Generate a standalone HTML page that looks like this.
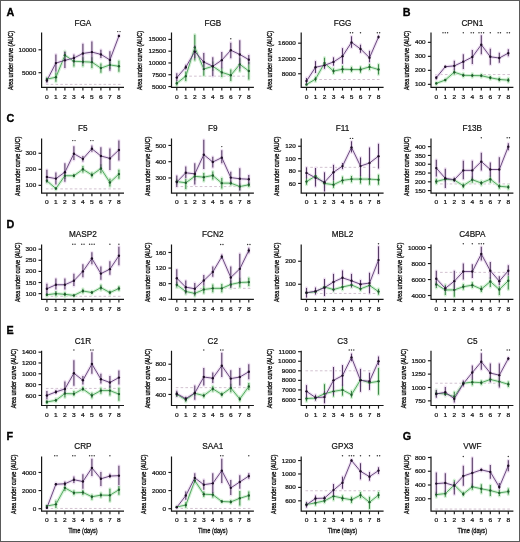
<!DOCTYPE html>
<html><head><meta charset="utf-8"><style>
html,body{margin:0;padding:0;background:#fff;}
svg{display:block;font-family:"Liberation Sans",sans-serif;will-change:transform;}
</style></head><body>
<svg width="520" height="542" viewBox="0 0 520 542" font-family="Liberation Sans, sans-serif"><rect x="0.5" y="0.5" width="519" height="541" fill="#fff" stroke="#5a5a5a" stroke-width="1"/><g><line x1="45.9" x2="121.9" y1="84.38" y2="84.38" stroke="#d2c2d0" stroke-width="1" stroke-dasharray="2.6 2.2"/><path d="M46.9,79.11 L55.9,77.28 L64.9,55.3 L73.9,61.25 L82.9,61.71 L91.9,62.17 L100.9,68.12 L109.9,64.91 L118.9,66.29M46.9,81.86V77.28M55.9,81.86V72.24M64.9,60.79V51.17M73.9,66.52V57.59M82.9,66.29V57.13M91.9,68.12V57.13M100.9,72.7V63.54M109.9,69.04V59.88M118.9,71.78V60.79" fill="none" stroke="#d5f1d6" stroke-width="3.2" stroke-linejoin="round" stroke-linecap="round"/><path d="M46.9,80.49 L55.9,63.08 L64.9,60.33 L73.9,58.04 L82.9,53.46 L91.9,52.09 L100.9,54.38 L109.9,59.88 L118.9,36.06M46.9,82.78V78.2M55.9,71.78V54.38M64.9,68.12V52.09M73.9,62.17V54.38M82.9,63.54V43.85M91.9,62.17V41.56M100.9,58.04V49.8M109.9,70.87V51.17M118.9,36.98V34.69" fill="none" stroke="#f0e2f3" stroke-width="3.2" stroke-linejoin="round" stroke-linecap="round"/><line x1="46.9" x2="46.9" y1="81.86" y2="77.28" stroke="#3f8a4a" stroke-width="1.1"/><line x1="55.9" x2="55.9" y1="81.86" y2="72.24" stroke="#3f8a4a" stroke-width="1.1"/><line x1="64.9" x2="64.9" y1="60.79" y2="51.17" stroke="#3f8a4a" stroke-width="1.1"/><line x1="73.9" x2="73.9" y1="66.52" y2="57.59" stroke="#3f8a4a" stroke-width="1.1"/><line x1="82.9" x2="82.9" y1="66.29" y2="57.13" stroke="#3f8a4a" stroke-width="1.1"/><line x1="91.9" x2="91.9" y1="68.12" y2="57.13" stroke="#3f8a4a" stroke-width="1.1"/><line x1="100.9" x2="100.9" y1="72.7" y2="63.54" stroke="#3f8a4a" stroke-width="1.1"/><line x1="109.9" x2="109.9" y1="69.04" y2="59.88" stroke="#3f8a4a" stroke-width="1.1"/><line x1="118.9" x2="118.9" y1="71.78" y2="60.79" stroke="#3f8a4a" stroke-width="1.1"/><line x1="46.9" x2="46.9" y1="82.78" y2="78.2" stroke="#553a66" stroke-width="1.1"/><line x1="55.9" x2="55.9" y1="71.78" y2="54.38" stroke="#553a66" stroke-width="1.1"/><line x1="64.9" x2="64.9" y1="68.12" y2="52.09" stroke="#553a66" stroke-width="1.1"/><line x1="73.9" x2="73.9" y1="62.17" y2="54.38" stroke="#553a66" stroke-width="1.1"/><line x1="82.9" x2="82.9" y1="63.54" y2="43.85" stroke="#553a66" stroke-width="1.1"/><line x1="91.9" x2="91.9" y1="62.17" y2="41.56" stroke="#553a66" stroke-width="1.1"/><line x1="100.9" x2="100.9" y1="58.04" y2="49.8" stroke="#553a66" stroke-width="1.1"/><line x1="109.9" x2="109.9" y1="70.87" y2="51.17" stroke="#553a66" stroke-width="1.1"/><line x1="118.9" x2="118.9" y1="36.98" y2="34.69" stroke="#553a66" stroke-width="1.1"/><polyline points="46.9,79.11 55.9,77.28 64.9,55.3 73.9,61.25 82.9,61.71 91.9,62.17 100.9,68.12 109.9,64.91 118.9,66.29" fill="none" stroke="#45a055" stroke-width="0.9"/><polyline points="46.9,80.49 55.9,63.08 64.9,60.33 73.9,58.04 82.9,53.46 91.9,52.09 100.9,54.38 109.9,59.88 118.9,36.06" fill="none" stroke="#5a3a72" stroke-width="0.9"/><circle cx="46.9" cy="79.11" r="1.2" fill="#1f5a2c"/><circle cx="55.9" cy="77.28" r="1.2" fill="#1f5a2c"/><circle cx="64.9" cy="55.3" r="1.2" fill="#1f5a2c"/><circle cx="73.9" cy="61.25" r="1.2" fill="#1f5a2c"/><circle cx="82.9" cy="61.71" r="1.2" fill="#1f5a2c"/><circle cx="91.9" cy="62.17" r="1.2" fill="#1f5a2c"/><circle cx="100.9" cy="68.12" r="1.2" fill="#1f5a2c"/><circle cx="109.9" cy="64.91" r="1.2" fill="#1f5a2c"/><circle cx="118.9" cy="66.29" r="1.2" fill="#1f5a2c"/><circle cx="46.9" cy="80.49" r="1.2" fill="#1e0f26"/><circle cx="55.9" cy="63.08" r="1.2" fill="#1e0f26"/><circle cx="64.9" cy="60.33" r="1.2" fill="#1e0f26"/><circle cx="73.9" cy="58.04" r="1.2" fill="#1e0f26"/><circle cx="82.9" cy="53.46" r="1.2" fill="#1e0f26"/><circle cx="91.9" cy="52.09" r="1.2" fill="#1e0f26"/><circle cx="100.9" cy="54.38" r="1.2" fill="#1e0f26"/><circle cx="109.9" cy="59.88" r="1.2" fill="#1e0f26"/><circle cx="118.9" cy="36.06" r="1.2" fill="#1e0f26"/><path d="M41.6,32.6V87.4H124" fill="none" stroke="#151515" stroke-width="1.2"/><line x1="46.9" x2="46.9" y1="87.4" y2="90.5" stroke="#1a1a1a" stroke-width="1.15"/><text transform="translate(46.9,98.6) scale(1.1,1)" text-anchor="middle" font-size="6" fill="#1a1a1a" stroke="#1a1a1a" stroke-width="0.25">0</text><line x1="55.9" x2="55.9" y1="87.4" y2="90.5" stroke="#1a1a1a" stroke-width="1.15"/><text transform="translate(55.9,98.6) scale(1.1,1)" text-anchor="middle" font-size="6" fill="#1a1a1a" stroke="#1a1a1a" stroke-width="0.25">1</text><line x1="64.9" x2="64.9" y1="87.4" y2="90.5" stroke="#1a1a1a" stroke-width="1.15"/><text transform="translate(64.9,98.6) scale(1.1,1)" text-anchor="middle" font-size="6" fill="#1a1a1a" stroke="#1a1a1a" stroke-width="0.25">2</text><line x1="73.9" x2="73.9" y1="87.4" y2="90.5" stroke="#1a1a1a" stroke-width="1.15"/><text transform="translate(73.9,98.6) scale(1.1,1)" text-anchor="middle" font-size="6" fill="#1a1a1a" stroke="#1a1a1a" stroke-width="0.25">3</text><line x1="82.9" x2="82.9" y1="87.4" y2="90.5" stroke="#1a1a1a" stroke-width="1.15"/><text transform="translate(82.9,98.6) scale(1.1,1)" text-anchor="middle" font-size="6" fill="#1a1a1a" stroke="#1a1a1a" stroke-width="0.25">4</text><line x1="91.9" x2="91.9" y1="87.4" y2="90.5" stroke="#1a1a1a" stroke-width="1.15"/><text transform="translate(91.9,98.6) scale(1.1,1)" text-anchor="middle" font-size="6" fill="#1a1a1a" stroke="#1a1a1a" stroke-width="0.25">5</text><line x1="100.9" x2="100.9" y1="87.4" y2="90.5" stroke="#1a1a1a" stroke-width="1.15"/><text transform="translate(100.9,98.6) scale(1.1,1)" text-anchor="middle" font-size="6" fill="#1a1a1a" stroke="#1a1a1a" stroke-width="0.25">6</text><line x1="109.9" x2="109.9" y1="87.4" y2="90.5" stroke="#1a1a1a" stroke-width="1.15"/><text transform="translate(109.9,98.6) scale(1.1,1)" text-anchor="middle" font-size="6" fill="#1a1a1a" stroke="#1a1a1a" stroke-width="0.25">7</text><line x1="118.9" x2="118.9" y1="87.4" y2="90.5" stroke="#1a1a1a" stroke-width="1.15"/><text transform="translate(118.9,98.6) scale(1.1,1)" text-anchor="middle" font-size="6" fill="#1a1a1a" stroke="#1a1a1a" stroke-width="0.25">8</text><line x1="38.5" x2="41.6" y1="49.8" y2="49.8" stroke="#1a1a1a" stroke-width="1.15"/><text transform="translate(36.2,51.85) scale(1.1,1)" text-anchor="end" font-size="5.8" fill="#1a1a1a" stroke="#1a1a1a" stroke-width="0.25">10000</text><line x1="38.5" x2="41.6" y1="72.7" y2="72.7" stroke="#1a1a1a" stroke-width="1.15"/><text transform="translate(36.2,74.75) scale(1.1,1)" text-anchor="end" font-size="5.8" fill="#1a1a1a" stroke="#1a1a1a" stroke-width="0.25">5000</text><text transform="translate(12.56,84.5) rotate(-90)" text-anchor="middle" font-size="7.6" textLength="11.2" lengthAdjust="spacingAndGlyphs" fill="#111" stroke="#111" stroke-width="0.35">Area</text><text transform="translate(12.56,70.2) rotate(-90)" text-anchor="middle" font-size="7.6" textLength="14.6" lengthAdjust="spacingAndGlyphs" fill="#111" stroke="#111" stroke-width="0.35">under</text><text transform="translate(12.56,54.7) rotate(-90)" text-anchor="middle" font-size="7.6" textLength="13.6" lengthAdjust="spacingAndGlyphs" fill="#111" stroke="#111" stroke-width="0.35">curve</text><text transform="translate(12.56,38.6) rotate(-90)" text-anchor="middle" font-size="7.6" textLength="15.6" lengthAdjust="spacingAndGlyphs" fill="#111" stroke="#111" stroke-width="0.35">(AUC)</text><text x="82.9" y="25.9" text-anchor="middle" font-size="8.2" fill="#111" stroke="#111" stroke-width="0.2">FGA</text><circle cx="117.75" cy="31.6" r="0.72" fill="#333"/><circle cx="120.05" cy="31.6" r="0.72" fill="#333"/><text x="6.5" y="16" font-size="10.8" font-weight="bold" fill="#000" stroke="#000" stroke-width="0.3">A</text></g><g><line x1="189.3" x2="251.8" y1="76.16" y2="76.16" stroke="#d2c2d0" stroke-width="1" stroke-dasharray="2.6 2.2"/><path d="M176.8,83.24 L185.8,76.16 L194.8,47.4 L203.8,69.09 L212.8,66.26 L221.8,72.39 L230.8,75.22 L239.8,64.37 L248.8,70.98M176.8,85.6V80.41M185.8,80.88V71.45M194.8,60.6V34.66M203.8,75.69V62.96M212.8,70.98V61.55M221.8,77.11V67.68M230.8,80.88V69.56M239.8,71.45V58.24M248.8,79.47V62.02" fill="none" stroke="#d5f1d6" stroke-width="3.2" stroke-linejoin="round" stroke-linecap="round"/><path d="M176.8,77.58 L185.8,67.2 L194.8,51.64 L203.8,62.02 L212.8,66.26 L221.8,60.13 L230.8,50.23 L239.8,54.47 L248.8,59.66M176.8,80.88V73.34M185.8,69.56V64.85M194.8,58.24V45.51M203.8,70.03V53.06M212.8,76.16V57.3M221.8,68.15V52.11M230.8,58.24V42.68M239.8,68.62V40.32M248.8,64.37V54.94" fill="none" stroke="#f0e2f3" stroke-width="3.2" stroke-linejoin="round" stroke-linecap="round"/><line x1="176.8" x2="176.8" y1="85.6" y2="80.41" stroke="#3f8a4a" stroke-width="1.1"/><line x1="185.8" x2="185.8" y1="80.88" y2="71.45" stroke="#3f8a4a" stroke-width="1.1"/><line x1="194.8" x2="194.8" y1="60.6" y2="34.66" stroke="#3f8a4a" stroke-width="1.1"/><line x1="203.8" x2="203.8" y1="75.69" y2="62.96" stroke="#3f8a4a" stroke-width="1.1"/><line x1="212.8" x2="212.8" y1="70.98" y2="61.55" stroke="#3f8a4a" stroke-width="1.1"/><line x1="221.8" x2="221.8" y1="77.11" y2="67.68" stroke="#3f8a4a" stroke-width="1.1"/><line x1="230.8" x2="230.8" y1="80.88" y2="69.56" stroke="#3f8a4a" stroke-width="1.1"/><line x1="239.8" x2="239.8" y1="71.45" y2="58.24" stroke="#3f8a4a" stroke-width="1.1"/><line x1="248.8" x2="248.8" y1="79.47" y2="62.02" stroke="#3f8a4a" stroke-width="1.1"/><line x1="176.8" x2="176.8" y1="80.88" y2="73.34" stroke="#553a66" stroke-width="1.1"/><line x1="185.8" x2="185.8" y1="69.56" y2="64.85" stroke="#553a66" stroke-width="1.1"/><line x1="194.8" x2="194.8" y1="58.24" y2="45.51" stroke="#553a66" stroke-width="1.1"/><line x1="203.8" x2="203.8" y1="70.03" y2="53.06" stroke="#553a66" stroke-width="1.1"/><line x1="212.8" x2="212.8" y1="76.16" y2="57.3" stroke="#553a66" stroke-width="1.1"/><line x1="221.8" x2="221.8" y1="68.15" y2="52.11" stroke="#553a66" stroke-width="1.1"/><line x1="230.8" x2="230.8" y1="58.24" y2="42.68" stroke="#553a66" stroke-width="1.1"/><line x1="239.8" x2="239.8" y1="68.62" y2="40.32" stroke="#553a66" stroke-width="1.1"/><line x1="248.8" x2="248.8" y1="64.37" y2="54.94" stroke="#553a66" stroke-width="1.1"/><polyline points="176.8,83.24 185.8,76.16 194.8,47.4 203.8,69.09 212.8,66.26 221.8,72.39 230.8,75.22 239.8,64.37 248.8,70.98" fill="none" stroke="#45a055" stroke-width="0.9"/><polyline points="176.8,77.58 185.8,67.2 194.8,51.64 203.8,62.02 212.8,66.26 221.8,60.13 230.8,50.23 239.8,54.47 248.8,59.66" fill="none" stroke="#5a3a72" stroke-width="0.9"/><circle cx="176.8" cy="83.24" r="1.2" fill="#1f5a2c"/><circle cx="185.8" cy="76.16" r="1.2" fill="#1f5a2c"/><circle cx="194.8" cy="47.4" r="1.2" fill="#1f5a2c"/><circle cx="203.8" cy="69.09" r="1.2" fill="#1f5a2c"/><circle cx="212.8" cy="66.26" r="1.2" fill="#1f5a2c"/><circle cx="221.8" cy="72.39" r="1.2" fill="#1f5a2c"/><circle cx="230.8" cy="75.22" r="1.2" fill="#1f5a2c"/><circle cx="239.8" cy="64.37" r="1.2" fill="#1f5a2c"/><circle cx="248.8" cy="70.98" r="1.2" fill="#1f5a2c"/><circle cx="176.8" cy="77.58" r="1.2" fill="#1e0f26"/><circle cx="185.8" cy="67.2" r="1.2" fill="#1e0f26"/><circle cx="194.8" cy="51.64" r="1.2" fill="#1e0f26"/><circle cx="203.8" cy="62.02" r="1.2" fill="#1e0f26"/><circle cx="212.8" cy="66.26" r="1.2" fill="#1e0f26"/><circle cx="221.8" cy="60.13" r="1.2" fill="#1e0f26"/><circle cx="230.8" cy="50.23" r="1.2" fill="#1e0f26"/><circle cx="239.8" cy="54.47" r="1.2" fill="#1e0f26"/><circle cx="248.8" cy="59.66" r="1.2" fill="#1e0f26"/><path d="M171.5,32.6V87.4H253.9" fill="none" stroke="#151515" stroke-width="1.2"/><line x1="176.8" x2="176.8" y1="87.4" y2="90.5" stroke="#1a1a1a" stroke-width="1.15"/><text transform="translate(176.8,98.6) scale(1.1,1)" text-anchor="middle" font-size="6" fill="#1a1a1a" stroke="#1a1a1a" stroke-width="0.25">0</text><line x1="185.8" x2="185.8" y1="87.4" y2="90.5" stroke="#1a1a1a" stroke-width="1.15"/><text transform="translate(185.8,98.6) scale(1.1,1)" text-anchor="middle" font-size="6" fill="#1a1a1a" stroke="#1a1a1a" stroke-width="0.25">1</text><line x1="194.8" x2="194.8" y1="87.4" y2="90.5" stroke="#1a1a1a" stroke-width="1.15"/><text transform="translate(194.8,98.6) scale(1.1,1)" text-anchor="middle" font-size="6" fill="#1a1a1a" stroke="#1a1a1a" stroke-width="0.25">2</text><line x1="203.8" x2="203.8" y1="87.4" y2="90.5" stroke="#1a1a1a" stroke-width="1.15"/><text transform="translate(203.8,98.6) scale(1.1,1)" text-anchor="middle" font-size="6" fill="#1a1a1a" stroke="#1a1a1a" stroke-width="0.25">3</text><line x1="212.8" x2="212.8" y1="87.4" y2="90.5" stroke="#1a1a1a" stroke-width="1.15"/><text transform="translate(212.8,98.6) scale(1.1,1)" text-anchor="middle" font-size="6" fill="#1a1a1a" stroke="#1a1a1a" stroke-width="0.25">4</text><line x1="221.8" x2="221.8" y1="87.4" y2="90.5" stroke="#1a1a1a" stroke-width="1.15"/><text transform="translate(221.8,98.6) scale(1.1,1)" text-anchor="middle" font-size="6" fill="#1a1a1a" stroke="#1a1a1a" stroke-width="0.25">5</text><line x1="230.8" x2="230.8" y1="87.4" y2="90.5" stroke="#1a1a1a" stroke-width="1.15"/><text transform="translate(230.8,98.6) scale(1.1,1)" text-anchor="middle" font-size="6" fill="#1a1a1a" stroke="#1a1a1a" stroke-width="0.25">6</text><line x1="239.8" x2="239.8" y1="87.4" y2="90.5" stroke="#1a1a1a" stroke-width="1.15"/><text transform="translate(239.8,98.6) scale(1.1,1)" text-anchor="middle" font-size="6" fill="#1a1a1a" stroke="#1a1a1a" stroke-width="0.25">7</text><line x1="248.8" x2="248.8" y1="87.4" y2="90.5" stroke="#1a1a1a" stroke-width="1.15"/><text transform="translate(248.8,98.6) scale(1.1,1)" text-anchor="middle" font-size="6" fill="#1a1a1a" stroke="#1a1a1a" stroke-width="0.25">8</text><line x1="168.4" x2="171.5" y1="39.38" y2="39.38" stroke="#1a1a1a" stroke-width="1.15"/><text transform="translate(166.1,41.43) scale(1.1,1)" text-anchor="end" font-size="5.8" fill="#1a1a1a" stroke="#1a1a1a" stroke-width="0.25">15000</text><line x1="168.4" x2="171.5" y1="51.17" y2="51.17" stroke="#1a1a1a" stroke-width="1.15"/><text transform="translate(166.1,53.22) scale(1.1,1)" text-anchor="end" font-size="5.8" fill="#1a1a1a" stroke="#1a1a1a" stroke-width="0.25">12500</text><line x1="168.4" x2="171.5" y1="62.96" y2="62.96" stroke="#1a1a1a" stroke-width="1.15"/><text transform="translate(166.1,65.01) scale(1.1,1)" text-anchor="end" font-size="5.8" fill="#1a1a1a" stroke="#1a1a1a" stroke-width="0.25">10000</text><line x1="168.4" x2="171.5" y1="74.75" y2="74.75" stroke="#1a1a1a" stroke-width="1.15"/><text transform="translate(166.1,76.8) scale(1.1,1)" text-anchor="end" font-size="5.8" fill="#1a1a1a" stroke="#1a1a1a" stroke-width="0.25">7500</text><line x1="168.4" x2="171.5" y1="86.54" y2="86.54" stroke="#1a1a1a" stroke-width="1.15"/><text transform="translate(166.1,88.59) scale(1.1,1)" text-anchor="end" font-size="5.8" fill="#1a1a1a" stroke="#1a1a1a" stroke-width="0.25">5000</text><text transform="translate(142.46,84.5) rotate(-90)" text-anchor="middle" font-size="7.6" textLength="11.2" lengthAdjust="spacingAndGlyphs" fill="#111" stroke="#111" stroke-width="0.35">Area</text><text transform="translate(142.46,70.2) rotate(-90)" text-anchor="middle" font-size="7.6" textLength="14.6" lengthAdjust="spacingAndGlyphs" fill="#111" stroke="#111" stroke-width="0.35">under</text><text transform="translate(142.46,54.7) rotate(-90)" text-anchor="middle" font-size="7.6" textLength="13.6" lengthAdjust="spacingAndGlyphs" fill="#111" stroke="#111" stroke-width="0.35">curve</text><text transform="translate(142.46,38.6) rotate(-90)" text-anchor="middle" font-size="7.6" textLength="15.6" lengthAdjust="spacingAndGlyphs" fill="#111" stroke="#111" stroke-width="0.35">(AUC)</text><text x="212.8" y="25.9" text-anchor="middle" font-size="8.2" fill="#111" stroke="#111" stroke-width="0.2">FGB</text><circle cx="230.8" cy="38.7" r="0.72" fill="#333"/></g><g><line x1="314.5" x2="381.5" y1="79.5" y2="79.5" stroke="#d2c2d0" stroke-width="1" stroke-dasharray="2.6 2.2"/><path d="M306.5,84.48 L315.5,79.12 L324.5,63.06 L333.5,71.09 L342.5,69.18 L351.5,69.56 L360.5,69.56 L369.5,66.88 L378.5,69.56M306.5,85.24V83.33M315.5,81.42V76.83M324.5,68.03V57.7M333.5,73.77V68.41M342.5,72.62V65.73M351.5,71.85V66.88M360.5,72.62V66.5M369.5,69.94V63.82M378.5,74.53V64.2" fill="none" stroke="#d5f1d6" stroke-width="3.2" stroke-linejoin="round" stroke-linecap="round"/><path d="M306.5,81.03 L315.5,67.26 L324.5,65.35 L333.5,61.91 L342.5,56.17 L351.5,42.4 L360.5,48.9 L369.5,57.7 L378.5,37.05M306.5,83.71V77.97M315.5,73V61.14M324.5,68.79V62.29M333.5,65.73V57.32M342.5,63.82V48.14M351.5,47.76V36.28M360.5,52.73V44.7M369.5,62.29V50.82M378.5,38.58V35.52" fill="none" stroke="#f0e2f3" stroke-width="3.2" stroke-linejoin="round" stroke-linecap="round"/><line x1="306.5" x2="306.5" y1="85.24" y2="83.33" stroke="#3f8a4a" stroke-width="1.1"/><line x1="315.5" x2="315.5" y1="81.42" y2="76.83" stroke="#3f8a4a" stroke-width="1.1"/><line x1="324.5" x2="324.5" y1="68.03" y2="57.7" stroke="#3f8a4a" stroke-width="1.1"/><line x1="333.5" x2="333.5" y1="73.77" y2="68.41" stroke="#3f8a4a" stroke-width="1.1"/><line x1="342.5" x2="342.5" y1="72.62" y2="65.73" stroke="#3f8a4a" stroke-width="1.1"/><line x1="351.5" x2="351.5" y1="71.85" y2="66.88" stroke="#3f8a4a" stroke-width="1.1"/><line x1="360.5" x2="360.5" y1="72.62" y2="66.5" stroke="#3f8a4a" stroke-width="1.1"/><line x1="369.5" x2="369.5" y1="69.94" y2="63.82" stroke="#3f8a4a" stroke-width="1.1"/><line x1="378.5" x2="378.5" y1="74.53" y2="64.2" stroke="#3f8a4a" stroke-width="1.1"/><line x1="306.5" x2="306.5" y1="83.71" y2="77.97" stroke="#553a66" stroke-width="1.1"/><line x1="315.5" x2="315.5" y1="73" y2="61.14" stroke="#553a66" stroke-width="1.1"/><line x1="324.5" x2="324.5" y1="68.79" y2="62.29" stroke="#553a66" stroke-width="1.1"/><line x1="333.5" x2="333.5" y1="65.73" y2="57.32" stroke="#553a66" stroke-width="1.1"/><line x1="342.5" x2="342.5" y1="63.82" y2="48.14" stroke="#553a66" stroke-width="1.1"/><line x1="351.5" x2="351.5" y1="47.76" y2="36.28" stroke="#553a66" stroke-width="1.1"/><line x1="360.5" x2="360.5" y1="52.73" y2="44.7" stroke="#553a66" stroke-width="1.1"/><line x1="369.5" x2="369.5" y1="62.29" y2="50.82" stroke="#553a66" stroke-width="1.1"/><line x1="378.5" x2="378.5" y1="38.58" y2="35.52" stroke="#553a66" stroke-width="1.1"/><polyline points="306.5,84.48 315.5,79.12 324.5,63.06 333.5,71.09 342.5,69.18 351.5,69.56 360.5,69.56 369.5,66.88 378.5,69.56" fill="none" stroke="#45a055" stroke-width="0.9"/><polyline points="306.5,81.03 315.5,67.26 324.5,65.35 333.5,61.91 342.5,56.17 351.5,42.4 360.5,48.9 369.5,57.7 378.5,37.05" fill="none" stroke="#5a3a72" stroke-width="0.9"/><circle cx="306.5" cy="84.48" r="1.2" fill="#1f5a2c"/><circle cx="315.5" cy="79.12" r="1.2" fill="#1f5a2c"/><circle cx="324.5" cy="63.06" r="1.2" fill="#1f5a2c"/><circle cx="333.5" cy="71.09" r="1.2" fill="#1f5a2c"/><circle cx="342.5" cy="69.18" r="1.2" fill="#1f5a2c"/><circle cx="351.5" cy="69.56" r="1.2" fill="#1f5a2c"/><circle cx="360.5" cy="69.56" r="1.2" fill="#1f5a2c"/><circle cx="369.5" cy="66.88" r="1.2" fill="#1f5a2c"/><circle cx="378.5" cy="69.56" r="1.2" fill="#1f5a2c"/><circle cx="306.5" cy="81.03" r="1.2" fill="#1e0f26"/><circle cx="315.5" cy="67.26" r="1.2" fill="#1e0f26"/><circle cx="324.5" cy="65.35" r="1.2" fill="#1e0f26"/><circle cx="333.5" cy="61.91" r="1.2" fill="#1e0f26"/><circle cx="342.5" cy="56.17" r="1.2" fill="#1e0f26"/><circle cx="351.5" cy="42.4" r="1.2" fill="#1e0f26"/><circle cx="360.5" cy="48.9" r="1.2" fill="#1e0f26"/><circle cx="369.5" cy="57.7" r="1.2" fill="#1e0f26"/><circle cx="378.5" cy="37.05" r="1.2" fill="#1e0f26"/><path d="M301.2,32.6V87.4H383.6" fill="none" stroke="#151515" stroke-width="1.2"/><line x1="306.5" x2="306.5" y1="87.4" y2="90.5" stroke="#1a1a1a" stroke-width="1.15"/><text transform="translate(306.5,98.6) scale(1.1,1)" text-anchor="middle" font-size="6" fill="#1a1a1a" stroke="#1a1a1a" stroke-width="0.25">0</text><line x1="315.5" x2="315.5" y1="87.4" y2="90.5" stroke="#1a1a1a" stroke-width="1.15"/><text transform="translate(315.5,98.6) scale(1.1,1)" text-anchor="middle" font-size="6" fill="#1a1a1a" stroke="#1a1a1a" stroke-width="0.25">1</text><line x1="324.5" x2="324.5" y1="87.4" y2="90.5" stroke="#1a1a1a" stroke-width="1.15"/><text transform="translate(324.5,98.6) scale(1.1,1)" text-anchor="middle" font-size="6" fill="#1a1a1a" stroke="#1a1a1a" stroke-width="0.25">2</text><line x1="333.5" x2="333.5" y1="87.4" y2="90.5" stroke="#1a1a1a" stroke-width="1.15"/><text transform="translate(333.5,98.6) scale(1.1,1)" text-anchor="middle" font-size="6" fill="#1a1a1a" stroke="#1a1a1a" stroke-width="0.25">3</text><line x1="342.5" x2="342.5" y1="87.4" y2="90.5" stroke="#1a1a1a" stroke-width="1.15"/><text transform="translate(342.5,98.6) scale(1.1,1)" text-anchor="middle" font-size="6" fill="#1a1a1a" stroke="#1a1a1a" stroke-width="0.25">4</text><line x1="351.5" x2="351.5" y1="87.4" y2="90.5" stroke="#1a1a1a" stroke-width="1.15"/><text transform="translate(351.5,98.6) scale(1.1,1)" text-anchor="middle" font-size="6" fill="#1a1a1a" stroke="#1a1a1a" stroke-width="0.25">5</text><line x1="360.5" x2="360.5" y1="87.4" y2="90.5" stroke="#1a1a1a" stroke-width="1.15"/><text transform="translate(360.5,98.6) scale(1.1,1)" text-anchor="middle" font-size="6" fill="#1a1a1a" stroke="#1a1a1a" stroke-width="0.25">6</text><line x1="369.5" x2="369.5" y1="87.4" y2="90.5" stroke="#1a1a1a" stroke-width="1.15"/><text transform="translate(369.5,98.6) scale(1.1,1)" text-anchor="middle" font-size="6" fill="#1a1a1a" stroke="#1a1a1a" stroke-width="0.25">7</text><line x1="378.5" x2="378.5" y1="87.4" y2="90.5" stroke="#1a1a1a" stroke-width="1.15"/><text transform="translate(378.5,98.6) scale(1.1,1)" text-anchor="middle" font-size="6" fill="#1a1a1a" stroke="#1a1a1a" stroke-width="0.25">8</text><line x1="298.1" x2="301.2" y1="43.17" y2="43.17" stroke="#1a1a1a" stroke-width="1.15"/><text transform="translate(295.8,45.22) scale(1.1,1)" text-anchor="end" font-size="5.8" fill="#1a1a1a" stroke="#1a1a1a" stroke-width="0.25">16000</text><line x1="298.1" x2="301.2" y1="58.47" y2="58.47" stroke="#1a1a1a" stroke-width="1.15"/><text transform="translate(295.8,60.52) scale(1.1,1)" text-anchor="end" font-size="5.8" fill="#1a1a1a" stroke="#1a1a1a" stroke-width="0.25">12000</text><line x1="298.1" x2="301.2" y1="73.77" y2="73.77" stroke="#1a1a1a" stroke-width="1.15"/><text transform="translate(295.8,75.82) scale(1.1,1)" text-anchor="end" font-size="5.8" fill="#1a1a1a" stroke="#1a1a1a" stroke-width="0.25">8000</text><text transform="translate(272.16,84.5) rotate(-90)" text-anchor="middle" font-size="7.6" textLength="11.2" lengthAdjust="spacingAndGlyphs" fill="#111" stroke="#111" stroke-width="0.35">Area</text><text transform="translate(272.16,70.2) rotate(-90)" text-anchor="middle" font-size="7.6" textLength="14.6" lengthAdjust="spacingAndGlyphs" fill="#111" stroke="#111" stroke-width="0.35">under</text><text transform="translate(272.16,54.7) rotate(-90)" text-anchor="middle" font-size="7.6" textLength="13.6" lengthAdjust="spacingAndGlyphs" fill="#111" stroke="#111" stroke-width="0.35">curve</text><text transform="translate(272.16,38.6) rotate(-90)" text-anchor="middle" font-size="7.6" textLength="15.6" lengthAdjust="spacingAndGlyphs" fill="#111" stroke="#111" stroke-width="0.35">(AUC)</text><text x="342.5" y="25.9" text-anchor="middle" font-size="8.2" fill="#111" stroke="#111" stroke-width="0.2">FGG</text><circle cx="350.35" cy="32.7" r="0.72" fill="#333"/><circle cx="352.65" cy="32.7" r="0.72" fill="#333"/><circle cx="360.5" cy="32.7" r="0.72" fill="#333"/><circle cx="377.35" cy="32.7" r="0.72" fill="#333"/><circle cx="379.65" cy="32.7" r="0.72" fill="#333"/></g><g><line x1="435.3" x2="511.3" y1="74.55" y2="74.55" stroke="#d2c2d0" stroke-width="1" stroke-dasharray="2.6 2.2"/><path d="M436.3,83.37 L445.3,80.01 L454.3,72.17 L463.3,75.25 L472.3,75.53 L481.3,75.67 L490.3,77.77 L499.3,79.45 L508.3,80.15M436.3,84.63V82.11M445.3,81.13V78.89M454.3,74.55V69.65M463.3,77.07V73.43M472.3,77.35V73.71M481.3,77.35V73.99M490.3,79.45V76.09M499.3,81.27V77.63M508.3,82.25V78.05" fill="none" stroke="#d5f1d6" stroke-width="3.2" stroke-linejoin="round" stroke-linecap="round"/><path d="M436.3,77.63 L445.3,66.71 L454.3,65.87 L463.3,61.67 L472.3,57.05 L481.3,44.73 L490.3,56.77 L499.3,58.03 L508.3,53.13M436.3,79.45V75.95M445.3,67.55V65.87M454.3,70.35V60.83M463.3,68.95V54.25M472.3,64.05V50.05M481.3,54.25V35.35M490.3,64.75V48.65M499.3,62.65V52.85M508.3,56.35V49.35" fill="none" stroke="#f0e2f3" stroke-width="3.2" stroke-linejoin="round" stroke-linecap="round"/><line x1="436.3" x2="436.3" y1="84.63" y2="82.11" stroke="#3f8a4a" stroke-width="1.1"/><line x1="445.3" x2="445.3" y1="81.13" y2="78.89" stroke="#3f8a4a" stroke-width="1.1"/><line x1="454.3" x2="454.3" y1="74.55" y2="69.65" stroke="#3f8a4a" stroke-width="1.1"/><line x1="463.3" x2="463.3" y1="77.07" y2="73.43" stroke="#3f8a4a" stroke-width="1.1"/><line x1="472.3" x2="472.3" y1="77.35" y2="73.71" stroke="#3f8a4a" stroke-width="1.1"/><line x1="481.3" x2="481.3" y1="77.35" y2="73.99" stroke="#3f8a4a" stroke-width="1.1"/><line x1="490.3" x2="490.3" y1="79.45" y2="76.09" stroke="#3f8a4a" stroke-width="1.1"/><line x1="499.3" x2="499.3" y1="81.27" y2="77.63" stroke="#3f8a4a" stroke-width="1.1"/><line x1="508.3" x2="508.3" y1="82.25" y2="78.05" stroke="#3f8a4a" stroke-width="1.1"/><line x1="436.3" x2="436.3" y1="79.45" y2="75.95" stroke="#553a66" stroke-width="1.1"/><line x1="445.3" x2="445.3" y1="67.55" y2="65.87" stroke="#553a66" stroke-width="1.1"/><line x1="454.3" x2="454.3" y1="70.35" y2="60.83" stroke="#553a66" stroke-width="1.1"/><line x1="463.3" x2="463.3" y1="68.95" y2="54.25" stroke="#553a66" stroke-width="1.1"/><line x1="472.3" x2="472.3" y1="64.05" y2="50.05" stroke="#553a66" stroke-width="1.1"/><line x1="481.3" x2="481.3" y1="54.25" y2="35.35" stroke="#553a66" stroke-width="1.1"/><line x1="490.3" x2="490.3" y1="64.75" y2="48.65" stroke="#553a66" stroke-width="1.1"/><line x1="499.3" x2="499.3" y1="62.65" y2="52.85" stroke="#553a66" stroke-width="1.1"/><line x1="508.3" x2="508.3" y1="56.35" y2="49.35" stroke="#553a66" stroke-width="1.1"/><polyline points="436.3,83.37 445.3,80.01 454.3,72.17 463.3,75.25 472.3,75.53 481.3,75.67 490.3,77.77 499.3,79.45 508.3,80.15" fill="none" stroke="#45a055" stroke-width="0.9"/><polyline points="436.3,77.63 445.3,66.71 454.3,65.87 463.3,61.67 472.3,57.05 481.3,44.73 490.3,56.77 499.3,58.03 508.3,53.13" fill="none" stroke="#5a3a72" stroke-width="0.9"/><circle cx="436.3" cy="83.37" r="1.2" fill="#1f5a2c"/><circle cx="445.3" cy="80.01" r="1.2" fill="#1f5a2c"/><circle cx="454.3" cy="72.17" r="1.2" fill="#1f5a2c"/><circle cx="463.3" cy="75.25" r="1.2" fill="#1f5a2c"/><circle cx="472.3" cy="75.53" r="1.2" fill="#1f5a2c"/><circle cx="481.3" cy="75.67" r="1.2" fill="#1f5a2c"/><circle cx="490.3" cy="77.77" r="1.2" fill="#1f5a2c"/><circle cx="499.3" cy="79.45" r="1.2" fill="#1f5a2c"/><circle cx="508.3" cy="80.15" r="1.2" fill="#1f5a2c"/><circle cx="436.3" cy="77.63" r="1.2" fill="#1e0f26"/><circle cx="445.3" cy="66.71" r="1.2" fill="#1e0f26"/><circle cx="454.3" cy="65.87" r="1.2" fill="#1e0f26"/><circle cx="463.3" cy="61.67" r="1.2" fill="#1e0f26"/><circle cx="472.3" cy="57.05" r="1.2" fill="#1e0f26"/><circle cx="481.3" cy="44.73" r="1.2" fill="#1e0f26"/><circle cx="490.3" cy="56.77" r="1.2" fill="#1e0f26"/><circle cx="499.3" cy="58.03" r="1.2" fill="#1e0f26"/><circle cx="508.3" cy="53.13" r="1.2" fill="#1e0f26"/><path d="M431,32.6V87.4H513.4" fill="none" stroke="#151515" stroke-width="1.2"/><line x1="436.3" x2="436.3" y1="87.4" y2="90.5" stroke="#1a1a1a" stroke-width="1.15"/><text transform="translate(436.3,98.6) scale(1.1,1)" text-anchor="middle" font-size="6" fill="#1a1a1a" stroke="#1a1a1a" stroke-width="0.25">0</text><line x1="445.3" x2="445.3" y1="87.4" y2="90.5" stroke="#1a1a1a" stroke-width="1.15"/><text transform="translate(445.3,98.6) scale(1.1,1)" text-anchor="middle" font-size="6" fill="#1a1a1a" stroke="#1a1a1a" stroke-width="0.25">1</text><line x1="454.3" x2="454.3" y1="87.4" y2="90.5" stroke="#1a1a1a" stroke-width="1.15"/><text transform="translate(454.3,98.6) scale(1.1,1)" text-anchor="middle" font-size="6" fill="#1a1a1a" stroke="#1a1a1a" stroke-width="0.25">2</text><line x1="463.3" x2="463.3" y1="87.4" y2="90.5" stroke="#1a1a1a" stroke-width="1.15"/><text transform="translate(463.3,98.6) scale(1.1,1)" text-anchor="middle" font-size="6" fill="#1a1a1a" stroke="#1a1a1a" stroke-width="0.25">3</text><line x1="472.3" x2="472.3" y1="87.4" y2="90.5" stroke="#1a1a1a" stroke-width="1.15"/><text transform="translate(472.3,98.6) scale(1.1,1)" text-anchor="middle" font-size="6" fill="#1a1a1a" stroke="#1a1a1a" stroke-width="0.25">4</text><line x1="481.3" x2="481.3" y1="87.4" y2="90.5" stroke="#1a1a1a" stroke-width="1.15"/><text transform="translate(481.3,98.6) scale(1.1,1)" text-anchor="middle" font-size="6" fill="#1a1a1a" stroke="#1a1a1a" stroke-width="0.25">5</text><line x1="490.3" x2="490.3" y1="87.4" y2="90.5" stroke="#1a1a1a" stroke-width="1.15"/><text transform="translate(490.3,98.6) scale(1.1,1)" text-anchor="middle" font-size="6" fill="#1a1a1a" stroke="#1a1a1a" stroke-width="0.25">6</text><line x1="499.3" x2="499.3" y1="87.4" y2="90.5" stroke="#1a1a1a" stroke-width="1.15"/><text transform="translate(499.3,98.6) scale(1.1,1)" text-anchor="middle" font-size="6" fill="#1a1a1a" stroke="#1a1a1a" stroke-width="0.25">7</text><line x1="508.3" x2="508.3" y1="87.4" y2="90.5" stroke="#1a1a1a" stroke-width="1.15"/><text transform="translate(508.3,98.6) scale(1.1,1)" text-anchor="middle" font-size="6" fill="#1a1a1a" stroke="#1a1a1a" stroke-width="0.25">8</text><line x1="427.9" x2="431" y1="42.35" y2="42.35" stroke="#1a1a1a" stroke-width="1.15"/><text transform="translate(425.6,44.4) scale(1.1,1)" text-anchor="end" font-size="5.8" fill="#1a1a1a" stroke="#1a1a1a" stroke-width="0.25">400</text><line x1="427.9" x2="431" y1="56.35" y2="56.35" stroke="#1a1a1a" stroke-width="1.15"/><text transform="translate(425.6,58.4) scale(1.1,1)" text-anchor="end" font-size="5.8" fill="#1a1a1a" stroke="#1a1a1a" stroke-width="0.25">300</text><line x1="427.9" x2="431" y1="70.35" y2="70.35" stroke="#1a1a1a" stroke-width="1.15"/><text transform="translate(425.6,72.4) scale(1.1,1)" text-anchor="end" font-size="5.8" fill="#1a1a1a" stroke="#1a1a1a" stroke-width="0.25">200</text><line x1="427.9" x2="431" y1="84.35" y2="84.35" stroke="#1a1a1a" stroke-width="1.15"/><text transform="translate(425.6,86.4) scale(1.1,1)" text-anchor="end" font-size="5.8" fill="#1a1a1a" stroke="#1a1a1a" stroke-width="0.25">100</text><text transform="translate(409.06,84.5) rotate(-90)" text-anchor="middle" font-size="7.6" textLength="11.2" lengthAdjust="spacingAndGlyphs" fill="#111" stroke="#111" stroke-width="0.35">Area</text><text transform="translate(409.06,70.2) rotate(-90)" text-anchor="middle" font-size="7.6" textLength="14.6" lengthAdjust="spacingAndGlyphs" fill="#111" stroke="#111" stroke-width="0.35">under</text><text transform="translate(409.06,54.7) rotate(-90)" text-anchor="middle" font-size="7.6" textLength="13.6" lengthAdjust="spacingAndGlyphs" fill="#111" stroke="#111" stroke-width="0.35">curve</text><text transform="translate(409.06,38.6) rotate(-90)" text-anchor="middle" font-size="7.6" textLength="15.6" lengthAdjust="spacingAndGlyphs" fill="#111" stroke="#111" stroke-width="0.35">(AUC)</text><text x="472.3" y="25.9" text-anchor="middle" font-size="8.2" fill="#111" stroke="#111" stroke-width="0.2">CPN1</text><circle cx="443" cy="32.7" r="0.72" fill="#333"/><circle cx="445.3" cy="32.7" r="0.72" fill="#333"/><circle cx="447.6" cy="32.7" r="0.72" fill="#333"/><circle cx="463.3" cy="32.7" r="0.72" fill="#333"/><circle cx="471.15" cy="32.7" r="0.72" fill="#333"/><circle cx="473.45" cy="32.7" r="0.72" fill="#333"/><circle cx="479" cy="32.7" r="0.72" fill="#333"/><circle cx="481.3" cy="32.7" r="0.72" fill="#333"/><circle cx="483.6" cy="32.7" r="0.72" fill="#333"/><circle cx="490.3" cy="32.7" r="0.72" fill="#333"/><circle cx="498.15" cy="32.7" r="0.72" fill="#333"/><circle cx="500.45" cy="32.7" r="0.72" fill="#333"/><circle cx="507.15" cy="32.7" r="0.72" fill="#333"/><circle cx="509.45" cy="32.7" r="0.72" fill="#333"/><text x="402.7" y="16" font-size="10.8" font-weight="bold" fill="#000" stroke="#000" stroke-width="0.3">B</text></g><g><line x1="45.9" x2="121.9" y1="188.88" y2="188.88" stroke="#d2c2d0" stroke-width="1" stroke-dasharray="2.6 2.2"/><path d="M46.9,180.86 L55.9,188.56 L64.9,175.72 L73.9,175.72 L82.9,169.3 L91.9,174.92 L100.9,168.5 L109.9,182.46 L118.9,174.12M46.9,182.94V178.93M55.9,189.84V187.28M64.9,178.93V172.51M73.9,177.33V174.12M82.9,172.51V166.09M91.9,177.33V172.51M100.9,173.15V164.32M109.9,186.47V178.77M118.9,178.77V169.78" fill="none" stroke="#d5f1d6" stroke-width="3.2" stroke-linejoin="round" stroke-linecap="round"/><path d="M46.9,177 L55.9,178.61 L64.9,172.19 L73.9,153.73 L82.9,158.87 L91.9,148.76 L100.9,155.98 L109.9,158.39 L118.9,150.04M46.9,181.82V169.78M55.9,184.39V172.51M64.9,181.82V163.36M73.9,159.99V146.35M82.9,161.6V155.98M91.9,151.65V145.55M100.9,169.46V147.31M109.9,170.1V148.44M118.9,160.47V140.41" fill="none" stroke="#f0e2f3" stroke-width="3.2" stroke-linejoin="round" stroke-linecap="round"/><line x1="46.9" x2="46.9" y1="182.94" y2="178.93" stroke="#3f8a4a" stroke-width="1.1"/><line x1="55.9" x2="55.9" y1="189.84" y2="187.28" stroke="#3f8a4a" stroke-width="1.1"/><line x1="64.9" x2="64.9" y1="178.93" y2="172.51" stroke="#3f8a4a" stroke-width="1.1"/><line x1="73.9" x2="73.9" y1="177.33" y2="174.12" stroke="#3f8a4a" stroke-width="1.1"/><line x1="82.9" x2="82.9" y1="172.51" y2="166.09" stroke="#3f8a4a" stroke-width="1.1"/><line x1="91.9" x2="91.9" y1="177.33" y2="172.51" stroke="#3f8a4a" stroke-width="1.1"/><line x1="100.9" x2="100.9" y1="173.15" y2="164.32" stroke="#3f8a4a" stroke-width="1.1"/><line x1="109.9" x2="109.9" y1="186.47" y2="178.77" stroke="#3f8a4a" stroke-width="1.1"/><line x1="118.9" x2="118.9" y1="178.77" y2="169.78" stroke="#3f8a4a" stroke-width="1.1"/><line x1="46.9" x2="46.9" y1="181.82" y2="169.78" stroke="#553a66" stroke-width="1.1"/><line x1="55.9" x2="55.9" y1="184.39" y2="172.51" stroke="#553a66" stroke-width="1.1"/><line x1="64.9" x2="64.9" y1="181.82" y2="163.36" stroke="#553a66" stroke-width="1.1"/><line x1="73.9" x2="73.9" y1="159.99" y2="146.35" stroke="#553a66" stroke-width="1.1"/><line x1="82.9" x2="82.9" y1="161.6" y2="155.98" stroke="#553a66" stroke-width="1.1"/><line x1="91.9" x2="91.9" y1="151.65" y2="145.55" stroke="#553a66" stroke-width="1.1"/><line x1="100.9" x2="100.9" y1="169.46" y2="147.31" stroke="#553a66" stroke-width="1.1"/><line x1="109.9" x2="109.9" y1="170.1" y2="148.44" stroke="#553a66" stroke-width="1.1"/><line x1="118.9" x2="118.9" y1="160.47" y2="140.41" stroke="#553a66" stroke-width="1.1"/><polyline points="46.9,180.86 55.9,188.56 64.9,175.72 73.9,175.72 82.9,169.3 91.9,174.92 100.9,168.5 109.9,182.46 118.9,174.12" fill="none" stroke="#45a055" stroke-width="0.9"/><polyline points="46.9,177 55.9,178.61 64.9,172.19 73.9,153.73 82.9,158.87 91.9,148.76 100.9,155.98 109.9,158.39 118.9,150.04" fill="none" stroke="#5a3a72" stroke-width="0.9"/><circle cx="46.9" cy="180.86" r="1.2" fill="#1f5a2c"/><circle cx="55.9" cy="188.56" r="1.2" fill="#1f5a2c"/><circle cx="64.9" cy="175.72" r="1.2" fill="#1f5a2c"/><circle cx="73.9" cy="175.72" r="1.2" fill="#1f5a2c"/><circle cx="82.9" cy="169.3" r="1.2" fill="#1f5a2c"/><circle cx="91.9" cy="174.92" r="1.2" fill="#1f5a2c"/><circle cx="100.9" cy="168.5" r="1.2" fill="#1f5a2c"/><circle cx="109.9" cy="182.46" r="1.2" fill="#1f5a2c"/><circle cx="118.9" cy="174.12" r="1.2" fill="#1f5a2c"/><circle cx="46.9" cy="177" r="1.2" fill="#1e0f26"/><circle cx="55.9" cy="178.61" r="1.2" fill="#1e0f26"/><circle cx="64.9" cy="172.19" r="1.2" fill="#1e0f26"/><circle cx="73.9" cy="153.73" r="1.2" fill="#1e0f26"/><circle cx="82.9" cy="158.87" r="1.2" fill="#1e0f26"/><circle cx="91.9" cy="148.76" r="1.2" fill="#1e0f26"/><circle cx="100.9" cy="155.98" r="1.2" fill="#1e0f26"/><circle cx="109.9" cy="158.39" r="1.2" fill="#1e0f26"/><circle cx="118.9" cy="150.04" r="1.2" fill="#1e0f26"/><path d="M41.6,138.4V193.2H124" fill="none" stroke="#151515" stroke-width="1.2"/><line x1="46.9" x2="46.9" y1="193.2" y2="196.3" stroke="#1a1a1a" stroke-width="1.15"/><text transform="translate(46.9,204.4) scale(1.1,1)" text-anchor="middle" font-size="6" fill="#1a1a1a" stroke="#1a1a1a" stroke-width="0.25">0</text><line x1="55.9" x2="55.9" y1="193.2" y2="196.3" stroke="#1a1a1a" stroke-width="1.15"/><text transform="translate(55.9,204.4) scale(1.1,1)" text-anchor="middle" font-size="6" fill="#1a1a1a" stroke="#1a1a1a" stroke-width="0.25">1</text><line x1="64.9" x2="64.9" y1="193.2" y2="196.3" stroke="#1a1a1a" stroke-width="1.15"/><text transform="translate(64.9,204.4) scale(1.1,1)" text-anchor="middle" font-size="6" fill="#1a1a1a" stroke="#1a1a1a" stroke-width="0.25">2</text><line x1="73.9" x2="73.9" y1="193.2" y2="196.3" stroke="#1a1a1a" stroke-width="1.15"/><text transform="translate(73.9,204.4) scale(1.1,1)" text-anchor="middle" font-size="6" fill="#1a1a1a" stroke="#1a1a1a" stroke-width="0.25">3</text><line x1="82.9" x2="82.9" y1="193.2" y2="196.3" stroke="#1a1a1a" stroke-width="1.15"/><text transform="translate(82.9,204.4) scale(1.1,1)" text-anchor="middle" font-size="6" fill="#1a1a1a" stroke="#1a1a1a" stroke-width="0.25">4</text><line x1="91.9" x2="91.9" y1="193.2" y2="196.3" stroke="#1a1a1a" stroke-width="1.15"/><text transform="translate(91.9,204.4) scale(1.1,1)" text-anchor="middle" font-size="6" fill="#1a1a1a" stroke="#1a1a1a" stroke-width="0.25">5</text><line x1="100.9" x2="100.9" y1="193.2" y2="196.3" stroke="#1a1a1a" stroke-width="1.15"/><text transform="translate(100.9,204.4) scale(1.1,1)" text-anchor="middle" font-size="6" fill="#1a1a1a" stroke="#1a1a1a" stroke-width="0.25">6</text><line x1="109.9" x2="109.9" y1="193.2" y2="196.3" stroke="#1a1a1a" stroke-width="1.15"/><text transform="translate(109.9,204.4) scale(1.1,1)" text-anchor="middle" font-size="6" fill="#1a1a1a" stroke="#1a1a1a" stroke-width="0.25">7</text><line x1="118.9" x2="118.9" y1="193.2" y2="196.3" stroke="#1a1a1a" stroke-width="1.15"/><text transform="translate(118.9,204.4) scale(1.1,1)" text-anchor="middle" font-size="6" fill="#1a1a1a" stroke="#1a1a1a" stroke-width="0.25">8</text><line x1="38.5" x2="41.6" y1="153.25" y2="153.25" stroke="#1a1a1a" stroke-width="1.15"/><text transform="translate(36.2,155.3) scale(1.1,1)" text-anchor="end" font-size="5.8" fill="#1a1a1a" stroke="#1a1a1a" stroke-width="0.25">300</text><line x1="38.5" x2="41.6" y1="169.3" y2="169.3" stroke="#1a1a1a" stroke-width="1.15"/><text transform="translate(36.2,171.35) scale(1.1,1)" text-anchor="end" font-size="5.8" fill="#1a1a1a" stroke="#1a1a1a" stroke-width="0.25">200</text><line x1="38.5" x2="41.6" y1="185.35" y2="185.35" stroke="#1a1a1a" stroke-width="1.15"/><text transform="translate(36.2,187.4) scale(1.1,1)" text-anchor="end" font-size="5.8" fill="#1a1a1a" stroke="#1a1a1a" stroke-width="0.25">100</text><text transform="translate(19.66,190.3) rotate(-90)" text-anchor="middle" font-size="7.6" textLength="11.2" lengthAdjust="spacingAndGlyphs" fill="#111" stroke="#111" stroke-width="0.35">Area</text><text transform="translate(19.66,176) rotate(-90)" text-anchor="middle" font-size="7.6" textLength="14.6" lengthAdjust="spacingAndGlyphs" fill="#111" stroke="#111" stroke-width="0.35">under</text><text transform="translate(19.66,160.5) rotate(-90)" text-anchor="middle" font-size="7.6" textLength="13.6" lengthAdjust="spacingAndGlyphs" fill="#111" stroke="#111" stroke-width="0.35">curve</text><text transform="translate(19.66,144.4) rotate(-90)" text-anchor="middle" font-size="7.6" textLength="15.6" lengthAdjust="spacingAndGlyphs" fill="#111" stroke="#111" stroke-width="0.35">(AUC)</text><text x="82.9" y="131.2" text-anchor="middle" font-size="8.2" fill="#111" stroke="#111" stroke-width="0.2">F5</text><circle cx="72.75" cy="140.6" r="0.72" fill="#333"/><circle cx="75.05" cy="140.6" r="0.72" fill="#333"/><circle cx="90.75" cy="140.6" r="0.72" fill="#333"/><circle cx="93.05" cy="140.6" r="0.72" fill="#333"/><text x="6.5" y="121.8" font-size="10.8" font-weight="bold" fill="#000" stroke="#000" stroke-width="0.3">C</text></g><g><line x1="175.8" x2="251.8" y1="186.56" y2="186.56" stroke="#d2c2d0" stroke-width="1" stroke-dasharray="2.6 2.2"/><path d="M176.8,181.52 L185.8,182.82 L194.8,176.32 L203.8,177.14 L212.8,175.51 L221.8,183.15 L230.8,183.15 L239.8,186.56 L248.8,184.77M176.8,184.45V178.76M185.8,189V178.6M194.8,180.39V171.45M203.8,181.2V173.07M212.8,179.57V171.45M221.8,188.51V177.95M230.8,185.26V180.87M239.8,190.62V183.47M248.8,186.89V182.5" fill="none" stroke="#d5f1d6" stroke-width="3.2" stroke-linejoin="round" stroke-linecap="round"/><path d="M176.8,182.01 L185.8,172.75 L194.8,173.89 L203.8,154.71 L212.8,162.02 L221.8,157.64 L230.8,177.62 L239.8,178.76 L248.8,179.25M176.8,186.89V175.51M185.8,177.95V166.57M194.8,184.45V163.32M203.8,169.01V139.76M212.8,167.39V156.82M221.8,163.32V150.32M230.8,183.47V171.77M239.8,190.62V168.2M248.8,184.12V175.02" fill="none" stroke="#f0e2f3" stroke-width="3.2" stroke-linejoin="round" stroke-linecap="round"/><line x1="176.8" x2="176.8" y1="184.45" y2="178.76" stroke="#3f8a4a" stroke-width="1.1"/><line x1="185.8" x2="185.8" y1="189" y2="178.6" stroke="#3f8a4a" stroke-width="1.1"/><line x1="194.8" x2="194.8" y1="180.39" y2="171.45" stroke="#3f8a4a" stroke-width="1.1"/><line x1="203.8" x2="203.8" y1="181.2" y2="173.07" stroke="#3f8a4a" stroke-width="1.1"/><line x1="212.8" x2="212.8" y1="179.57" y2="171.45" stroke="#3f8a4a" stroke-width="1.1"/><line x1="221.8" x2="221.8" y1="188.51" y2="177.95" stroke="#3f8a4a" stroke-width="1.1"/><line x1="230.8" x2="230.8" y1="185.26" y2="180.87" stroke="#3f8a4a" stroke-width="1.1"/><line x1="239.8" x2="239.8" y1="190.62" y2="183.47" stroke="#3f8a4a" stroke-width="1.1"/><line x1="248.8" x2="248.8" y1="186.89" y2="182.5" stroke="#3f8a4a" stroke-width="1.1"/><line x1="176.8" x2="176.8" y1="186.89" y2="175.51" stroke="#553a66" stroke-width="1.1"/><line x1="185.8" x2="185.8" y1="177.95" y2="166.57" stroke="#553a66" stroke-width="1.1"/><line x1="194.8" x2="194.8" y1="184.45" y2="163.32" stroke="#553a66" stroke-width="1.1"/><line x1="203.8" x2="203.8" y1="169.01" y2="139.76" stroke="#553a66" stroke-width="1.1"/><line x1="212.8" x2="212.8" y1="167.39" y2="156.82" stroke="#553a66" stroke-width="1.1"/><line x1="221.8" x2="221.8" y1="163.32" y2="150.32" stroke="#553a66" stroke-width="1.1"/><line x1="230.8" x2="230.8" y1="183.47" y2="171.77" stroke="#553a66" stroke-width="1.1"/><line x1="239.8" x2="239.8" y1="190.62" y2="168.2" stroke="#553a66" stroke-width="1.1"/><line x1="248.8" x2="248.8" y1="184.12" y2="175.02" stroke="#553a66" stroke-width="1.1"/><polyline points="176.8,181.52 185.8,182.82 194.8,176.32 203.8,177.14 212.8,175.51 221.8,183.15 230.8,183.15 239.8,186.56 248.8,184.77" fill="none" stroke="#45a055" stroke-width="0.9"/><polyline points="176.8,182.01 185.8,172.75 194.8,173.89 203.8,154.71 212.8,162.02 221.8,157.64 230.8,177.62 239.8,178.76 248.8,179.25" fill="none" stroke="#5a3a72" stroke-width="0.9"/><circle cx="176.8" cy="181.52" r="1.2" fill="#1f5a2c"/><circle cx="185.8" cy="182.82" r="1.2" fill="#1f5a2c"/><circle cx="194.8" cy="176.32" r="1.2" fill="#1f5a2c"/><circle cx="203.8" cy="177.14" r="1.2" fill="#1f5a2c"/><circle cx="212.8" cy="175.51" r="1.2" fill="#1f5a2c"/><circle cx="221.8" cy="183.15" r="1.2" fill="#1f5a2c"/><circle cx="230.8" cy="183.15" r="1.2" fill="#1f5a2c"/><circle cx="239.8" cy="186.56" r="1.2" fill="#1f5a2c"/><circle cx="248.8" cy="184.77" r="1.2" fill="#1f5a2c"/><circle cx="176.8" cy="182.01" r="1.2" fill="#1e0f26"/><circle cx="185.8" cy="172.75" r="1.2" fill="#1e0f26"/><circle cx="194.8" cy="173.89" r="1.2" fill="#1e0f26"/><circle cx="203.8" cy="154.71" r="1.2" fill="#1e0f26"/><circle cx="212.8" cy="162.02" r="1.2" fill="#1e0f26"/><circle cx="221.8" cy="157.64" r="1.2" fill="#1e0f26"/><circle cx="230.8" cy="177.62" r="1.2" fill="#1e0f26"/><circle cx="239.8" cy="178.76" r="1.2" fill="#1e0f26"/><circle cx="248.8" cy="179.25" r="1.2" fill="#1e0f26"/><path d="M171.5,138.4V193.2H253.9" fill="none" stroke="#151515" stroke-width="1.2"/><line x1="176.8" x2="176.8" y1="193.2" y2="196.3" stroke="#1a1a1a" stroke-width="1.15"/><text transform="translate(176.8,204.4) scale(1.1,1)" text-anchor="middle" font-size="6" fill="#1a1a1a" stroke="#1a1a1a" stroke-width="0.25">0</text><line x1="185.8" x2="185.8" y1="193.2" y2="196.3" stroke="#1a1a1a" stroke-width="1.15"/><text transform="translate(185.8,204.4) scale(1.1,1)" text-anchor="middle" font-size="6" fill="#1a1a1a" stroke="#1a1a1a" stroke-width="0.25">1</text><line x1="194.8" x2="194.8" y1="193.2" y2="196.3" stroke="#1a1a1a" stroke-width="1.15"/><text transform="translate(194.8,204.4) scale(1.1,1)" text-anchor="middle" font-size="6" fill="#1a1a1a" stroke="#1a1a1a" stroke-width="0.25">2</text><line x1="203.8" x2="203.8" y1="193.2" y2="196.3" stroke="#1a1a1a" stroke-width="1.15"/><text transform="translate(203.8,204.4) scale(1.1,1)" text-anchor="middle" font-size="6" fill="#1a1a1a" stroke="#1a1a1a" stroke-width="0.25">3</text><line x1="212.8" x2="212.8" y1="193.2" y2="196.3" stroke="#1a1a1a" stroke-width="1.15"/><text transform="translate(212.8,204.4) scale(1.1,1)" text-anchor="middle" font-size="6" fill="#1a1a1a" stroke="#1a1a1a" stroke-width="0.25">4</text><line x1="221.8" x2="221.8" y1="193.2" y2="196.3" stroke="#1a1a1a" stroke-width="1.15"/><text transform="translate(221.8,204.4) scale(1.1,1)" text-anchor="middle" font-size="6" fill="#1a1a1a" stroke="#1a1a1a" stroke-width="0.25">5</text><line x1="230.8" x2="230.8" y1="193.2" y2="196.3" stroke="#1a1a1a" stroke-width="1.15"/><text transform="translate(230.8,204.4) scale(1.1,1)" text-anchor="middle" font-size="6" fill="#1a1a1a" stroke="#1a1a1a" stroke-width="0.25">6</text><line x1="239.8" x2="239.8" y1="193.2" y2="196.3" stroke="#1a1a1a" stroke-width="1.15"/><text transform="translate(239.8,204.4) scale(1.1,1)" text-anchor="middle" font-size="6" fill="#1a1a1a" stroke="#1a1a1a" stroke-width="0.25">7</text><line x1="248.8" x2="248.8" y1="193.2" y2="196.3" stroke="#1a1a1a" stroke-width="1.15"/><text transform="translate(248.8,204.4) scale(1.1,1)" text-anchor="middle" font-size="6" fill="#1a1a1a" stroke="#1a1a1a" stroke-width="0.25">8</text><line x1="168.4" x2="171.5" y1="145.45" y2="145.45" stroke="#1a1a1a" stroke-width="1.15"/><text transform="translate(166.1,147.5) scale(1.1,1)" text-anchor="end" font-size="5.8" fill="#1a1a1a" stroke="#1a1a1a" stroke-width="0.25">500</text><line x1="168.4" x2="171.5" y1="161.7" y2="161.7" stroke="#1a1a1a" stroke-width="1.15"/><text transform="translate(166.1,163.75) scale(1.1,1)" text-anchor="end" font-size="5.8" fill="#1a1a1a" stroke="#1a1a1a" stroke-width="0.25">400</text><line x1="168.4" x2="171.5" y1="177.95" y2="177.95" stroke="#1a1a1a" stroke-width="1.15"/><text transform="translate(166.1,180) scale(1.1,1)" text-anchor="end" font-size="5.8" fill="#1a1a1a" stroke="#1a1a1a" stroke-width="0.25">300</text><text transform="translate(149.56,190.3) rotate(-90)" text-anchor="middle" font-size="7.6" textLength="11.2" lengthAdjust="spacingAndGlyphs" fill="#111" stroke="#111" stroke-width="0.35">Area</text><text transform="translate(149.56,176) rotate(-90)" text-anchor="middle" font-size="7.6" textLength="14.6" lengthAdjust="spacingAndGlyphs" fill="#111" stroke="#111" stroke-width="0.35">under</text><text transform="translate(149.56,160.5) rotate(-90)" text-anchor="middle" font-size="7.6" textLength="13.6" lengthAdjust="spacingAndGlyphs" fill="#111" stroke="#111" stroke-width="0.35">curve</text><text transform="translate(149.56,144.4) rotate(-90)" text-anchor="middle" font-size="7.6" textLength="15.6" lengthAdjust="spacingAndGlyphs" fill="#111" stroke="#111" stroke-width="0.35">(AUC)</text><text x="212.8" y="131.2" text-anchor="middle" font-size="8.2" fill="#111" stroke="#111" stroke-width="0.2">F9</text><circle cx="221.8" cy="146.6" r="0.72" fill="#333"/></g><g><line x1="305.5" x2="381.5" y1="167.33" y2="167.33" stroke="#d2c2d0" stroke-width="1" stroke-dasharray="2.6 2.2"/><path d="M306.5,181.59 L315.5,176.01 L324.5,183.45 L333.5,184.69 L342.5,180.35 L351.5,179.11 L360.5,179.11 L369.5,179.11 L378.5,179.73M306.5,184.69V177.25M315.5,180.97V172.29M324.5,188.41V178.49M333.5,187.79V180.35M342.5,183.45V176.63M351.5,182.21V176.01M360.5,183.45V174.77M369.5,184.69V174.15M378.5,184.69V174.77" fill="none" stroke="#d5f1d6" stroke-width="3.2" stroke-linejoin="round" stroke-linecap="round"/><path d="M306.5,172.91 L315.5,177.87 L324.5,182.21 L333.5,172.29 L342.5,166.09 L351.5,147.49 L360.5,166.09 L369.5,162.99 L378.5,156.17M306.5,178.49V167.33M315.5,186.55V167.95M324.5,191.51V172.29M333.5,180.35V164.85M342.5,169.19V162.99M351.5,152.45V141.29M360.5,176.01V157.41M369.5,178.49V147.49M378.5,168.57V143.77" fill="none" stroke="#f0e2f3" stroke-width="3.2" stroke-linejoin="round" stroke-linecap="round"/><line x1="306.5" x2="306.5" y1="184.69" y2="177.25" stroke="#3f8a4a" stroke-width="1.1"/><line x1="315.5" x2="315.5" y1="180.97" y2="172.29" stroke="#3f8a4a" stroke-width="1.1"/><line x1="324.5" x2="324.5" y1="188.41" y2="178.49" stroke="#3f8a4a" stroke-width="1.1"/><line x1="333.5" x2="333.5" y1="187.79" y2="180.35" stroke="#3f8a4a" stroke-width="1.1"/><line x1="342.5" x2="342.5" y1="183.45" y2="176.63" stroke="#3f8a4a" stroke-width="1.1"/><line x1="351.5" x2="351.5" y1="182.21" y2="176.01" stroke="#3f8a4a" stroke-width="1.1"/><line x1="360.5" x2="360.5" y1="183.45" y2="174.77" stroke="#3f8a4a" stroke-width="1.1"/><line x1="369.5" x2="369.5" y1="184.69" y2="174.15" stroke="#3f8a4a" stroke-width="1.1"/><line x1="378.5" x2="378.5" y1="184.69" y2="174.77" stroke="#3f8a4a" stroke-width="1.1"/><line x1="306.5" x2="306.5" y1="178.49" y2="167.33" stroke="#553a66" stroke-width="1.1"/><line x1="315.5" x2="315.5" y1="186.55" y2="167.95" stroke="#553a66" stroke-width="1.1"/><line x1="324.5" x2="324.5" y1="191.51" y2="172.29" stroke="#553a66" stroke-width="1.1"/><line x1="333.5" x2="333.5" y1="180.35" y2="164.85" stroke="#553a66" stroke-width="1.1"/><line x1="342.5" x2="342.5" y1="169.19" y2="162.99" stroke="#553a66" stroke-width="1.1"/><line x1="351.5" x2="351.5" y1="152.45" y2="141.29" stroke="#553a66" stroke-width="1.1"/><line x1="360.5" x2="360.5" y1="176.01" y2="157.41" stroke="#553a66" stroke-width="1.1"/><line x1="369.5" x2="369.5" y1="178.49" y2="147.49" stroke="#553a66" stroke-width="1.1"/><line x1="378.5" x2="378.5" y1="168.57" y2="143.77" stroke="#553a66" stroke-width="1.1"/><polyline points="306.5,181.59 315.5,176.01 324.5,183.45 333.5,184.69 342.5,180.35 351.5,179.11 360.5,179.11 369.5,179.11 378.5,179.73" fill="none" stroke="#45a055" stroke-width="0.9"/><polyline points="306.5,172.91 315.5,177.87 324.5,182.21 333.5,172.29 342.5,166.09 351.5,147.49 360.5,166.09 369.5,162.99 378.5,156.17" fill="none" stroke="#5a3a72" stroke-width="0.9"/><circle cx="306.5" cy="181.59" r="1.2" fill="#1f5a2c"/><circle cx="315.5" cy="176.01" r="1.2" fill="#1f5a2c"/><circle cx="324.5" cy="183.45" r="1.2" fill="#1f5a2c"/><circle cx="333.5" cy="184.69" r="1.2" fill="#1f5a2c"/><circle cx="342.5" cy="180.35" r="1.2" fill="#1f5a2c"/><circle cx="351.5" cy="179.11" r="1.2" fill="#1f5a2c"/><circle cx="360.5" cy="179.11" r="1.2" fill="#1f5a2c"/><circle cx="369.5" cy="179.11" r="1.2" fill="#1f5a2c"/><circle cx="378.5" cy="179.73" r="1.2" fill="#1f5a2c"/><circle cx="306.5" cy="172.91" r="1.2" fill="#1e0f26"/><circle cx="315.5" cy="177.87" r="1.2" fill="#1e0f26"/><circle cx="324.5" cy="182.21" r="1.2" fill="#1e0f26"/><circle cx="333.5" cy="172.29" r="1.2" fill="#1e0f26"/><circle cx="342.5" cy="166.09" r="1.2" fill="#1e0f26"/><circle cx="351.5" cy="147.49" r="1.2" fill="#1e0f26"/><circle cx="360.5" cy="166.09" r="1.2" fill="#1e0f26"/><circle cx="369.5" cy="162.99" r="1.2" fill="#1e0f26"/><circle cx="378.5" cy="156.17" r="1.2" fill="#1e0f26"/><path d="M301.2,138.4V193.2H383.6" fill="none" stroke="#151515" stroke-width="1.2"/><line x1="306.5" x2="306.5" y1="193.2" y2="196.3" stroke="#1a1a1a" stroke-width="1.15"/><text transform="translate(306.5,204.4) scale(1.1,1)" text-anchor="middle" font-size="6" fill="#1a1a1a" stroke="#1a1a1a" stroke-width="0.25">0</text><line x1="315.5" x2="315.5" y1="193.2" y2="196.3" stroke="#1a1a1a" stroke-width="1.15"/><text transform="translate(315.5,204.4) scale(1.1,1)" text-anchor="middle" font-size="6" fill="#1a1a1a" stroke="#1a1a1a" stroke-width="0.25">1</text><line x1="324.5" x2="324.5" y1="193.2" y2="196.3" stroke="#1a1a1a" stroke-width="1.15"/><text transform="translate(324.5,204.4) scale(1.1,1)" text-anchor="middle" font-size="6" fill="#1a1a1a" stroke="#1a1a1a" stroke-width="0.25">2</text><line x1="333.5" x2="333.5" y1="193.2" y2="196.3" stroke="#1a1a1a" stroke-width="1.15"/><text transform="translate(333.5,204.4) scale(1.1,1)" text-anchor="middle" font-size="6" fill="#1a1a1a" stroke="#1a1a1a" stroke-width="0.25">3</text><line x1="342.5" x2="342.5" y1="193.2" y2="196.3" stroke="#1a1a1a" stroke-width="1.15"/><text transform="translate(342.5,204.4) scale(1.1,1)" text-anchor="middle" font-size="6" fill="#1a1a1a" stroke="#1a1a1a" stroke-width="0.25">4</text><line x1="351.5" x2="351.5" y1="193.2" y2="196.3" stroke="#1a1a1a" stroke-width="1.15"/><text transform="translate(351.5,204.4) scale(1.1,1)" text-anchor="middle" font-size="6" fill="#1a1a1a" stroke="#1a1a1a" stroke-width="0.25">5</text><line x1="360.5" x2="360.5" y1="193.2" y2="196.3" stroke="#1a1a1a" stroke-width="1.15"/><text transform="translate(360.5,204.4) scale(1.1,1)" text-anchor="middle" font-size="6" fill="#1a1a1a" stroke="#1a1a1a" stroke-width="0.25">6</text><line x1="369.5" x2="369.5" y1="193.2" y2="196.3" stroke="#1a1a1a" stroke-width="1.15"/><text transform="translate(369.5,204.4) scale(1.1,1)" text-anchor="middle" font-size="6" fill="#1a1a1a" stroke="#1a1a1a" stroke-width="0.25">7</text><line x1="378.5" x2="378.5" y1="193.2" y2="196.3" stroke="#1a1a1a" stroke-width="1.15"/><text transform="translate(378.5,204.4) scale(1.1,1)" text-anchor="middle" font-size="6" fill="#1a1a1a" stroke="#1a1a1a" stroke-width="0.25">8</text><line x1="298.1" x2="301.2" y1="146.25" y2="146.25" stroke="#1a1a1a" stroke-width="1.15"/><text transform="translate(295.8,148.3) scale(1.1,1)" text-anchor="end" font-size="5.8" fill="#1a1a1a" stroke="#1a1a1a" stroke-width="0.25">120</text><line x1="298.1" x2="301.2" y1="158.65" y2="158.65" stroke="#1a1a1a" stroke-width="1.15"/><text transform="translate(295.8,160.7) scale(1.1,1)" text-anchor="end" font-size="5.8" fill="#1a1a1a" stroke="#1a1a1a" stroke-width="0.25">100</text><line x1="298.1" x2="301.2" y1="171.05" y2="171.05" stroke="#1a1a1a" stroke-width="1.15"/><text transform="translate(295.8,173.1) scale(1.1,1)" text-anchor="end" font-size="5.8" fill="#1a1a1a" stroke="#1a1a1a" stroke-width="0.25">80</text><line x1="298.1" x2="301.2" y1="183.45" y2="183.45" stroke="#1a1a1a" stroke-width="1.15"/><text transform="translate(295.8,185.5) scale(1.1,1)" text-anchor="end" font-size="5.8" fill="#1a1a1a" stroke="#1a1a1a" stroke-width="0.25">60</text><text transform="translate(279.26,190.3) rotate(-90)" text-anchor="middle" font-size="7.6" textLength="11.2" lengthAdjust="spacingAndGlyphs" fill="#111" stroke="#111" stroke-width="0.35">Area</text><text transform="translate(279.26,176) rotate(-90)" text-anchor="middle" font-size="7.6" textLength="14.6" lengthAdjust="spacingAndGlyphs" fill="#111" stroke="#111" stroke-width="0.35">under</text><text transform="translate(279.26,160.5) rotate(-90)" text-anchor="middle" font-size="7.6" textLength="13.6" lengthAdjust="spacingAndGlyphs" fill="#111" stroke="#111" stroke-width="0.35">curve</text><text transform="translate(279.26,144.4) rotate(-90)" text-anchor="middle" font-size="7.6" textLength="15.6" lengthAdjust="spacingAndGlyphs" fill="#111" stroke="#111" stroke-width="0.35">(AUC)</text><text x="342.5" y="131.2" text-anchor="middle" font-size="8.2" fill="#111" stroke="#111" stroke-width="0.2">F11</text><circle cx="350.35" cy="138.4" r="0.72" fill="#333"/><circle cx="352.65" cy="138.4" r="0.72" fill="#333"/></g><g><line x1="435.3" x2="511.3" y1="183.93" y2="183.93" stroke="#d2c2d0" stroke-width="1" stroke-dasharray="2.6 2.2"/><path d="M436.3,181.46 L445.3,179.18 L454.3,180.06 L463.3,185.68 L472.3,179.71 L481.3,183.05 L490.3,179.18 L499.3,186.21 L508.3,187.09M436.3,183.93V178.65M445.3,181.82V176.54M454.3,181.82V177.95M463.3,187.97V183.57M472.3,182.7V176.54M481.3,185.33V180.94M490.3,182.7V175.66M499.3,188.85V183.57M508.3,189.2V184.98" fill="none" stroke="#d5f1d6" stroke-width="3.2" stroke-linejoin="round" stroke-linecap="round"/><path d="M436.3,168.11 L445.3,178.3 L454.3,179.71 L463.3,170.39 L472.3,170.39 L481.3,161.6 L490.3,169.51 L499.3,169.51 L508.3,146.66M436.3,176.54V159.84M445.3,187.97V168.63M454.3,181.82V177.42M463.3,179.18V160.72M472.3,180.06V160.72M481.3,170.39V152.81M490.3,176.54V162.48M499.3,182.7V157.21M508.3,150.18V143.15" fill="none" stroke="#f0e2f3" stroke-width="3.2" stroke-linejoin="round" stroke-linecap="round"/><line x1="436.3" x2="436.3" y1="183.93" y2="178.65" stroke="#3f8a4a" stroke-width="1.1"/><line x1="445.3" x2="445.3" y1="181.82" y2="176.54" stroke="#3f8a4a" stroke-width="1.1"/><line x1="454.3" x2="454.3" y1="181.82" y2="177.95" stroke="#3f8a4a" stroke-width="1.1"/><line x1="463.3" x2="463.3" y1="187.97" y2="183.57" stroke="#3f8a4a" stroke-width="1.1"/><line x1="472.3" x2="472.3" y1="182.7" y2="176.54" stroke="#3f8a4a" stroke-width="1.1"/><line x1="481.3" x2="481.3" y1="185.33" y2="180.94" stroke="#3f8a4a" stroke-width="1.1"/><line x1="490.3" x2="490.3" y1="182.7" y2="175.66" stroke="#3f8a4a" stroke-width="1.1"/><line x1="499.3" x2="499.3" y1="188.85" y2="183.57" stroke="#3f8a4a" stroke-width="1.1"/><line x1="508.3" x2="508.3" y1="189.2" y2="184.98" stroke="#3f8a4a" stroke-width="1.1"/><line x1="436.3" x2="436.3" y1="176.54" y2="159.84" stroke="#553a66" stroke-width="1.1"/><line x1="445.3" x2="445.3" y1="187.97" y2="168.63" stroke="#553a66" stroke-width="1.1"/><line x1="454.3" x2="454.3" y1="181.82" y2="177.42" stroke="#553a66" stroke-width="1.1"/><line x1="463.3" x2="463.3" y1="179.18" y2="160.72" stroke="#553a66" stroke-width="1.1"/><line x1="472.3" x2="472.3" y1="180.06" y2="160.72" stroke="#553a66" stroke-width="1.1"/><line x1="481.3" x2="481.3" y1="170.39" y2="152.81" stroke="#553a66" stroke-width="1.1"/><line x1="490.3" x2="490.3" y1="176.54" y2="162.48" stroke="#553a66" stroke-width="1.1"/><line x1="499.3" x2="499.3" y1="182.7" y2="157.21" stroke="#553a66" stroke-width="1.1"/><line x1="508.3" x2="508.3" y1="150.18" y2="143.15" stroke="#553a66" stroke-width="1.1"/><polyline points="436.3,181.46 445.3,179.18 454.3,180.06 463.3,185.68 472.3,179.71 481.3,183.05 490.3,179.18 499.3,186.21 508.3,187.09" fill="none" stroke="#45a055" stroke-width="0.9"/><polyline points="436.3,168.11 445.3,178.3 454.3,179.71 463.3,170.39 472.3,170.39 481.3,161.6 490.3,169.51 499.3,169.51 508.3,146.66" fill="none" stroke="#5a3a72" stroke-width="0.9"/><circle cx="436.3" cy="181.46" r="1.2" fill="#1f5a2c"/><circle cx="445.3" cy="179.18" r="1.2" fill="#1f5a2c"/><circle cx="454.3" cy="180.06" r="1.2" fill="#1f5a2c"/><circle cx="463.3" cy="185.68" r="1.2" fill="#1f5a2c"/><circle cx="472.3" cy="179.71" r="1.2" fill="#1f5a2c"/><circle cx="481.3" cy="183.05" r="1.2" fill="#1f5a2c"/><circle cx="490.3" cy="179.18" r="1.2" fill="#1f5a2c"/><circle cx="499.3" cy="186.21" r="1.2" fill="#1f5a2c"/><circle cx="508.3" cy="187.09" r="1.2" fill="#1f5a2c"/><circle cx="436.3" cy="168.11" r="1.2" fill="#1e0f26"/><circle cx="445.3" cy="178.3" r="1.2" fill="#1e0f26"/><circle cx="454.3" cy="179.71" r="1.2" fill="#1e0f26"/><circle cx="463.3" cy="170.39" r="1.2" fill="#1e0f26"/><circle cx="472.3" cy="170.39" r="1.2" fill="#1e0f26"/><circle cx="481.3" cy="161.6" r="1.2" fill="#1e0f26"/><circle cx="490.3" cy="169.51" r="1.2" fill="#1e0f26"/><circle cx="499.3" cy="169.51" r="1.2" fill="#1e0f26"/><circle cx="508.3" cy="146.66" r="1.2" fill="#1e0f26"/><path d="M431,138.4V193.2H513.4" fill="none" stroke="#151515" stroke-width="1.2"/><line x1="436.3" x2="436.3" y1="193.2" y2="196.3" stroke="#1a1a1a" stroke-width="1.15"/><text transform="translate(436.3,204.4) scale(1.1,1)" text-anchor="middle" font-size="6" fill="#1a1a1a" stroke="#1a1a1a" stroke-width="0.25">0</text><line x1="445.3" x2="445.3" y1="193.2" y2="196.3" stroke="#1a1a1a" stroke-width="1.15"/><text transform="translate(445.3,204.4) scale(1.1,1)" text-anchor="middle" font-size="6" fill="#1a1a1a" stroke="#1a1a1a" stroke-width="0.25">1</text><line x1="454.3" x2="454.3" y1="193.2" y2="196.3" stroke="#1a1a1a" stroke-width="1.15"/><text transform="translate(454.3,204.4) scale(1.1,1)" text-anchor="middle" font-size="6" fill="#1a1a1a" stroke="#1a1a1a" stroke-width="0.25">2</text><line x1="463.3" x2="463.3" y1="193.2" y2="196.3" stroke="#1a1a1a" stroke-width="1.15"/><text transform="translate(463.3,204.4) scale(1.1,1)" text-anchor="middle" font-size="6" fill="#1a1a1a" stroke="#1a1a1a" stroke-width="0.25">3</text><line x1="472.3" x2="472.3" y1="193.2" y2="196.3" stroke="#1a1a1a" stroke-width="1.15"/><text transform="translate(472.3,204.4) scale(1.1,1)" text-anchor="middle" font-size="6" fill="#1a1a1a" stroke="#1a1a1a" stroke-width="0.25">4</text><line x1="481.3" x2="481.3" y1="193.2" y2="196.3" stroke="#1a1a1a" stroke-width="1.15"/><text transform="translate(481.3,204.4) scale(1.1,1)" text-anchor="middle" font-size="6" fill="#1a1a1a" stroke="#1a1a1a" stroke-width="0.25">5</text><line x1="490.3" x2="490.3" y1="193.2" y2="196.3" stroke="#1a1a1a" stroke-width="1.15"/><text transform="translate(490.3,204.4) scale(1.1,1)" text-anchor="middle" font-size="6" fill="#1a1a1a" stroke="#1a1a1a" stroke-width="0.25">6</text><line x1="499.3" x2="499.3" y1="193.2" y2="196.3" stroke="#1a1a1a" stroke-width="1.15"/><text transform="translate(499.3,204.4) scale(1.1,1)" text-anchor="middle" font-size="6" fill="#1a1a1a" stroke="#1a1a1a" stroke-width="0.25">7</text><line x1="508.3" x2="508.3" y1="193.2" y2="196.3" stroke="#1a1a1a" stroke-width="1.15"/><text transform="translate(508.3,204.4) scale(1.1,1)" text-anchor="middle" font-size="6" fill="#1a1a1a" stroke="#1a1a1a" stroke-width="0.25">8</text><line x1="427.9" x2="431" y1="146.66" y2="146.66" stroke="#1a1a1a" stroke-width="1.15"/><text transform="translate(425.6,148.71) scale(1.1,1)" text-anchor="end" font-size="5.8" fill="#1a1a1a" stroke="#1a1a1a" stroke-width="0.25">400</text><line x1="427.9" x2="431" y1="155.45" y2="155.45" stroke="#1a1a1a" stroke-width="1.15"/><text transform="translate(425.6,157.5) scale(1.1,1)" text-anchor="end" font-size="5.8" fill="#1a1a1a" stroke="#1a1a1a" stroke-width="0.25">350</text><line x1="427.9" x2="431" y1="164.24" y2="164.24" stroke="#1a1a1a" stroke-width="1.15"/><text transform="translate(425.6,166.29) scale(1.1,1)" text-anchor="end" font-size="5.8" fill="#1a1a1a" stroke="#1a1a1a" stroke-width="0.25">300</text><line x1="427.9" x2="431" y1="173.03" y2="173.03" stroke="#1a1a1a" stroke-width="1.15"/><text transform="translate(425.6,175.08) scale(1.1,1)" text-anchor="end" font-size="5.8" fill="#1a1a1a" stroke="#1a1a1a" stroke-width="0.25">250</text><line x1="427.9" x2="431" y1="181.82" y2="181.82" stroke="#1a1a1a" stroke-width="1.15"/><text transform="translate(425.6,183.87) scale(1.1,1)" text-anchor="end" font-size="5.8" fill="#1a1a1a" stroke="#1a1a1a" stroke-width="0.25">200</text><line x1="427.9" x2="431" y1="190.6" y2="190.6" stroke="#1a1a1a" stroke-width="1.15"/><text transform="translate(425.6,192.65) scale(1.1,1)" text-anchor="end" font-size="5.8" fill="#1a1a1a" stroke="#1a1a1a" stroke-width="0.25">150</text><text transform="translate(409.06,190.3) rotate(-90)" text-anchor="middle" font-size="7.6" textLength="11.2" lengthAdjust="spacingAndGlyphs" fill="#111" stroke="#111" stroke-width="0.35">Area</text><text transform="translate(409.06,176) rotate(-90)" text-anchor="middle" font-size="7.6" textLength="14.6" lengthAdjust="spacingAndGlyphs" fill="#111" stroke="#111" stroke-width="0.35">under</text><text transform="translate(409.06,160.5) rotate(-90)" text-anchor="middle" font-size="7.6" textLength="13.6" lengthAdjust="spacingAndGlyphs" fill="#111" stroke="#111" stroke-width="0.35">curve</text><text transform="translate(409.06,144.4) rotate(-90)" text-anchor="middle" font-size="7.6" textLength="15.6" lengthAdjust="spacingAndGlyphs" fill="#111" stroke="#111" stroke-width="0.35">(AUC)</text><text x="472.3" y="131.2" text-anchor="middle" font-size="8.2" fill="#111" stroke="#111" stroke-width="0.2">F13B</text><circle cx="481.3" cy="137.7" r="0.72" fill="#333"/><circle cx="507.15" cy="137.7" r="0.72" fill="#333"/><circle cx="509.45" cy="137.7" r="0.72" fill="#333"/></g><g><line x1="45.9" x2="121.9" y1="296.32" y2="296.32" stroke="#d2c2d0" stroke-width="1" stroke-dasharray="2.6 2.2"/><path d="M46.9,294.76 L55.9,293.65 L64.9,294.32 L73.9,295.43 L82.9,290.98 L91.9,292.54 L100.9,287.64 L109.9,292.54 L118.9,288.53M46.9,296.32V293.21M55.9,296.32V290.98M64.9,296.32V292.31M73.9,296.32V294.54M82.9,293.21V288.75M91.9,294.1V290.98M100.9,290.31V284.75M109.9,294.32V290.76M118.9,290.76V286.31" fill="none" stroke="#d5f1d6" stroke-width="3.2" stroke-linejoin="round" stroke-linecap="round"/><path d="M46.9,288.75 L55.9,284.75 L64.9,284.75 L73.9,280.74 L82.9,271.4 L91.9,258.49 L100.9,273.62 L109.9,269.17 L118.9,255.82M46.9,294.1V283.64M55.9,289.42V278.52M64.9,289.42V278.52M73.9,286.08V273.85M82.9,277.18V264.28M91.9,264.28V252.26M100.9,279.63V266.5M109.9,274.74V261.16M118.9,265.17V246.7" fill="none" stroke="#f0e2f3" stroke-width="3.2" stroke-linejoin="round" stroke-linecap="round"/><line x1="46.9" x2="46.9" y1="296.32" y2="293.21" stroke="#3f8a4a" stroke-width="1.1"/><line x1="55.9" x2="55.9" y1="296.32" y2="290.98" stroke="#3f8a4a" stroke-width="1.1"/><line x1="64.9" x2="64.9" y1="296.32" y2="292.31" stroke="#3f8a4a" stroke-width="1.1"/><line x1="73.9" x2="73.9" y1="296.32" y2="294.54" stroke="#3f8a4a" stroke-width="1.1"/><line x1="82.9" x2="82.9" y1="293.21" y2="288.75" stroke="#3f8a4a" stroke-width="1.1"/><line x1="91.9" x2="91.9" y1="294.1" y2="290.98" stroke="#3f8a4a" stroke-width="1.1"/><line x1="100.9" x2="100.9" y1="290.31" y2="284.75" stroke="#3f8a4a" stroke-width="1.1"/><line x1="109.9" x2="109.9" y1="294.32" y2="290.76" stroke="#3f8a4a" stroke-width="1.1"/><line x1="118.9" x2="118.9" y1="290.76" y2="286.31" stroke="#3f8a4a" stroke-width="1.1"/><line x1="46.9" x2="46.9" y1="294.1" y2="283.64" stroke="#553a66" stroke-width="1.1"/><line x1="55.9" x2="55.9" y1="289.42" y2="278.52" stroke="#553a66" stroke-width="1.1"/><line x1="64.9" x2="64.9" y1="289.42" y2="278.52" stroke="#553a66" stroke-width="1.1"/><line x1="73.9" x2="73.9" y1="286.08" y2="273.85" stroke="#553a66" stroke-width="1.1"/><line x1="82.9" x2="82.9" y1="277.18" y2="264.28" stroke="#553a66" stroke-width="1.1"/><line x1="91.9" x2="91.9" y1="264.28" y2="252.26" stroke="#553a66" stroke-width="1.1"/><line x1="100.9" x2="100.9" y1="279.63" y2="266.5" stroke="#553a66" stroke-width="1.1"/><line x1="109.9" x2="109.9" y1="274.74" y2="261.16" stroke="#553a66" stroke-width="1.1"/><line x1="118.9" x2="118.9" y1="265.17" y2="246.7" stroke="#553a66" stroke-width="1.1"/><polyline points="46.9,294.76 55.9,293.65 64.9,294.32 73.9,295.43 82.9,290.98 91.9,292.54 100.9,287.64 109.9,292.54 118.9,288.53" fill="none" stroke="#45a055" stroke-width="0.9"/><polyline points="46.9,288.75 55.9,284.75 64.9,284.75 73.9,280.74 82.9,271.4 91.9,258.49 100.9,273.62 109.9,269.17 118.9,255.82" fill="none" stroke="#5a3a72" stroke-width="0.9"/><circle cx="46.9" cy="294.76" r="1.2" fill="#1f5a2c"/><circle cx="55.9" cy="293.65" r="1.2" fill="#1f5a2c"/><circle cx="64.9" cy="294.32" r="1.2" fill="#1f5a2c"/><circle cx="73.9" cy="295.43" r="1.2" fill="#1f5a2c"/><circle cx="82.9" cy="290.98" r="1.2" fill="#1f5a2c"/><circle cx="91.9" cy="292.54" r="1.2" fill="#1f5a2c"/><circle cx="100.9" cy="287.64" r="1.2" fill="#1f5a2c"/><circle cx="109.9" cy="292.54" r="1.2" fill="#1f5a2c"/><circle cx="118.9" cy="288.53" r="1.2" fill="#1f5a2c"/><circle cx="46.9" cy="288.75" r="1.2" fill="#1e0f26"/><circle cx="55.9" cy="284.75" r="1.2" fill="#1e0f26"/><circle cx="64.9" cy="284.75" r="1.2" fill="#1e0f26"/><circle cx="73.9" cy="280.74" r="1.2" fill="#1e0f26"/><circle cx="82.9" cy="271.4" r="1.2" fill="#1e0f26"/><circle cx="91.9" cy="258.49" r="1.2" fill="#1e0f26"/><circle cx="100.9" cy="273.62" r="1.2" fill="#1e0f26"/><circle cx="109.9" cy="269.17" r="1.2" fill="#1e0f26"/><circle cx="118.9" cy="255.82" r="1.2" fill="#1e0f26"/><path d="M41.6,244.5V299.3H124" fill="none" stroke="#151515" stroke-width="1.2"/><line x1="46.9" x2="46.9" y1="299.3" y2="302.4" stroke="#1a1a1a" stroke-width="1.15"/><text transform="translate(46.9,310.5) scale(1.1,1)" text-anchor="middle" font-size="6" fill="#1a1a1a" stroke="#1a1a1a" stroke-width="0.25">0</text><line x1="55.9" x2="55.9" y1="299.3" y2="302.4" stroke="#1a1a1a" stroke-width="1.15"/><text transform="translate(55.9,310.5) scale(1.1,1)" text-anchor="middle" font-size="6" fill="#1a1a1a" stroke="#1a1a1a" stroke-width="0.25">1</text><line x1="64.9" x2="64.9" y1="299.3" y2="302.4" stroke="#1a1a1a" stroke-width="1.15"/><text transform="translate(64.9,310.5) scale(1.1,1)" text-anchor="middle" font-size="6" fill="#1a1a1a" stroke="#1a1a1a" stroke-width="0.25">2</text><line x1="73.9" x2="73.9" y1="299.3" y2="302.4" stroke="#1a1a1a" stroke-width="1.15"/><text transform="translate(73.9,310.5) scale(1.1,1)" text-anchor="middle" font-size="6" fill="#1a1a1a" stroke="#1a1a1a" stroke-width="0.25">3</text><line x1="82.9" x2="82.9" y1="299.3" y2="302.4" stroke="#1a1a1a" stroke-width="1.15"/><text transform="translate(82.9,310.5) scale(1.1,1)" text-anchor="middle" font-size="6" fill="#1a1a1a" stroke="#1a1a1a" stroke-width="0.25">4</text><line x1="91.9" x2="91.9" y1="299.3" y2="302.4" stroke="#1a1a1a" stroke-width="1.15"/><text transform="translate(91.9,310.5) scale(1.1,1)" text-anchor="middle" font-size="6" fill="#1a1a1a" stroke="#1a1a1a" stroke-width="0.25">5</text><line x1="100.9" x2="100.9" y1="299.3" y2="302.4" stroke="#1a1a1a" stroke-width="1.15"/><text transform="translate(100.9,310.5) scale(1.1,1)" text-anchor="middle" font-size="6" fill="#1a1a1a" stroke="#1a1a1a" stroke-width="0.25">6</text><line x1="109.9" x2="109.9" y1="299.3" y2="302.4" stroke="#1a1a1a" stroke-width="1.15"/><text transform="translate(109.9,310.5) scale(1.1,1)" text-anchor="middle" font-size="6" fill="#1a1a1a" stroke="#1a1a1a" stroke-width="0.25">7</text><line x1="118.9" x2="118.9" y1="299.3" y2="302.4" stroke="#1a1a1a" stroke-width="1.15"/><text transform="translate(118.9,310.5) scale(1.1,1)" text-anchor="middle" font-size="6" fill="#1a1a1a" stroke="#1a1a1a" stroke-width="0.25">8</text><line x1="38.5" x2="41.6" y1="249.15" y2="249.15" stroke="#1a1a1a" stroke-width="1.15"/><text transform="translate(36.2,251.2) scale(1.1,1)" text-anchor="end" font-size="5.8" fill="#1a1a1a" stroke="#1a1a1a" stroke-width="0.25">300</text><line x1="38.5" x2="41.6" y1="260.27" y2="260.27" stroke="#1a1a1a" stroke-width="1.15"/><text transform="translate(36.2,262.32) scale(1.1,1)" text-anchor="end" font-size="5.8" fill="#1a1a1a" stroke="#1a1a1a" stroke-width="0.25">250</text><line x1="38.5" x2="41.6" y1="271.4" y2="271.4" stroke="#1a1a1a" stroke-width="1.15"/><text transform="translate(36.2,273.45) scale(1.1,1)" text-anchor="end" font-size="5.8" fill="#1a1a1a" stroke="#1a1a1a" stroke-width="0.25">200</text><line x1="38.5" x2="41.6" y1="282.52" y2="282.52" stroke="#1a1a1a" stroke-width="1.15"/><text transform="translate(36.2,284.57) scale(1.1,1)" text-anchor="end" font-size="5.8" fill="#1a1a1a" stroke="#1a1a1a" stroke-width="0.25">150</text><line x1="38.5" x2="41.6" y1="293.65" y2="293.65" stroke="#1a1a1a" stroke-width="1.15"/><text transform="translate(36.2,295.7) scale(1.1,1)" text-anchor="end" font-size="5.8" fill="#1a1a1a" stroke="#1a1a1a" stroke-width="0.25">100</text><text transform="translate(19.66,296.4) rotate(-90)" text-anchor="middle" font-size="7.6" textLength="11.2" lengthAdjust="spacingAndGlyphs" fill="#111" stroke="#111" stroke-width="0.35">Area</text><text transform="translate(19.66,282.1) rotate(-90)" text-anchor="middle" font-size="7.6" textLength="14.6" lengthAdjust="spacingAndGlyphs" fill="#111" stroke="#111" stroke-width="0.35">under</text><text transform="translate(19.66,266.6) rotate(-90)" text-anchor="middle" font-size="7.6" textLength="13.6" lengthAdjust="spacingAndGlyphs" fill="#111" stroke="#111" stroke-width="0.35">curve</text><text transform="translate(19.66,250.5) rotate(-90)" text-anchor="middle" font-size="7.6" textLength="15.6" lengthAdjust="spacingAndGlyphs" fill="#111" stroke="#111" stroke-width="0.35">(AUC)</text><text x="82.9" y="237.3" text-anchor="middle" font-size="8.2" fill="#111" stroke="#111" stroke-width="0.2">MASP2</text><circle cx="72.75" cy="244.3" r="0.72" fill="#333"/><circle cx="75.05" cy="244.3" r="0.72" fill="#333"/><circle cx="81.75" cy="244.3" r="0.72" fill="#333"/><circle cx="84.05" cy="244.3" r="0.72" fill="#333"/><circle cx="89.6" cy="244.3" r="0.72" fill="#333"/><circle cx="91.9" cy="244.3" r="0.72" fill="#333"/><circle cx="94.2" cy="244.3" r="0.72" fill="#333"/><circle cx="109.9" cy="244.3" r="0.72" fill="#333"/><circle cx="118.9" cy="244.3" r="0.72" fill="#333"/><text x="6.5" y="227.9" font-size="10.8" font-weight="bold" fill="#000" stroke="#000" stroke-width="0.3">D</text></g><g><line x1="175.8" x2="251.8" y1="288.35" y2="288.35" stroke="#d2c2d0" stroke-width="1" stroke-dasharray="2.6 2.2"/><path d="M176.8,284.84 L185.8,291.47 L194.8,293.42 L203.8,289.52 L212.8,288.35 L221.8,288.35 L230.8,284.45 L239.8,282.5 L248.8,282.11M176.8,287.57V281.72M185.8,294.2V288.74M194.8,296.15V290.69M203.8,293.42V285.62M212.8,292.25V284.45M221.8,292.25V284.06M230.8,288.35V280.55M239.8,287.57V277.82M248.8,286.01V277.82" fill="none" stroke="#d5f1d6" stroke-width="3.2" stroke-linejoin="round" stroke-linecap="round"/><path d="M176.8,278.21 L185.8,287.18 L194.8,288.74 L203.8,280.55 L212.8,271.97 L221.8,256.76 L230.8,277.43 L239.8,268.85 L248.8,250.53M176.8,285.62V269.25M185.8,292.64V280.55M194.8,294.2V282.89M203.8,285.62V275.09M212.8,276.65V266.51M221.8,259.11V254.43M230.8,287.57V266.51M239.8,282.89V253.65M248.8,253.25V247.8" fill="none" stroke="#f0e2f3" stroke-width="3.2" stroke-linejoin="round" stroke-linecap="round"/><line x1="176.8" x2="176.8" y1="287.57" y2="281.72" stroke="#3f8a4a" stroke-width="1.1"/><line x1="185.8" x2="185.8" y1="294.2" y2="288.74" stroke="#3f8a4a" stroke-width="1.1"/><line x1="194.8" x2="194.8" y1="296.15" y2="290.69" stroke="#3f8a4a" stroke-width="1.1"/><line x1="203.8" x2="203.8" y1="293.42" y2="285.62" stroke="#3f8a4a" stroke-width="1.1"/><line x1="212.8" x2="212.8" y1="292.25" y2="284.45" stroke="#3f8a4a" stroke-width="1.1"/><line x1="221.8" x2="221.8" y1="292.25" y2="284.06" stroke="#3f8a4a" stroke-width="1.1"/><line x1="230.8" x2="230.8" y1="288.35" y2="280.55" stroke="#3f8a4a" stroke-width="1.1"/><line x1="239.8" x2="239.8" y1="287.57" y2="277.82" stroke="#3f8a4a" stroke-width="1.1"/><line x1="248.8" x2="248.8" y1="286.01" y2="277.82" stroke="#3f8a4a" stroke-width="1.1"/><line x1="176.8" x2="176.8" y1="285.62" y2="269.25" stroke="#553a66" stroke-width="1.1"/><line x1="185.8" x2="185.8" y1="292.64" y2="280.55" stroke="#553a66" stroke-width="1.1"/><line x1="194.8" x2="194.8" y1="294.2" y2="282.89" stroke="#553a66" stroke-width="1.1"/><line x1="203.8" x2="203.8" y1="285.62" y2="275.09" stroke="#553a66" stroke-width="1.1"/><line x1="212.8" x2="212.8" y1="276.65" y2="266.51" stroke="#553a66" stroke-width="1.1"/><line x1="221.8" x2="221.8" y1="259.11" y2="254.43" stroke="#553a66" stroke-width="1.1"/><line x1="230.8" x2="230.8" y1="287.57" y2="266.51" stroke="#553a66" stroke-width="1.1"/><line x1="239.8" x2="239.8" y1="282.89" y2="253.65" stroke="#553a66" stroke-width="1.1"/><line x1="248.8" x2="248.8" y1="253.25" y2="247.8" stroke="#553a66" stroke-width="1.1"/><polyline points="176.8,284.84 185.8,291.47 194.8,293.42 203.8,289.52 212.8,288.35 221.8,288.35 230.8,284.45 239.8,282.5 248.8,282.11" fill="none" stroke="#45a055" stroke-width="0.9"/><polyline points="176.8,278.21 185.8,287.18 194.8,288.74 203.8,280.55 212.8,271.97 221.8,256.76 230.8,277.43 239.8,268.85 248.8,250.53" fill="none" stroke="#5a3a72" stroke-width="0.9"/><circle cx="176.8" cy="284.84" r="1.2" fill="#1f5a2c"/><circle cx="185.8" cy="291.47" r="1.2" fill="#1f5a2c"/><circle cx="194.8" cy="293.42" r="1.2" fill="#1f5a2c"/><circle cx="203.8" cy="289.52" r="1.2" fill="#1f5a2c"/><circle cx="212.8" cy="288.35" r="1.2" fill="#1f5a2c"/><circle cx="221.8" cy="288.35" r="1.2" fill="#1f5a2c"/><circle cx="230.8" cy="284.45" r="1.2" fill="#1f5a2c"/><circle cx="239.8" cy="282.5" r="1.2" fill="#1f5a2c"/><circle cx="248.8" cy="282.11" r="1.2" fill="#1f5a2c"/><circle cx="176.8" cy="278.21" r="1.2" fill="#1e0f26"/><circle cx="185.8" cy="287.18" r="1.2" fill="#1e0f26"/><circle cx="194.8" cy="288.74" r="1.2" fill="#1e0f26"/><circle cx="203.8" cy="280.55" r="1.2" fill="#1e0f26"/><circle cx="212.8" cy="271.97" r="1.2" fill="#1e0f26"/><circle cx="221.8" cy="256.76" r="1.2" fill="#1e0f26"/><circle cx="230.8" cy="277.43" r="1.2" fill="#1e0f26"/><circle cx="239.8" cy="268.85" r="1.2" fill="#1e0f26"/><circle cx="248.8" cy="250.53" r="1.2" fill="#1e0f26"/><path d="M171.5,244.5V299.3H253.9" fill="none" stroke="#151515" stroke-width="1.2"/><line x1="176.8" x2="176.8" y1="299.3" y2="302.4" stroke="#1a1a1a" stroke-width="1.15"/><text transform="translate(176.8,310.5) scale(1.1,1)" text-anchor="middle" font-size="6" fill="#1a1a1a" stroke="#1a1a1a" stroke-width="0.25">0</text><line x1="185.8" x2="185.8" y1="299.3" y2="302.4" stroke="#1a1a1a" stroke-width="1.15"/><text transform="translate(185.8,310.5) scale(1.1,1)" text-anchor="middle" font-size="6" fill="#1a1a1a" stroke="#1a1a1a" stroke-width="0.25">1</text><line x1="194.8" x2="194.8" y1="299.3" y2="302.4" stroke="#1a1a1a" stroke-width="1.15"/><text transform="translate(194.8,310.5) scale(1.1,1)" text-anchor="middle" font-size="6" fill="#1a1a1a" stroke="#1a1a1a" stroke-width="0.25">2</text><line x1="203.8" x2="203.8" y1="299.3" y2="302.4" stroke="#1a1a1a" stroke-width="1.15"/><text transform="translate(203.8,310.5) scale(1.1,1)" text-anchor="middle" font-size="6" fill="#1a1a1a" stroke="#1a1a1a" stroke-width="0.25">3</text><line x1="212.8" x2="212.8" y1="299.3" y2="302.4" stroke="#1a1a1a" stroke-width="1.15"/><text transform="translate(212.8,310.5) scale(1.1,1)" text-anchor="middle" font-size="6" fill="#1a1a1a" stroke="#1a1a1a" stroke-width="0.25">4</text><line x1="221.8" x2="221.8" y1="299.3" y2="302.4" stroke="#1a1a1a" stroke-width="1.15"/><text transform="translate(221.8,310.5) scale(1.1,1)" text-anchor="middle" font-size="6" fill="#1a1a1a" stroke="#1a1a1a" stroke-width="0.25">5</text><line x1="230.8" x2="230.8" y1="299.3" y2="302.4" stroke="#1a1a1a" stroke-width="1.15"/><text transform="translate(230.8,310.5) scale(1.1,1)" text-anchor="middle" font-size="6" fill="#1a1a1a" stroke="#1a1a1a" stroke-width="0.25">6</text><line x1="239.8" x2="239.8" y1="299.3" y2="302.4" stroke="#1a1a1a" stroke-width="1.15"/><text transform="translate(239.8,310.5) scale(1.1,1)" text-anchor="middle" font-size="6" fill="#1a1a1a" stroke="#1a1a1a" stroke-width="0.25">7</text><line x1="248.8" x2="248.8" y1="299.3" y2="302.4" stroke="#1a1a1a" stroke-width="1.15"/><text transform="translate(248.8,310.5) scale(1.1,1)" text-anchor="middle" font-size="6" fill="#1a1a1a" stroke="#1a1a1a" stroke-width="0.25">8</text><line x1="168.4" x2="171.5" y1="252.48" y2="252.48" stroke="#1a1a1a" stroke-width="1.15"/><text transform="translate(166.1,254.53) scale(1.1,1)" text-anchor="end" font-size="5.8" fill="#1a1a1a" stroke="#1a1a1a" stroke-width="0.25">160</text><line x1="168.4" x2="171.5" y1="268.07" y2="268.07" stroke="#1a1a1a" stroke-width="1.15"/><text transform="translate(166.1,270.12) scale(1.1,1)" text-anchor="end" font-size="5.8" fill="#1a1a1a" stroke="#1a1a1a" stroke-width="0.25">120</text><line x1="168.4" x2="171.5" y1="283.67" y2="283.67" stroke="#1a1a1a" stroke-width="1.15"/><text transform="translate(166.1,285.72) scale(1.1,1)" text-anchor="end" font-size="5.8" fill="#1a1a1a" stroke="#1a1a1a" stroke-width="0.25">80</text><line x1="168.4" x2="171.5" y1="299.27" y2="299.27" stroke="#1a1a1a" stroke-width="1.15"/><text transform="translate(166.1,301.32) scale(1.1,1)" text-anchor="end" font-size="5.8" fill="#1a1a1a" stroke="#1a1a1a" stroke-width="0.25">40</text><text transform="translate(149.56,296.4) rotate(-90)" text-anchor="middle" font-size="7.6" textLength="11.2" lengthAdjust="spacingAndGlyphs" fill="#111" stroke="#111" stroke-width="0.35">Area</text><text transform="translate(149.56,282.1) rotate(-90)" text-anchor="middle" font-size="7.6" textLength="14.6" lengthAdjust="spacingAndGlyphs" fill="#111" stroke="#111" stroke-width="0.35">under</text><text transform="translate(149.56,266.6) rotate(-90)" text-anchor="middle" font-size="7.6" textLength="13.6" lengthAdjust="spacingAndGlyphs" fill="#111" stroke="#111" stroke-width="0.35">curve</text><text transform="translate(149.56,250.5) rotate(-90)" text-anchor="middle" font-size="7.6" textLength="15.6" lengthAdjust="spacingAndGlyphs" fill="#111" stroke="#111" stroke-width="0.35">(AUC)</text><text x="212.8" y="237.3" text-anchor="middle" font-size="8.2" fill="#111" stroke="#111" stroke-width="0.2">FCN2</text><circle cx="220.65" cy="244.5" r="0.72" fill="#333"/><circle cx="222.95" cy="244.5" r="0.72" fill="#333"/><circle cx="247.65" cy="244.5" r="0.72" fill="#333"/><circle cx="249.95" cy="244.5" r="0.72" fill="#333"/></g><g><line x1="305.5" x2="381.5" y1="293.45" y2="293.45" stroke="#d2c2d0" stroke-width="1" stroke-dasharray="2.6 2.2"/><path d="M306.5,292.76 L315.5,291.84 L324.5,287.01 L333.5,289.54 L342.5,287.01 L351.5,284.94 L360.5,288.85 L369.5,285.4 L378.5,291.61M306.5,294.6V291.15M315.5,293.45V290M324.5,290V284.25M333.5,291.61V287.47M342.5,290V284.25M351.5,287.7V282.41M360.5,290.69V287.01M369.5,288.85V281.95M378.5,294.6V288.85" fill="none" stroke="#d5f1d6" stroke-width="3.2" stroke-linejoin="round" stroke-linecap="round"/><path d="M306.5,292.76 L315.5,291.15 L324.5,287.7 L333.5,281.95 L342.5,277.81 L351.5,280.8 L360.5,284.25 L369.5,283.1 L378.5,260.1M306.5,297.59V287.93M315.5,294.6V287.47M324.5,295.98V278.96M333.5,290.92V273.9M342.5,284.71V270.45M351.5,287.01V273.9M360.5,287.7V280.11M369.5,293.45V272.75M378.5,273.9V246.3" fill="none" stroke="#f0e2f3" stroke-width="3.2" stroke-linejoin="round" stroke-linecap="round"/><line x1="306.5" x2="306.5" y1="294.6" y2="291.15" stroke="#3f8a4a" stroke-width="1.1"/><line x1="315.5" x2="315.5" y1="293.45" y2="290" stroke="#3f8a4a" stroke-width="1.1"/><line x1="324.5" x2="324.5" y1="290" y2="284.25" stroke="#3f8a4a" stroke-width="1.1"/><line x1="333.5" x2="333.5" y1="291.61" y2="287.47" stroke="#3f8a4a" stroke-width="1.1"/><line x1="342.5" x2="342.5" y1="290" y2="284.25" stroke="#3f8a4a" stroke-width="1.1"/><line x1="351.5" x2="351.5" y1="287.7" y2="282.41" stroke="#3f8a4a" stroke-width="1.1"/><line x1="360.5" x2="360.5" y1="290.69" y2="287.01" stroke="#3f8a4a" stroke-width="1.1"/><line x1="369.5" x2="369.5" y1="288.85" y2="281.95" stroke="#3f8a4a" stroke-width="1.1"/><line x1="378.5" x2="378.5" y1="294.6" y2="288.85" stroke="#3f8a4a" stroke-width="1.1"/><line x1="306.5" x2="306.5" y1="297.59" y2="287.93" stroke="#553a66" stroke-width="1.1"/><line x1="315.5" x2="315.5" y1="294.6" y2="287.47" stroke="#553a66" stroke-width="1.1"/><line x1="324.5" x2="324.5" y1="295.98" y2="278.96" stroke="#553a66" stroke-width="1.1"/><line x1="333.5" x2="333.5" y1="290.92" y2="273.9" stroke="#553a66" stroke-width="1.1"/><line x1="342.5" x2="342.5" y1="284.71" y2="270.45" stroke="#553a66" stroke-width="1.1"/><line x1="351.5" x2="351.5" y1="287.01" y2="273.9" stroke="#553a66" stroke-width="1.1"/><line x1="360.5" x2="360.5" y1="287.7" y2="280.11" stroke="#553a66" stroke-width="1.1"/><line x1="369.5" x2="369.5" y1="293.45" y2="272.75" stroke="#553a66" stroke-width="1.1"/><line x1="378.5" x2="378.5" y1="273.9" y2="246.3" stroke="#553a66" stroke-width="1.1"/><polyline points="306.5,292.76 315.5,291.84 324.5,287.01 333.5,289.54 342.5,287.01 351.5,284.94 360.5,288.85 369.5,285.4 378.5,291.61" fill="none" stroke="#45a055" stroke-width="0.9"/><polyline points="306.5,292.76 315.5,291.15 324.5,287.7 333.5,281.95 342.5,277.81 351.5,280.8 360.5,284.25 369.5,283.1 378.5,260.1" fill="none" stroke="#5a3a72" stroke-width="0.9"/><circle cx="306.5" cy="292.76" r="1.2" fill="#1f5a2c"/><circle cx="315.5" cy="291.84" r="1.2" fill="#1f5a2c"/><circle cx="324.5" cy="287.01" r="1.2" fill="#1f5a2c"/><circle cx="333.5" cy="289.54" r="1.2" fill="#1f5a2c"/><circle cx="342.5" cy="287.01" r="1.2" fill="#1f5a2c"/><circle cx="351.5" cy="284.94" r="1.2" fill="#1f5a2c"/><circle cx="360.5" cy="288.85" r="1.2" fill="#1f5a2c"/><circle cx="369.5" cy="285.4" r="1.2" fill="#1f5a2c"/><circle cx="378.5" cy="291.61" r="1.2" fill="#1f5a2c"/><circle cx="306.5" cy="292.76" r="1.2" fill="#1e0f26"/><circle cx="315.5" cy="291.15" r="1.2" fill="#1e0f26"/><circle cx="324.5" cy="287.7" r="1.2" fill="#1e0f26"/><circle cx="333.5" cy="281.95" r="1.2" fill="#1e0f26"/><circle cx="342.5" cy="277.81" r="1.2" fill="#1e0f26"/><circle cx="351.5" cy="280.8" r="1.2" fill="#1e0f26"/><circle cx="360.5" cy="284.25" r="1.2" fill="#1e0f26"/><circle cx="369.5" cy="283.1" r="1.2" fill="#1e0f26"/><circle cx="378.5" cy="260.1" r="1.2" fill="#1e0f26"/><path d="M301.2,244.5V299.3H383.6" fill="none" stroke="#151515" stroke-width="1.2"/><line x1="306.5" x2="306.5" y1="299.3" y2="302.4" stroke="#1a1a1a" stroke-width="1.15"/><text transform="translate(306.5,310.5) scale(1.1,1)" text-anchor="middle" font-size="6" fill="#1a1a1a" stroke="#1a1a1a" stroke-width="0.25">0</text><line x1="315.5" x2="315.5" y1="299.3" y2="302.4" stroke="#1a1a1a" stroke-width="1.15"/><text transform="translate(315.5,310.5) scale(1.1,1)" text-anchor="middle" font-size="6" fill="#1a1a1a" stroke="#1a1a1a" stroke-width="0.25">1</text><line x1="324.5" x2="324.5" y1="299.3" y2="302.4" stroke="#1a1a1a" stroke-width="1.15"/><text transform="translate(324.5,310.5) scale(1.1,1)" text-anchor="middle" font-size="6" fill="#1a1a1a" stroke="#1a1a1a" stroke-width="0.25">2</text><line x1="333.5" x2="333.5" y1="299.3" y2="302.4" stroke="#1a1a1a" stroke-width="1.15"/><text transform="translate(333.5,310.5) scale(1.1,1)" text-anchor="middle" font-size="6" fill="#1a1a1a" stroke="#1a1a1a" stroke-width="0.25">3</text><line x1="342.5" x2="342.5" y1="299.3" y2="302.4" stroke="#1a1a1a" stroke-width="1.15"/><text transform="translate(342.5,310.5) scale(1.1,1)" text-anchor="middle" font-size="6" fill="#1a1a1a" stroke="#1a1a1a" stroke-width="0.25">4</text><line x1="351.5" x2="351.5" y1="299.3" y2="302.4" stroke="#1a1a1a" stroke-width="1.15"/><text transform="translate(351.5,310.5) scale(1.1,1)" text-anchor="middle" font-size="6" fill="#1a1a1a" stroke="#1a1a1a" stroke-width="0.25">5</text><line x1="360.5" x2="360.5" y1="299.3" y2="302.4" stroke="#1a1a1a" stroke-width="1.15"/><text transform="translate(360.5,310.5) scale(1.1,1)" text-anchor="middle" font-size="6" fill="#1a1a1a" stroke="#1a1a1a" stroke-width="0.25">6</text><line x1="369.5" x2="369.5" y1="299.3" y2="302.4" stroke="#1a1a1a" stroke-width="1.15"/><text transform="translate(369.5,310.5) scale(1.1,1)" text-anchor="middle" font-size="6" fill="#1a1a1a" stroke="#1a1a1a" stroke-width="0.25">7</text><line x1="378.5" x2="378.5" y1="299.3" y2="302.4" stroke="#1a1a1a" stroke-width="1.15"/><text transform="translate(378.5,310.5) scale(1.1,1)" text-anchor="middle" font-size="6" fill="#1a1a1a" stroke="#1a1a1a" stroke-width="0.25">8</text><line x1="298.1" x2="301.2" y1="261.25" y2="261.25" stroke="#1a1a1a" stroke-width="1.15"/><text transform="translate(295.8,263.3) scale(1.1,1)" text-anchor="end" font-size="5.8" fill="#1a1a1a" stroke="#1a1a1a" stroke-width="0.25">200</text><line x1="298.1" x2="301.2" y1="284.25" y2="284.25" stroke="#1a1a1a" stroke-width="1.15"/><text transform="translate(295.8,286.3) scale(1.1,1)" text-anchor="end" font-size="5.8" fill="#1a1a1a" stroke="#1a1a1a" stroke-width="0.25">100</text><text transform="translate(279.26,296.4) rotate(-90)" text-anchor="middle" font-size="7.6" textLength="11.2" lengthAdjust="spacingAndGlyphs" fill="#111" stroke="#111" stroke-width="0.35">Area</text><text transform="translate(279.26,282.1) rotate(-90)" text-anchor="middle" font-size="7.6" textLength="14.6" lengthAdjust="spacingAndGlyphs" fill="#111" stroke="#111" stroke-width="0.35">under</text><text transform="translate(279.26,266.6) rotate(-90)" text-anchor="middle" font-size="7.6" textLength="13.6" lengthAdjust="spacingAndGlyphs" fill="#111" stroke="#111" stroke-width="0.35">curve</text><text transform="translate(279.26,250.5) rotate(-90)" text-anchor="middle" font-size="7.6" textLength="15.6" lengthAdjust="spacingAndGlyphs" fill="#111" stroke="#111" stroke-width="0.35">(AUC)</text><text x="342.5" y="237.3" text-anchor="middle" font-size="8.2" fill="#111" stroke="#111" stroke-width="0.2">MBL2</text><circle cx="378.5" cy="243.8" r="0.72" fill="#333"/></g><g><line x1="435.3" x2="511.3" y1="272.36" y2="272.36" stroke="#d2c2d0" stroke-width="1" stroke-dasharray="2.6 2.2"/><path d="M436.3,284.34 L445.3,289.93 L454.3,289.93 L463.3,286.74 L472.3,285.14 L481.3,289.14 L490.3,281.55 L499.3,289.53 L508.3,280.75M436.3,287.94V281.47M445.3,295.05V284.66M454.3,296.72V283.06M463.3,289.53V283.94M472.3,287.94V282.35M481.3,291.93V286.34M490.3,287.06V277.35M499.3,295.05V286.26M508.3,289.53V275.76" fill="none" stroke="#d5f1d6" stroke-width="3.2" stroke-linejoin="round" stroke-linecap="round"/><path d="M436.3,278.75 L445.3,288.34 L454.3,281.15 L463.3,271.56 L472.3,271.56 L481.3,253.99 L490.3,270.76 L499.3,281.15 L508.3,270.76M436.3,285.94V270.76M445.3,290.73V285.94M454.3,290.73V270.76M463.3,279.55V263.57M472.3,277.95V264.37M481.3,260.38V246.8M490.3,278.75V261.98M499.3,285.14V276.36M508.3,275.56V265.17" fill="none" stroke="#f0e2f3" stroke-width="3.2" stroke-linejoin="round" stroke-linecap="round"/><line x1="436.3" x2="436.3" y1="287.94" y2="281.47" stroke="#3f8a4a" stroke-width="1.1"/><line x1="445.3" x2="445.3" y1="295.05" y2="284.66" stroke="#3f8a4a" stroke-width="1.1"/><line x1="454.3" x2="454.3" y1="296.72" y2="283.06" stroke="#3f8a4a" stroke-width="1.1"/><line x1="463.3" x2="463.3" y1="289.53" y2="283.94" stroke="#3f8a4a" stroke-width="1.1"/><line x1="472.3" x2="472.3" y1="287.94" y2="282.35" stroke="#3f8a4a" stroke-width="1.1"/><line x1="481.3" x2="481.3" y1="291.93" y2="286.34" stroke="#3f8a4a" stroke-width="1.1"/><line x1="490.3" x2="490.3" y1="287.06" y2="277.35" stroke="#3f8a4a" stroke-width="1.1"/><line x1="499.3" x2="499.3" y1="295.05" y2="286.26" stroke="#3f8a4a" stroke-width="1.1"/><line x1="508.3" x2="508.3" y1="289.53" y2="275.76" stroke="#3f8a4a" stroke-width="1.1"/><line x1="436.3" x2="436.3" y1="285.94" y2="270.76" stroke="#553a66" stroke-width="1.1"/><line x1="445.3" x2="445.3" y1="290.73" y2="285.94" stroke="#553a66" stroke-width="1.1"/><line x1="454.3" x2="454.3" y1="290.73" y2="270.76" stroke="#553a66" stroke-width="1.1"/><line x1="463.3" x2="463.3" y1="279.55" y2="263.57" stroke="#553a66" stroke-width="1.1"/><line x1="472.3" x2="472.3" y1="277.95" y2="264.37" stroke="#553a66" stroke-width="1.1"/><line x1="481.3" x2="481.3" y1="260.38" y2="246.8" stroke="#553a66" stroke-width="1.1"/><line x1="490.3" x2="490.3" y1="278.75" y2="261.98" stroke="#553a66" stroke-width="1.1"/><line x1="499.3" x2="499.3" y1="285.14" y2="276.36" stroke="#553a66" stroke-width="1.1"/><line x1="508.3" x2="508.3" y1="275.56" y2="265.17" stroke="#553a66" stroke-width="1.1"/><polyline points="436.3,284.34 445.3,289.93 454.3,289.93 463.3,286.74 472.3,285.14 481.3,289.14 490.3,281.55 499.3,289.53 508.3,280.75" fill="none" stroke="#45a055" stroke-width="0.9"/><polyline points="436.3,278.75 445.3,288.34 454.3,281.15 463.3,271.56 472.3,271.56 481.3,253.99 490.3,270.76 499.3,281.15 508.3,270.76" fill="none" stroke="#5a3a72" stroke-width="0.9"/><circle cx="436.3" cy="284.34" r="1.2" fill="#1f5a2c"/><circle cx="445.3" cy="289.93" r="1.2" fill="#1f5a2c"/><circle cx="454.3" cy="289.93" r="1.2" fill="#1f5a2c"/><circle cx="463.3" cy="286.74" r="1.2" fill="#1f5a2c"/><circle cx="472.3" cy="285.14" r="1.2" fill="#1f5a2c"/><circle cx="481.3" cy="289.14" r="1.2" fill="#1f5a2c"/><circle cx="490.3" cy="281.55" r="1.2" fill="#1f5a2c"/><circle cx="499.3" cy="289.53" r="1.2" fill="#1f5a2c"/><circle cx="508.3" cy="280.75" r="1.2" fill="#1f5a2c"/><circle cx="436.3" cy="278.75" r="1.2" fill="#1e0f26"/><circle cx="445.3" cy="288.34" r="1.2" fill="#1e0f26"/><circle cx="454.3" cy="281.15" r="1.2" fill="#1e0f26"/><circle cx="463.3" cy="271.56" r="1.2" fill="#1e0f26"/><circle cx="472.3" cy="271.56" r="1.2" fill="#1e0f26"/><circle cx="481.3" cy="253.99" r="1.2" fill="#1e0f26"/><circle cx="490.3" cy="270.76" r="1.2" fill="#1e0f26"/><circle cx="499.3" cy="281.15" r="1.2" fill="#1e0f26"/><circle cx="508.3" cy="270.76" r="1.2" fill="#1e0f26"/><path d="M431,244.5V299.3H513.4" fill="none" stroke="#151515" stroke-width="1.2"/><line x1="436.3" x2="436.3" y1="299.3" y2="302.4" stroke="#1a1a1a" stroke-width="1.15"/><text transform="translate(436.3,310.5) scale(1.1,1)" text-anchor="middle" font-size="6" fill="#1a1a1a" stroke="#1a1a1a" stroke-width="0.25">0</text><line x1="445.3" x2="445.3" y1="299.3" y2="302.4" stroke="#1a1a1a" stroke-width="1.15"/><text transform="translate(445.3,310.5) scale(1.1,1)" text-anchor="middle" font-size="6" fill="#1a1a1a" stroke="#1a1a1a" stroke-width="0.25">1</text><line x1="454.3" x2="454.3" y1="299.3" y2="302.4" stroke="#1a1a1a" stroke-width="1.15"/><text transform="translate(454.3,310.5) scale(1.1,1)" text-anchor="middle" font-size="6" fill="#1a1a1a" stroke="#1a1a1a" stroke-width="0.25">2</text><line x1="463.3" x2="463.3" y1="299.3" y2="302.4" stroke="#1a1a1a" stroke-width="1.15"/><text transform="translate(463.3,310.5) scale(1.1,1)" text-anchor="middle" font-size="6" fill="#1a1a1a" stroke="#1a1a1a" stroke-width="0.25">3</text><line x1="472.3" x2="472.3" y1="299.3" y2="302.4" stroke="#1a1a1a" stroke-width="1.15"/><text transform="translate(472.3,310.5) scale(1.1,1)" text-anchor="middle" font-size="6" fill="#1a1a1a" stroke="#1a1a1a" stroke-width="0.25">4</text><line x1="481.3" x2="481.3" y1="299.3" y2="302.4" stroke="#1a1a1a" stroke-width="1.15"/><text transform="translate(481.3,310.5) scale(1.1,1)" text-anchor="middle" font-size="6" fill="#1a1a1a" stroke="#1a1a1a" stroke-width="0.25">5</text><line x1="490.3" x2="490.3" y1="299.3" y2="302.4" stroke="#1a1a1a" stroke-width="1.15"/><text transform="translate(490.3,310.5) scale(1.1,1)" text-anchor="middle" font-size="6" fill="#1a1a1a" stroke="#1a1a1a" stroke-width="0.25">6</text><line x1="499.3" x2="499.3" y1="299.3" y2="302.4" stroke="#1a1a1a" stroke-width="1.15"/><text transform="translate(499.3,310.5) scale(1.1,1)" text-anchor="middle" font-size="6" fill="#1a1a1a" stroke="#1a1a1a" stroke-width="0.25">7</text><line x1="508.3" x2="508.3" y1="299.3" y2="302.4" stroke="#1a1a1a" stroke-width="1.15"/><text transform="translate(508.3,310.5) scale(1.1,1)" text-anchor="middle" font-size="6" fill="#1a1a1a" stroke="#1a1a1a" stroke-width="0.25">8</text><line x1="427.9" x2="431" y1="247.6" y2="247.6" stroke="#1a1a1a" stroke-width="1.15"/><text transform="translate(425.6,249.65) scale(1.1,1)" text-anchor="end" font-size="5.8" fill="#1a1a1a" stroke="#1a1a1a" stroke-width="0.25">10000</text><line x1="427.9" x2="431" y1="263.57" y2="263.57" stroke="#1a1a1a" stroke-width="1.15"/><text transform="translate(425.6,265.62) scale(1.1,1)" text-anchor="end" font-size="5.8" fill="#1a1a1a" stroke="#1a1a1a" stroke-width="0.25">8000</text><line x1="427.9" x2="431" y1="279.55" y2="279.55" stroke="#1a1a1a" stroke-width="1.15"/><text transform="translate(425.6,281.6) scale(1.1,1)" text-anchor="end" font-size="5.8" fill="#1a1a1a" stroke="#1a1a1a" stroke-width="0.25">6000</text><line x1="427.9" x2="431" y1="295.53" y2="295.53" stroke="#1a1a1a" stroke-width="1.15"/><text transform="translate(425.6,297.58) scale(1.1,1)" text-anchor="end" font-size="5.8" fill="#1a1a1a" stroke="#1a1a1a" stroke-width="0.25">4000</text><text transform="translate(401.96,296.4) rotate(-90)" text-anchor="middle" font-size="7.6" textLength="11.2" lengthAdjust="spacingAndGlyphs" fill="#111" stroke="#111" stroke-width="0.35">Area</text><text transform="translate(401.96,282.1) rotate(-90)" text-anchor="middle" font-size="7.6" textLength="14.6" lengthAdjust="spacingAndGlyphs" fill="#111" stroke="#111" stroke-width="0.35">under</text><text transform="translate(401.96,266.6) rotate(-90)" text-anchor="middle" font-size="7.6" textLength="13.6" lengthAdjust="spacingAndGlyphs" fill="#111" stroke="#111" stroke-width="0.35">curve</text><text transform="translate(401.96,250.5) rotate(-90)" text-anchor="middle" font-size="7.6" textLength="15.6" lengthAdjust="spacingAndGlyphs" fill="#111" stroke="#111" stroke-width="0.35">(AUC)</text><text x="472.3" y="237.3" text-anchor="middle" font-size="8.2" fill="#111" stroke="#111" stroke-width="0.2">C4BPA</text><circle cx="463.3" cy="243.75" r="0.72" fill="#333"/><circle cx="472.3" cy="243.75" r="0.72" fill="#333"/><circle cx="479" cy="243.75" r="0.72" fill="#333"/><circle cx="481.3" cy="243.75" r="0.72" fill="#333"/><circle cx="483.6" cy="243.75" r="0.72" fill="#333"/></g><g><line x1="45.9" x2="121.9" y1="388.41" y2="388.41" stroke="#d2c2d0" stroke-width="1" stroke-dasharray="2.6 2.2"/><path d="M46.9,401.95 L55.9,400.32 L64.9,393.56 L73.9,393.83 L82.9,388.95 L91.9,395.45 L100.9,390.58 L109.9,390.58 L118.9,394.1M46.9,404.11V399.78M55.9,401.95V398.7M64.9,397.62V390.04M73.9,395.99V391.12M82.9,391.12V386.79M91.9,398.16V392.74M100.9,393.83V387.87M109.9,395.45V385.71M118.9,400.86V387.87" fill="none" stroke="#d5f1d6" stroke-width="3.2" stroke-linejoin="round" stroke-linecap="round"/><path d="M46.9,395.45 L55.9,391.93 L64.9,388.95 L73.9,373.26 L82.9,380.29 L91.9,364.06 L100.9,379.21 L109.9,382.46 L118.9,377.59M46.9,399.24V391.12M55.9,393.83V390.04M64.9,393.29V381.38M73.9,385.71V360.27M82.9,384.62V375.96M91.9,373.8V352.15M100.9,383.54V373.8M109.9,387.87V375.96M118.9,384.62V370.55" fill="none" stroke="#f0e2f3" stroke-width="3.2" stroke-linejoin="round" stroke-linecap="round"/><line x1="46.9" x2="46.9" y1="404.11" y2="399.78" stroke="#3f8a4a" stroke-width="1.1"/><line x1="55.9" x2="55.9" y1="401.95" y2="398.7" stroke="#3f8a4a" stroke-width="1.1"/><line x1="64.9" x2="64.9" y1="397.62" y2="390.04" stroke="#3f8a4a" stroke-width="1.1"/><line x1="73.9" x2="73.9" y1="395.99" y2="391.12" stroke="#3f8a4a" stroke-width="1.1"/><line x1="82.9" x2="82.9" y1="391.12" y2="386.79" stroke="#3f8a4a" stroke-width="1.1"/><line x1="91.9" x2="91.9" y1="398.16" y2="392.74" stroke="#3f8a4a" stroke-width="1.1"/><line x1="100.9" x2="100.9" y1="393.83" y2="387.87" stroke="#3f8a4a" stroke-width="1.1"/><line x1="109.9" x2="109.9" y1="395.45" y2="385.71" stroke="#3f8a4a" stroke-width="1.1"/><line x1="118.9" x2="118.9" y1="400.86" y2="387.87" stroke="#3f8a4a" stroke-width="1.1"/><line x1="46.9" x2="46.9" y1="399.24" y2="391.12" stroke="#553a66" stroke-width="1.1"/><line x1="55.9" x2="55.9" y1="393.83" y2="390.04" stroke="#553a66" stroke-width="1.1"/><line x1="64.9" x2="64.9" y1="393.29" y2="381.38" stroke="#553a66" stroke-width="1.1"/><line x1="73.9" x2="73.9" y1="385.71" y2="360.27" stroke="#553a66" stroke-width="1.1"/><line x1="82.9" x2="82.9" y1="384.62" y2="375.96" stroke="#553a66" stroke-width="1.1"/><line x1="91.9" x2="91.9" y1="373.8" y2="352.15" stroke="#553a66" stroke-width="1.1"/><line x1="100.9" x2="100.9" y1="383.54" y2="373.8" stroke="#553a66" stroke-width="1.1"/><line x1="109.9" x2="109.9" y1="387.87" y2="375.96" stroke="#553a66" stroke-width="1.1"/><line x1="118.9" x2="118.9" y1="384.62" y2="370.55" stroke="#553a66" stroke-width="1.1"/><polyline points="46.9,401.95 55.9,400.32 64.9,393.56 73.9,393.83 82.9,388.95 91.9,395.45 100.9,390.58 109.9,390.58 118.9,394.1" fill="none" stroke="#45a055" stroke-width="0.9"/><polyline points="46.9,395.45 55.9,391.93 64.9,388.95 73.9,373.26 82.9,380.29 91.9,364.06 100.9,379.21 109.9,382.46 118.9,377.59" fill="none" stroke="#5a3a72" stroke-width="0.9"/><circle cx="46.9" cy="401.95" r="1.2" fill="#1f5a2c"/><circle cx="55.9" cy="400.32" r="1.2" fill="#1f5a2c"/><circle cx="64.9" cy="393.56" r="1.2" fill="#1f5a2c"/><circle cx="73.9" cy="393.83" r="1.2" fill="#1f5a2c"/><circle cx="82.9" cy="388.95" r="1.2" fill="#1f5a2c"/><circle cx="91.9" cy="395.45" r="1.2" fill="#1f5a2c"/><circle cx="100.9" cy="390.58" r="1.2" fill="#1f5a2c"/><circle cx="109.9" cy="390.58" r="1.2" fill="#1f5a2c"/><circle cx="118.9" cy="394.1" r="1.2" fill="#1f5a2c"/><circle cx="46.9" cy="395.45" r="1.2" fill="#1e0f26"/><circle cx="55.9" cy="391.93" r="1.2" fill="#1e0f26"/><circle cx="64.9" cy="388.95" r="1.2" fill="#1e0f26"/><circle cx="73.9" cy="373.26" r="1.2" fill="#1e0f26"/><circle cx="82.9" cy="380.29" r="1.2" fill="#1e0f26"/><circle cx="91.9" cy="364.06" r="1.2" fill="#1e0f26"/><circle cx="100.9" cy="379.21" r="1.2" fill="#1e0f26"/><circle cx="109.9" cy="382.46" r="1.2" fill="#1e0f26"/><circle cx="118.9" cy="377.59" r="1.2" fill="#1e0f26"/><path d="M41.6,350.7V405.5H124" fill="none" stroke="#151515" stroke-width="1.2"/><line x1="46.9" x2="46.9" y1="405.5" y2="408.6" stroke="#1a1a1a" stroke-width="1.15"/><text transform="translate(46.9,416.7) scale(1.1,1)" text-anchor="middle" font-size="6" fill="#1a1a1a" stroke="#1a1a1a" stroke-width="0.25">0</text><line x1="55.9" x2="55.9" y1="405.5" y2="408.6" stroke="#1a1a1a" stroke-width="1.15"/><text transform="translate(55.9,416.7) scale(1.1,1)" text-anchor="middle" font-size="6" fill="#1a1a1a" stroke="#1a1a1a" stroke-width="0.25">1</text><line x1="64.9" x2="64.9" y1="405.5" y2="408.6" stroke="#1a1a1a" stroke-width="1.15"/><text transform="translate(64.9,416.7) scale(1.1,1)" text-anchor="middle" font-size="6" fill="#1a1a1a" stroke="#1a1a1a" stroke-width="0.25">2</text><line x1="73.9" x2="73.9" y1="405.5" y2="408.6" stroke="#1a1a1a" stroke-width="1.15"/><text transform="translate(73.9,416.7) scale(1.1,1)" text-anchor="middle" font-size="6" fill="#1a1a1a" stroke="#1a1a1a" stroke-width="0.25">3</text><line x1="82.9" x2="82.9" y1="405.5" y2="408.6" stroke="#1a1a1a" stroke-width="1.15"/><text transform="translate(82.9,416.7) scale(1.1,1)" text-anchor="middle" font-size="6" fill="#1a1a1a" stroke="#1a1a1a" stroke-width="0.25">4</text><line x1="91.9" x2="91.9" y1="405.5" y2="408.6" stroke="#1a1a1a" stroke-width="1.15"/><text transform="translate(91.9,416.7) scale(1.1,1)" text-anchor="middle" font-size="6" fill="#1a1a1a" stroke="#1a1a1a" stroke-width="0.25">5</text><line x1="100.9" x2="100.9" y1="405.5" y2="408.6" stroke="#1a1a1a" stroke-width="1.15"/><text transform="translate(100.9,416.7) scale(1.1,1)" text-anchor="middle" font-size="6" fill="#1a1a1a" stroke="#1a1a1a" stroke-width="0.25">6</text><line x1="109.9" x2="109.9" y1="405.5" y2="408.6" stroke="#1a1a1a" stroke-width="1.15"/><text transform="translate(109.9,416.7) scale(1.1,1)" text-anchor="middle" font-size="6" fill="#1a1a1a" stroke="#1a1a1a" stroke-width="0.25">7</text><line x1="118.9" x2="118.9" y1="405.5" y2="408.6" stroke="#1a1a1a" stroke-width="1.15"/><text transform="translate(118.9,416.7) scale(1.1,1)" text-anchor="middle" font-size="6" fill="#1a1a1a" stroke="#1a1a1a" stroke-width="0.25">8</text><line x1="38.5" x2="41.6" y1="352.15" y2="352.15" stroke="#1a1a1a" stroke-width="1.15"/><text transform="translate(36.2,354.2) scale(1.1,1)" text-anchor="end" font-size="5.8" fill="#1a1a1a" stroke="#1a1a1a" stroke-width="0.25">1400</text><line x1="38.5" x2="41.6" y1="362.97" y2="362.97" stroke="#1a1a1a" stroke-width="1.15"/><text transform="translate(36.2,365.02) scale(1.1,1)" text-anchor="end" font-size="5.8" fill="#1a1a1a" stroke="#1a1a1a" stroke-width="0.25">1200</text><line x1="38.5" x2="41.6" y1="373.8" y2="373.8" stroke="#1a1a1a" stroke-width="1.15"/><text transform="translate(36.2,375.85) scale(1.1,1)" text-anchor="end" font-size="5.8" fill="#1a1a1a" stroke="#1a1a1a" stroke-width="0.25">1000</text><line x1="38.5" x2="41.6" y1="384.62" y2="384.62" stroke="#1a1a1a" stroke-width="1.15"/><text transform="translate(36.2,386.68) scale(1.1,1)" text-anchor="end" font-size="5.8" fill="#1a1a1a" stroke="#1a1a1a" stroke-width="0.25">800</text><line x1="38.5" x2="41.6" y1="395.45" y2="395.45" stroke="#1a1a1a" stroke-width="1.15"/><text transform="translate(36.2,397.5) scale(1.1,1)" text-anchor="end" font-size="5.8" fill="#1a1a1a" stroke="#1a1a1a" stroke-width="0.25">600</text><text transform="translate(16.11,402.6) rotate(-90)" text-anchor="middle" font-size="7.6" textLength="11.2" lengthAdjust="spacingAndGlyphs" fill="#111" stroke="#111" stroke-width="0.35">Area</text><text transform="translate(16.11,388.3) rotate(-90)" text-anchor="middle" font-size="7.6" textLength="14.6" lengthAdjust="spacingAndGlyphs" fill="#111" stroke="#111" stroke-width="0.35">under</text><text transform="translate(16.11,372.8) rotate(-90)" text-anchor="middle" font-size="7.6" textLength="13.6" lengthAdjust="spacingAndGlyphs" fill="#111" stroke="#111" stroke-width="0.35">curve</text><text transform="translate(16.11,356.7) rotate(-90)" text-anchor="middle" font-size="7.6" textLength="15.6" lengthAdjust="spacingAndGlyphs" fill="#111" stroke="#111" stroke-width="0.35">(AUC)</text><text x="82.9" y="343.5" text-anchor="middle" font-size="8.2" fill="#111" stroke="#111" stroke-width="0.2">C1R</text><circle cx="73.9" cy="350" r="0.72" fill="#333"/><circle cx="90.75" cy="350" r="0.72" fill="#333"/><circle cx="93.05" cy="350" r="0.72" fill="#333"/><text x="6.5" y="334.1" font-size="10.8" font-weight="bold" fill="#000" stroke="#000" stroke-width="0.3">E</text></g><g><line x1="175.8" x2="251.8" y1="387.65" y2="387.65" stroke="#d2c2d0" stroke-width="1" stroke-dasharray="2.6 2.2"/><path d="M176.8,394.46 L185.8,399.75 L194.8,393.32 L203.8,395.59 L212.8,388.79 L221.8,394.46 L230.8,388.03 L239.8,399 L248.8,386.52M176.8,396.73V392.19M185.8,402.02V397.48M194.8,395.97V390.68M203.8,397.48V393.7M212.8,391.43V386.14M221.8,396.35V392.57M230.8,392.19V383.87M239.8,401.26V396.73M248.8,389.92V383.11" fill="none" stroke="#d5f1d6" stroke-width="3.2" stroke-linejoin="round" stroke-linecap="round"/><path d="M176.8,393.7 L185.8,398.62 L194.8,392.95 L203.8,377.06 L212.8,378.2 L221.8,365.72 L230.8,378.58 L239.8,377.06 L248.8,371.77M176.8,396.73V390.68M185.8,400.51V396.73M194.8,399.75V385.38M203.8,385.38V367.99M212.8,383.11V372.53M221.8,377.06V352.86M230.8,386.9V370.26M239.8,385.38V367.99M248.8,379.33V364.21" fill="none" stroke="#f0e2f3" stroke-width="3.2" stroke-linejoin="round" stroke-linecap="round"/><line x1="176.8" x2="176.8" y1="396.73" y2="392.19" stroke="#3f8a4a" stroke-width="1.1"/><line x1="185.8" x2="185.8" y1="402.02" y2="397.48" stroke="#3f8a4a" stroke-width="1.1"/><line x1="194.8" x2="194.8" y1="395.97" y2="390.68" stroke="#3f8a4a" stroke-width="1.1"/><line x1="203.8" x2="203.8" y1="397.48" y2="393.7" stroke="#3f8a4a" stroke-width="1.1"/><line x1="212.8" x2="212.8" y1="391.43" y2="386.14" stroke="#3f8a4a" stroke-width="1.1"/><line x1="221.8" x2="221.8" y1="396.35" y2="392.57" stroke="#3f8a4a" stroke-width="1.1"/><line x1="230.8" x2="230.8" y1="392.19" y2="383.87" stroke="#3f8a4a" stroke-width="1.1"/><line x1="239.8" x2="239.8" y1="401.26" y2="396.73" stroke="#3f8a4a" stroke-width="1.1"/><line x1="248.8" x2="248.8" y1="389.92" y2="383.11" stroke="#3f8a4a" stroke-width="1.1"/><line x1="176.8" x2="176.8" y1="396.73" y2="390.68" stroke="#553a66" stroke-width="1.1"/><line x1="185.8" x2="185.8" y1="400.51" y2="396.73" stroke="#553a66" stroke-width="1.1"/><line x1="194.8" x2="194.8" y1="399.75" y2="385.38" stroke="#553a66" stroke-width="1.1"/><line x1="203.8" x2="203.8" y1="385.38" y2="367.99" stroke="#553a66" stroke-width="1.1"/><line x1="212.8" x2="212.8" y1="383.11" y2="372.53" stroke="#553a66" stroke-width="1.1"/><line x1="221.8" x2="221.8" y1="377.06" y2="352.86" stroke="#553a66" stroke-width="1.1"/><line x1="230.8" x2="230.8" y1="386.9" y2="370.26" stroke="#553a66" stroke-width="1.1"/><line x1="239.8" x2="239.8" y1="385.38" y2="367.99" stroke="#553a66" stroke-width="1.1"/><line x1="248.8" x2="248.8" y1="379.33" y2="364.21" stroke="#553a66" stroke-width="1.1"/><polyline points="176.8,394.46 185.8,399.75 194.8,393.32 203.8,395.59 212.8,388.79 221.8,394.46 230.8,388.03 239.8,399 248.8,386.52" fill="none" stroke="#45a055" stroke-width="0.9"/><polyline points="176.8,393.7 185.8,398.62 194.8,392.95 203.8,377.06 212.8,378.2 221.8,365.72 230.8,378.58 239.8,377.06 248.8,371.77" fill="none" stroke="#5a3a72" stroke-width="0.9"/><circle cx="176.8" cy="394.46" r="1.2" fill="#1f5a2c"/><circle cx="185.8" cy="399.75" r="1.2" fill="#1f5a2c"/><circle cx="194.8" cy="393.32" r="1.2" fill="#1f5a2c"/><circle cx="203.8" cy="395.59" r="1.2" fill="#1f5a2c"/><circle cx="212.8" cy="388.79" r="1.2" fill="#1f5a2c"/><circle cx="221.8" cy="394.46" r="1.2" fill="#1f5a2c"/><circle cx="230.8" cy="388.03" r="1.2" fill="#1f5a2c"/><circle cx="239.8" cy="399" r="1.2" fill="#1f5a2c"/><circle cx="248.8" cy="386.52" r="1.2" fill="#1f5a2c"/><circle cx="176.8" cy="393.7" r="1.2" fill="#1e0f26"/><circle cx="185.8" cy="398.62" r="1.2" fill="#1e0f26"/><circle cx="194.8" cy="392.95" r="1.2" fill="#1e0f26"/><circle cx="203.8" cy="377.06" r="1.2" fill="#1e0f26"/><circle cx="212.8" cy="378.2" r="1.2" fill="#1e0f26"/><circle cx="221.8" cy="365.72" r="1.2" fill="#1e0f26"/><circle cx="230.8" cy="378.58" r="1.2" fill="#1e0f26"/><circle cx="239.8" cy="377.06" r="1.2" fill="#1e0f26"/><circle cx="248.8" cy="371.77" r="1.2" fill="#1e0f26"/><path d="M171.5,350.7V405.5H253.9" fill="none" stroke="#151515" stroke-width="1.2"/><line x1="176.8" x2="176.8" y1="405.5" y2="408.6" stroke="#1a1a1a" stroke-width="1.15"/><text transform="translate(176.8,416.7) scale(1.1,1)" text-anchor="middle" font-size="6" fill="#1a1a1a" stroke="#1a1a1a" stroke-width="0.25">0</text><line x1="185.8" x2="185.8" y1="405.5" y2="408.6" stroke="#1a1a1a" stroke-width="1.15"/><text transform="translate(185.8,416.7) scale(1.1,1)" text-anchor="middle" font-size="6" fill="#1a1a1a" stroke="#1a1a1a" stroke-width="0.25">1</text><line x1="194.8" x2="194.8" y1="405.5" y2="408.6" stroke="#1a1a1a" stroke-width="1.15"/><text transform="translate(194.8,416.7) scale(1.1,1)" text-anchor="middle" font-size="6" fill="#1a1a1a" stroke="#1a1a1a" stroke-width="0.25">2</text><line x1="203.8" x2="203.8" y1="405.5" y2="408.6" stroke="#1a1a1a" stroke-width="1.15"/><text transform="translate(203.8,416.7) scale(1.1,1)" text-anchor="middle" font-size="6" fill="#1a1a1a" stroke="#1a1a1a" stroke-width="0.25">3</text><line x1="212.8" x2="212.8" y1="405.5" y2="408.6" stroke="#1a1a1a" stroke-width="1.15"/><text transform="translate(212.8,416.7) scale(1.1,1)" text-anchor="middle" font-size="6" fill="#1a1a1a" stroke="#1a1a1a" stroke-width="0.25">4</text><line x1="221.8" x2="221.8" y1="405.5" y2="408.6" stroke="#1a1a1a" stroke-width="1.15"/><text transform="translate(221.8,416.7) scale(1.1,1)" text-anchor="middle" font-size="6" fill="#1a1a1a" stroke="#1a1a1a" stroke-width="0.25">5</text><line x1="230.8" x2="230.8" y1="405.5" y2="408.6" stroke="#1a1a1a" stroke-width="1.15"/><text transform="translate(230.8,416.7) scale(1.1,1)" text-anchor="middle" font-size="6" fill="#1a1a1a" stroke="#1a1a1a" stroke-width="0.25">6</text><line x1="239.8" x2="239.8" y1="405.5" y2="408.6" stroke="#1a1a1a" stroke-width="1.15"/><text transform="translate(239.8,416.7) scale(1.1,1)" text-anchor="middle" font-size="6" fill="#1a1a1a" stroke="#1a1a1a" stroke-width="0.25">7</text><line x1="248.8" x2="248.8" y1="405.5" y2="408.6" stroke="#1a1a1a" stroke-width="1.15"/><text transform="translate(248.8,416.7) scale(1.1,1)" text-anchor="middle" font-size="6" fill="#1a1a1a" stroke="#1a1a1a" stroke-width="0.25">8</text><line x1="168.4" x2="171.5" y1="364.21" y2="364.21" stroke="#1a1a1a" stroke-width="1.15"/><text transform="translate(166.1,366.26) scale(1.1,1)" text-anchor="end" font-size="5.8" fill="#1a1a1a" stroke="#1a1a1a" stroke-width="0.25">800</text><line x1="168.4" x2="171.5" y1="379.33" y2="379.33" stroke="#1a1a1a" stroke-width="1.15"/><text transform="translate(166.1,381.38) scale(1.1,1)" text-anchor="end" font-size="5.8" fill="#1a1a1a" stroke="#1a1a1a" stroke-width="0.25">600</text><line x1="168.4" x2="171.5" y1="394.46" y2="394.46" stroke="#1a1a1a" stroke-width="1.15"/><text transform="translate(166.1,396.51) scale(1.1,1)" text-anchor="end" font-size="5.8" fill="#1a1a1a" stroke="#1a1a1a" stroke-width="0.25">400</text><text transform="translate(149.56,402.6) rotate(-90)" text-anchor="middle" font-size="7.6" textLength="11.2" lengthAdjust="spacingAndGlyphs" fill="#111" stroke="#111" stroke-width="0.35">Area</text><text transform="translate(149.56,388.3) rotate(-90)" text-anchor="middle" font-size="7.6" textLength="14.6" lengthAdjust="spacingAndGlyphs" fill="#111" stroke="#111" stroke-width="0.35">under</text><text transform="translate(149.56,372.8) rotate(-90)" text-anchor="middle" font-size="7.6" textLength="13.6" lengthAdjust="spacingAndGlyphs" fill="#111" stroke="#111" stroke-width="0.35">curve</text><text transform="translate(149.56,356.7) rotate(-90)" text-anchor="middle" font-size="7.6" textLength="15.6" lengthAdjust="spacingAndGlyphs" fill="#111" stroke="#111" stroke-width="0.35">(AUC)</text><text x="212.8" y="343.5" text-anchor="middle" font-size="8.2" fill="#111" stroke="#111" stroke-width="0.2">C2</text><circle cx="203.8" cy="350" r="0.72" fill="#333"/><circle cx="220.65" cy="350" r="0.72" fill="#333"/><circle cx="222.95" cy="350" r="0.72" fill="#333"/></g><g><line x1="305.5" x2="381.5" y1="370.8" y2="370.8" stroke="#d2c2d0" stroke-width="1" stroke-dasharray="2.6 2.2"/><path d="M306.5,398.52 L315.5,398.04 L324.5,393.74 L333.5,391.35 L342.5,389.92 L351.5,394.7 L360.5,379.88 L369.5,382.75 L378.5,381.32M306.5,401.39V395.65M315.5,400.43V395.65M324.5,402.34V384.18M333.5,396.61V386.1M342.5,395.65V384.18M351.5,397.56V390.87M360.5,387.05V372.72M369.5,386.1V379.41M378.5,394.7V367.94" fill="none" stroke="#d5f1d6" stroke-width="3.2" stroke-linejoin="round" stroke-linecap="round"/><path d="M306.5,391.35 L315.5,397.56 L324.5,397.09 L333.5,380.36 L342.5,375.58 L351.5,357.42 L360.5,380.36 L369.5,381.32 L378.5,361.25M306.5,397.56V385.14M315.5,400.43V394.7M324.5,403.3V390.87M333.5,394.7V366.98M342.5,386.1V365.07M351.5,361.25V353.6M360.5,391.83V368.89M369.5,389.92V372.72M378.5,365.07V356.47" fill="none" stroke="#f0e2f3" stroke-width="3.2" stroke-linejoin="round" stroke-linecap="round"/><line x1="306.5" x2="306.5" y1="401.39" y2="395.65" stroke="#3f8a4a" stroke-width="1.1"/><line x1="315.5" x2="315.5" y1="400.43" y2="395.65" stroke="#3f8a4a" stroke-width="1.1"/><line x1="324.5" x2="324.5" y1="402.34" y2="384.18" stroke="#3f8a4a" stroke-width="1.1"/><line x1="333.5" x2="333.5" y1="396.61" y2="386.1" stroke="#3f8a4a" stroke-width="1.1"/><line x1="342.5" x2="342.5" y1="395.65" y2="384.18" stroke="#3f8a4a" stroke-width="1.1"/><line x1="351.5" x2="351.5" y1="397.56" y2="390.87" stroke="#3f8a4a" stroke-width="1.1"/><line x1="360.5" x2="360.5" y1="387.05" y2="372.72" stroke="#3f8a4a" stroke-width="1.1"/><line x1="369.5" x2="369.5" y1="386.1" y2="379.41" stroke="#3f8a4a" stroke-width="1.1"/><line x1="378.5" x2="378.5" y1="394.7" y2="367.94" stroke="#3f8a4a" stroke-width="1.1"/><line x1="306.5" x2="306.5" y1="397.56" y2="385.14" stroke="#553a66" stroke-width="1.1"/><line x1="315.5" x2="315.5" y1="400.43" y2="394.7" stroke="#553a66" stroke-width="1.1"/><line x1="324.5" x2="324.5" y1="403.3" y2="390.87" stroke="#553a66" stroke-width="1.1"/><line x1="333.5" x2="333.5" y1="394.7" y2="366.98" stroke="#553a66" stroke-width="1.1"/><line x1="342.5" x2="342.5" y1="386.1" y2="365.07" stroke="#553a66" stroke-width="1.1"/><line x1="351.5" x2="351.5" y1="361.25" y2="353.6" stroke="#553a66" stroke-width="1.1"/><line x1="360.5" x2="360.5" y1="391.83" y2="368.89" stroke="#553a66" stroke-width="1.1"/><line x1="369.5" x2="369.5" y1="389.92" y2="372.72" stroke="#553a66" stroke-width="1.1"/><line x1="378.5" x2="378.5" y1="365.07" y2="356.47" stroke="#553a66" stroke-width="1.1"/><polyline points="306.5,398.52 315.5,398.04 324.5,393.74 333.5,391.35 342.5,389.92 351.5,394.7 360.5,379.88 369.5,382.75 378.5,381.32" fill="none" stroke="#45a055" stroke-width="0.9"/><polyline points="306.5,391.35 315.5,397.56 324.5,397.09 333.5,380.36 342.5,375.58 351.5,357.42 360.5,380.36 369.5,381.32 378.5,361.25" fill="none" stroke="#5a3a72" stroke-width="0.9"/><circle cx="306.5" cy="398.52" r="1.2" fill="#1f5a2c"/><circle cx="315.5" cy="398.04" r="1.2" fill="#1f5a2c"/><circle cx="324.5" cy="393.74" r="1.2" fill="#1f5a2c"/><circle cx="333.5" cy="391.35" r="1.2" fill="#1f5a2c"/><circle cx="342.5" cy="389.92" r="1.2" fill="#1f5a2c"/><circle cx="351.5" cy="394.7" r="1.2" fill="#1f5a2c"/><circle cx="360.5" cy="379.88" r="1.2" fill="#1f5a2c"/><circle cx="369.5" cy="382.75" r="1.2" fill="#1f5a2c"/><circle cx="378.5" cy="381.32" r="1.2" fill="#1f5a2c"/><circle cx="306.5" cy="391.35" r="1.2" fill="#1e0f26"/><circle cx="315.5" cy="397.56" r="1.2" fill="#1e0f26"/><circle cx="324.5" cy="397.09" r="1.2" fill="#1e0f26"/><circle cx="333.5" cy="380.36" r="1.2" fill="#1e0f26"/><circle cx="342.5" cy="375.58" r="1.2" fill="#1e0f26"/><circle cx="351.5" cy="357.42" r="1.2" fill="#1e0f26"/><circle cx="360.5" cy="380.36" r="1.2" fill="#1e0f26"/><circle cx="369.5" cy="381.32" r="1.2" fill="#1e0f26"/><circle cx="378.5" cy="361.25" r="1.2" fill="#1e0f26"/><path d="M301.2,350.7V405.5H383.6" fill="none" stroke="#151515" stroke-width="1.2"/><line x1="306.5" x2="306.5" y1="405.5" y2="408.6" stroke="#1a1a1a" stroke-width="1.15"/><text transform="translate(306.5,416.7) scale(1.1,1)" text-anchor="middle" font-size="6" fill="#1a1a1a" stroke="#1a1a1a" stroke-width="0.25">0</text><line x1="315.5" x2="315.5" y1="405.5" y2="408.6" stroke="#1a1a1a" stroke-width="1.15"/><text transform="translate(315.5,416.7) scale(1.1,1)" text-anchor="middle" font-size="6" fill="#1a1a1a" stroke="#1a1a1a" stroke-width="0.25">1</text><line x1="324.5" x2="324.5" y1="405.5" y2="408.6" stroke="#1a1a1a" stroke-width="1.15"/><text transform="translate(324.5,416.7) scale(1.1,1)" text-anchor="middle" font-size="6" fill="#1a1a1a" stroke="#1a1a1a" stroke-width="0.25">2</text><line x1="333.5" x2="333.5" y1="405.5" y2="408.6" stroke="#1a1a1a" stroke-width="1.15"/><text transform="translate(333.5,416.7) scale(1.1,1)" text-anchor="middle" font-size="6" fill="#1a1a1a" stroke="#1a1a1a" stroke-width="0.25">3</text><line x1="342.5" x2="342.5" y1="405.5" y2="408.6" stroke="#1a1a1a" stroke-width="1.15"/><text transform="translate(342.5,416.7) scale(1.1,1)" text-anchor="middle" font-size="6" fill="#1a1a1a" stroke="#1a1a1a" stroke-width="0.25">4</text><line x1="351.5" x2="351.5" y1="405.5" y2="408.6" stroke="#1a1a1a" stroke-width="1.15"/><text transform="translate(351.5,416.7) scale(1.1,1)" text-anchor="middle" font-size="6" fill="#1a1a1a" stroke="#1a1a1a" stroke-width="0.25">5</text><line x1="360.5" x2="360.5" y1="405.5" y2="408.6" stroke="#1a1a1a" stroke-width="1.15"/><text transform="translate(360.5,416.7) scale(1.1,1)" text-anchor="middle" font-size="6" fill="#1a1a1a" stroke="#1a1a1a" stroke-width="0.25">6</text><line x1="369.5" x2="369.5" y1="405.5" y2="408.6" stroke="#1a1a1a" stroke-width="1.15"/><text transform="translate(369.5,416.7) scale(1.1,1)" text-anchor="middle" font-size="6" fill="#1a1a1a" stroke="#1a1a1a" stroke-width="0.25">7</text><line x1="378.5" x2="378.5" y1="405.5" y2="408.6" stroke="#1a1a1a" stroke-width="1.15"/><text transform="translate(378.5,416.7) scale(1.1,1)" text-anchor="middle" font-size="6" fill="#1a1a1a" stroke="#1a1a1a" stroke-width="0.25">8</text><line x1="298.1" x2="301.2" y1="351.69" y2="351.69" stroke="#1a1a1a" stroke-width="1.15"/><text transform="translate(295.8,353.74) scale(1.1,1)" text-anchor="end" font-size="5.8" fill="#1a1a1a" stroke="#1a1a1a" stroke-width="0.25">11000</text><line x1="298.1" x2="301.2" y1="361.25" y2="361.25" stroke="#1a1a1a" stroke-width="1.15"/><text transform="translate(295.8,363.3) scale(1.1,1)" text-anchor="end" font-size="5.8" fill="#1a1a1a" stroke="#1a1a1a" stroke-width="0.25">10000</text><line x1="298.1" x2="301.2" y1="370.8" y2="370.8" stroke="#1a1a1a" stroke-width="1.15"/><text transform="translate(295.8,372.85) scale(1.1,1)" text-anchor="end" font-size="5.8" fill="#1a1a1a" stroke="#1a1a1a" stroke-width="0.25">9000</text><line x1="298.1" x2="301.2" y1="380.36" y2="380.36" stroke="#1a1a1a" stroke-width="1.15"/><text transform="translate(295.8,382.41) scale(1.1,1)" text-anchor="end" font-size="5.8" fill="#1a1a1a" stroke="#1a1a1a" stroke-width="0.25">8000</text><line x1="298.1" x2="301.2" y1="389.92" y2="389.92" stroke="#1a1a1a" stroke-width="1.15"/><text transform="translate(295.8,391.97) scale(1.1,1)" text-anchor="end" font-size="5.8" fill="#1a1a1a" stroke="#1a1a1a" stroke-width="0.25">7000</text><line x1="298.1" x2="301.2" y1="399.48" y2="399.48" stroke="#1a1a1a" stroke-width="1.15"/><text transform="translate(295.8,401.53) scale(1.1,1)" text-anchor="end" font-size="5.8" fill="#1a1a1a" stroke="#1a1a1a" stroke-width="0.25">6000</text><text transform="translate(272.16,402.6) rotate(-90)" text-anchor="middle" font-size="7.6" textLength="11.2" lengthAdjust="spacingAndGlyphs" fill="#111" stroke="#111" stroke-width="0.35">Area</text><text transform="translate(272.16,388.3) rotate(-90)" text-anchor="middle" font-size="7.6" textLength="14.6" lengthAdjust="spacingAndGlyphs" fill="#111" stroke="#111" stroke-width="0.35">under</text><text transform="translate(272.16,372.8) rotate(-90)" text-anchor="middle" font-size="7.6" textLength="13.6" lengthAdjust="spacingAndGlyphs" fill="#111" stroke="#111" stroke-width="0.35">curve</text><text transform="translate(272.16,356.7) rotate(-90)" text-anchor="middle" font-size="7.6" textLength="15.6" lengthAdjust="spacingAndGlyphs" fill="#111" stroke="#111" stroke-width="0.35">(AUC)</text><text x="342.5" y="343.5" text-anchor="middle" font-size="8.2" fill="#111" stroke="#111" stroke-width="0.2">C3</text><circle cx="349.2" cy="350" r="0.72" fill="#333"/><circle cx="351.5" cy="350" r="0.72" fill="#333"/><circle cx="353.8" cy="350" r="0.72" fill="#333"/></g><g><line x1="435.3" x2="511.3" y1="383.22" y2="383.22" stroke="#d2c2d0" stroke-width="1" stroke-dasharray="2.6 2.2"/><path d="M436.3,393.38 L445.3,393.92 L454.3,396.59 L463.3,383.22 L472.3,382.15 L481.3,382.68 L490.3,379.47 L499.3,381.61 L508.3,384.29M436.3,396.59V389.64M445.3,396.06V391.24M454.3,400.87V391.78M463.3,385.36V381.61M472.3,385.36V378.94M481.3,384.82V380.54M490.3,382.15V376.8M499.3,385.89V377.33M508.3,386.96V381.61" fill="none" stroke="#d5f1d6" stroke-width="3.2" stroke-linejoin="round" stroke-linecap="round"/><path d="M436.3,393.92 L445.3,392.31 L454.3,398.73 L463.3,383.75 L472.3,372.52 L481.3,361.82 L490.3,373.05 L499.3,375.19 L508.3,358.61M436.3,397.66V390.17M445.3,395.52V386.96M454.3,402.48V394.99M463.3,386.43V380.54M472.3,379.47V365.56M481.3,369.84V353.26M490.3,382.15V363.42M499.3,387.5V363.42M508.3,360.21V357" fill="none" stroke="#f0e2f3" stroke-width="3.2" stroke-linejoin="round" stroke-linecap="round"/><line x1="436.3" x2="436.3" y1="396.59" y2="389.64" stroke="#3f8a4a" stroke-width="1.1"/><line x1="445.3" x2="445.3" y1="396.06" y2="391.24" stroke="#3f8a4a" stroke-width="1.1"/><line x1="454.3" x2="454.3" y1="400.87" y2="391.78" stroke="#3f8a4a" stroke-width="1.1"/><line x1="463.3" x2="463.3" y1="385.36" y2="381.61" stroke="#3f8a4a" stroke-width="1.1"/><line x1="472.3" x2="472.3" y1="385.36" y2="378.94" stroke="#3f8a4a" stroke-width="1.1"/><line x1="481.3" x2="481.3" y1="384.82" y2="380.54" stroke="#3f8a4a" stroke-width="1.1"/><line x1="490.3" x2="490.3" y1="382.15" y2="376.8" stroke="#3f8a4a" stroke-width="1.1"/><line x1="499.3" x2="499.3" y1="385.89" y2="377.33" stroke="#3f8a4a" stroke-width="1.1"/><line x1="508.3" x2="508.3" y1="386.96" y2="381.61" stroke="#3f8a4a" stroke-width="1.1"/><line x1="436.3" x2="436.3" y1="397.66" y2="390.17" stroke="#553a66" stroke-width="1.1"/><line x1="445.3" x2="445.3" y1="395.52" y2="386.96" stroke="#553a66" stroke-width="1.1"/><line x1="454.3" x2="454.3" y1="402.48" y2="394.99" stroke="#553a66" stroke-width="1.1"/><line x1="463.3" x2="463.3" y1="386.43" y2="380.54" stroke="#553a66" stroke-width="1.1"/><line x1="472.3" x2="472.3" y1="379.47" y2="365.56" stroke="#553a66" stroke-width="1.1"/><line x1="481.3" x2="481.3" y1="369.84" y2="353.26" stroke="#553a66" stroke-width="1.1"/><line x1="490.3" x2="490.3" y1="382.15" y2="363.42" stroke="#553a66" stroke-width="1.1"/><line x1="499.3" x2="499.3" y1="387.5" y2="363.42" stroke="#553a66" stroke-width="1.1"/><line x1="508.3" x2="508.3" y1="360.21" y2="357" stroke="#553a66" stroke-width="1.1"/><polyline points="436.3,393.38 445.3,393.92 454.3,396.59 463.3,383.22 472.3,382.15 481.3,382.68 490.3,379.47 499.3,381.61 508.3,384.29" fill="none" stroke="#45a055" stroke-width="0.9"/><polyline points="436.3,393.92 445.3,392.31 454.3,398.73 463.3,383.75 472.3,372.52 481.3,361.82 490.3,373.05 499.3,375.19 508.3,358.61" fill="none" stroke="#5a3a72" stroke-width="0.9"/><circle cx="436.3" cy="393.38" r="1.2" fill="#1f5a2c"/><circle cx="445.3" cy="393.92" r="1.2" fill="#1f5a2c"/><circle cx="454.3" cy="396.59" r="1.2" fill="#1f5a2c"/><circle cx="463.3" cy="383.22" r="1.2" fill="#1f5a2c"/><circle cx="472.3" cy="382.15" r="1.2" fill="#1f5a2c"/><circle cx="481.3" cy="382.68" r="1.2" fill="#1f5a2c"/><circle cx="490.3" cy="379.47" r="1.2" fill="#1f5a2c"/><circle cx="499.3" cy="381.61" r="1.2" fill="#1f5a2c"/><circle cx="508.3" cy="384.29" r="1.2" fill="#1f5a2c"/><circle cx="436.3" cy="393.92" r="1.2" fill="#1e0f26"/><circle cx="445.3" cy="392.31" r="1.2" fill="#1e0f26"/><circle cx="454.3" cy="398.73" r="1.2" fill="#1e0f26"/><circle cx="463.3" cy="383.75" r="1.2" fill="#1e0f26"/><circle cx="472.3" cy="372.52" r="1.2" fill="#1e0f26"/><circle cx="481.3" cy="361.82" r="1.2" fill="#1e0f26"/><circle cx="490.3" cy="373.05" r="1.2" fill="#1e0f26"/><circle cx="499.3" cy="375.19" r="1.2" fill="#1e0f26"/><circle cx="508.3" cy="358.61" r="1.2" fill="#1e0f26"/><path d="M431,350.7V405.5H513.4" fill="none" stroke="#151515" stroke-width="1.2"/><line x1="436.3" x2="436.3" y1="405.5" y2="408.6" stroke="#1a1a1a" stroke-width="1.15"/><text transform="translate(436.3,416.7) scale(1.1,1)" text-anchor="middle" font-size="6" fill="#1a1a1a" stroke="#1a1a1a" stroke-width="0.25">0</text><line x1="445.3" x2="445.3" y1="405.5" y2="408.6" stroke="#1a1a1a" stroke-width="1.15"/><text transform="translate(445.3,416.7) scale(1.1,1)" text-anchor="middle" font-size="6" fill="#1a1a1a" stroke="#1a1a1a" stroke-width="0.25">1</text><line x1="454.3" x2="454.3" y1="405.5" y2="408.6" stroke="#1a1a1a" stroke-width="1.15"/><text transform="translate(454.3,416.7) scale(1.1,1)" text-anchor="middle" font-size="6" fill="#1a1a1a" stroke="#1a1a1a" stroke-width="0.25">2</text><line x1="463.3" x2="463.3" y1="405.5" y2="408.6" stroke="#1a1a1a" stroke-width="1.15"/><text transform="translate(463.3,416.7) scale(1.1,1)" text-anchor="middle" font-size="6" fill="#1a1a1a" stroke="#1a1a1a" stroke-width="0.25">3</text><line x1="472.3" x2="472.3" y1="405.5" y2="408.6" stroke="#1a1a1a" stroke-width="1.15"/><text transform="translate(472.3,416.7) scale(1.1,1)" text-anchor="middle" font-size="6" fill="#1a1a1a" stroke="#1a1a1a" stroke-width="0.25">4</text><line x1="481.3" x2="481.3" y1="405.5" y2="408.6" stroke="#1a1a1a" stroke-width="1.15"/><text transform="translate(481.3,416.7) scale(1.1,1)" text-anchor="middle" font-size="6" fill="#1a1a1a" stroke="#1a1a1a" stroke-width="0.25">5</text><line x1="490.3" x2="490.3" y1="405.5" y2="408.6" stroke="#1a1a1a" stroke-width="1.15"/><text transform="translate(490.3,416.7) scale(1.1,1)" text-anchor="middle" font-size="6" fill="#1a1a1a" stroke="#1a1a1a" stroke-width="0.25">6</text><line x1="499.3" x2="499.3" y1="405.5" y2="408.6" stroke="#1a1a1a" stroke-width="1.15"/><text transform="translate(499.3,416.7) scale(1.1,1)" text-anchor="middle" font-size="6" fill="#1a1a1a" stroke="#1a1a1a" stroke-width="0.25">7</text><line x1="508.3" x2="508.3" y1="405.5" y2="408.6" stroke="#1a1a1a" stroke-width="1.15"/><text transform="translate(508.3,416.7) scale(1.1,1)" text-anchor="middle" font-size="6" fill="#1a1a1a" stroke="#1a1a1a" stroke-width="0.25">8</text><line x1="427.9" x2="431" y1="360.75" y2="360.75" stroke="#1a1a1a" stroke-width="1.15"/><text transform="translate(425.6,362.8) scale(1.1,1)" text-anchor="end" font-size="5.8" fill="#1a1a1a" stroke="#1a1a1a" stroke-width="0.25">1500</text><line x1="427.9" x2="431" y1="374.12" y2="374.12" stroke="#1a1a1a" stroke-width="1.15"/><text transform="translate(425.6,376.17) scale(1.1,1)" text-anchor="end" font-size="5.8" fill="#1a1a1a" stroke="#1a1a1a" stroke-width="0.25">1250</text><line x1="427.9" x2="431" y1="387.5" y2="387.5" stroke="#1a1a1a" stroke-width="1.15"/><text transform="translate(425.6,389.55) scale(1.1,1)" text-anchor="end" font-size="5.8" fill="#1a1a1a" stroke="#1a1a1a" stroke-width="0.25">1000</text><line x1="427.9" x2="431" y1="400.87" y2="400.87" stroke="#1a1a1a" stroke-width="1.15"/><text transform="translate(425.6,402.92) scale(1.1,1)" text-anchor="end" font-size="5.8" fill="#1a1a1a" stroke="#1a1a1a" stroke-width="0.25">750</text><text transform="translate(405.51,402.6) rotate(-90)" text-anchor="middle" font-size="7.6" textLength="11.2" lengthAdjust="spacingAndGlyphs" fill="#111" stroke="#111" stroke-width="0.35">Area</text><text transform="translate(405.51,388.3) rotate(-90)" text-anchor="middle" font-size="7.6" textLength="14.6" lengthAdjust="spacingAndGlyphs" fill="#111" stroke="#111" stroke-width="0.35">under</text><text transform="translate(405.51,372.8) rotate(-90)" text-anchor="middle" font-size="7.6" textLength="13.6" lengthAdjust="spacingAndGlyphs" fill="#111" stroke="#111" stroke-width="0.35">curve</text><text transform="translate(405.51,356.7) rotate(-90)" text-anchor="middle" font-size="7.6" textLength="15.6" lengthAdjust="spacingAndGlyphs" fill="#111" stroke="#111" stroke-width="0.35">(AUC)</text><text x="472.3" y="343.5" text-anchor="middle" font-size="8.2" fill="#111" stroke="#111" stroke-width="0.2">C5</text><circle cx="481.3" cy="350" r="0.72" fill="#333"/><circle cx="507.15" cy="350" r="0.72" fill="#333"/><circle cx="509.45" cy="350" r="0.72" fill="#333"/></g><g><line x1="45.9" x2="121.9" y1="508.44" y2="508.44" stroke="#d2c2d0" stroke-width="1" stroke-dasharray="2.6 2.2"/><path d="M46.9,505.99 L55.9,504.36 L64.9,487.86 L73.9,492.85 L82.9,492.4 L91.9,496.75 L100.9,495.11 L109.9,495.25 L118.9,489.77M46.9,506.9V505.08M55.9,507.98V500.64M64.9,490.95V484.42M73.9,495.11V490.58M82.9,495.11V489.68M91.9,499.74V494.66M100.9,497.38V492.85M109.9,501.46V488.86M118.9,494.66V485.96" fill="none" stroke="#d5f1d6" stroke-width="3.2" stroke-linejoin="round" stroke-linecap="round"/><path d="M46.9,507.8 L55.9,484.24 L64.9,483.79 L73.9,479.71 L82.9,481.52 L91.9,467.93 L100.9,478.8 L109.9,476.08 L118.9,475.63M46.9,508.71V505.99M55.9,485.6V482.88M64.9,486.05V481.52M73.9,482.88V476.54M82.9,488.77V474.27M91.9,476.08V458.86M100.9,485.96V471.96M109.9,477.9V473.82M118.9,485.15V465.75" fill="none" stroke="#f0e2f3" stroke-width="3.2" stroke-linejoin="round" stroke-linecap="round"/><line x1="46.9" x2="46.9" y1="506.9" y2="505.08" stroke="#3f8a4a" stroke-width="1.1"/><line x1="55.9" x2="55.9" y1="507.98" y2="500.64" stroke="#3f8a4a" stroke-width="1.1"/><line x1="64.9" x2="64.9" y1="490.95" y2="484.42" stroke="#3f8a4a" stroke-width="1.1"/><line x1="73.9" x2="73.9" y1="495.11" y2="490.58" stroke="#3f8a4a" stroke-width="1.1"/><line x1="82.9" x2="82.9" y1="495.11" y2="489.68" stroke="#3f8a4a" stroke-width="1.1"/><line x1="91.9" x2="91.9" y1="499.74" y2="494.66" stroke="#3f8a4a" stroke-width="1.1"/><line x1="100.9" x2="100.9" y1="497.38" y2="492.85" stroke="#3f8a4a" stroke-width="1.1"/><line x1="109.9" x2="109.9" y1="501.46" y2="488.86" stroke="#3f8a4a" stroke-width="1.1"/><line x1="118.9" x2="118.9" y1="494.66" y2="485.96" stroke="#3f8a4a" stroke-width="1.1"/><line x1="46.9" x2="46.9" y1="508.71" y2="505.99" stroke="#553a66" stroke-width="1.1"/><line x1="55.9" x2="55.9" y1="485.6" y2="482.88" stroke="#553a66" stroke-width="1.1"/><line x1="64.9" x2="64.9" y1="486.05" y2="481.52" stroke="#553a66" stroke-width="1.1"/><line x1="73.9" x2="73.9" y1="482.88" y2="476.54" stroke="#553a66" stroke-width="1.1"/><line x1="82.9" x2="82.9" y1="488.77" y2="474.27" stroke="#553a66" stroke-width="1.1"/><line x1="91.9" x2="91.9" y1="476.08" y2="458.86" stroke="#553a66" stroke-width="1.1"/><line x1="100.9" x2="100.9" y1="485.96" y2="471.96" stroke="#553a66" stroke-width="1.1"/><line x1="109.9" x2="109.9" y1="477.9" y2="473.82" stroke="#553a66" stroke-width="1.1"/><line x1="118.9" x2="118.9" y1="485.15" y2="465.75" stroke="#553a66" stroke-width="1.1"/><polyline points="46.9,505.99 55.9,504.36 64.9,487.86 73.9,492.85 82.9,492.4 91.9,496.75 100.9,495.11 109.9,495.25 118.9,489.77" fill="none" stroke="#45a055" stroke-width="0.9"/><polyline points="46.9,507.8 55.9,484.24 64.9,483.79 73.9,479.71 82.9,481.52 91.9,467.93 100.9,478.8 109.9,476.08 118.9,475.63" fill="none" stroke="#5a3a72" stroke-width="0.9"/><circle cx="46.9" cy="505.99" r="1.2" fill="#1f5a2c"/><circle cx="55.9" cy="504.36" r="1.2" fill="#1f5a2c"/><circle cx="64.9" cy="487.86" r="1.2" fill="#1f5a2c"/><circle cx="73.9" cy="492.85" r="1.2" fill="#1f5a2c"/><circle cx="82.9" cy="492.4" r="1.2" fill="#1f5a2c"/><circle cx="91.9" cy="496.75" r="1.2" fill="#1f5a2c"/><circle cx="100.9" cy="495.11" r="1.2" fill="#1f5a2c"/><circle cx="109.9" cy="495.25" r="1.2" fill="#1f5a2c"/><circle cx="118.9" cy="489.77" r="1.2" fill="#1f5a2c"/><circle cx="46.9" cy="507.8" r="1.2" fill="#1e0f26"/><circle cx="55.9" cy="484.24" r="1.2" fill="#1e0f26"/><circle cx="64.9" cy="483.79" r="1.2" fill="#1e0f26"/><circle cx="73.9" cy="479.71" r="1.2" fill="#1e0f26"/><circle cx="82.9" cy="481.52" r="1.2" fill="#1e0f26"/><circle cx="91.9" cy="467.93" r="1.2" fill="#1e0f26"/><circle cx="100.9" cy="478.8" r="1.2" fill="#1e0f26"/><circle cx="109.9" cy="476.08" r="1.2" fill="#1e0f26"/><circle cx="118.9" cy="475.63" r="1.2" fill="#1e0f26"/><path d="M41.6,456.4V511.2H124" fill="none" stroke="#151515" stroke-width="1.2"/><line x1="46.9" x2="46.9" y1="511.2" y2="514.3" stroke="#1a1a1a" stroke-width="1.15"/><text transform="translate(46.9,522.4) scale(1.1,1)" text-anchor="middle" font-size="6" fill="#1a1a1a" stroke="#1a1a1a" stroke-width="0.25">0</text><line x1="55.9" x2="55.9" y1="511.2" y2="514.3" stroke="#1a1a1a" stroke-width="1.15"/><text transform="translate(55.9,522.4) scale(1.1,1)" text-anchor="middle" font-size="6" fill="#1a1a1a" stroke="#1a1a1a" stroke-width="0.25">1</text><line x1="64.9" x2="64.9" y1="511.2" y2="514.3" stroke="#1a1a1a" stroke-width="1.15"/><text transform="translate(64.9,522.4) scale(1.1,1)" text-anchor="middle" font-size="6" fill="#1a1a1a" stroke="#1a1a1a" stroke-width="0.25">2</text><line x1="73.9" x2="73.9" y1="511.2" y2="514.3" stroke="#1a1a1a" stroke-width="1.15"/><text transform="translate(73.9,522.4) scale(1.1,1)" text-anchor="middle" font-size="6" fill="#1a1a1a" stroke="#1a1a1a" stroke-width="0.25">3</text><line x1="82.9" x2="82.9" y1="511.2" y2="514.3" stroke="#1a1a1a" stroke-width="1.15"/><text transform="translate(82.9,522.4) scale(1.1,1)" text-anchor="middle" font-size="6" fill="#1a1a1a" stroke="#1a1a1a" stroke-width="0.25">4</text><line x1="91.9" x2="91.9" y1="511.2" y2="514.3" stroke="#1a1a1a" stroke-width="1.15"/><text transform="translate(91.9,522.4) scale(1.1,1)" text-anchor="middle" font-size="6" fill="#1a1a1a" stroke="#1a1a1a" stroke-width="0.25">5</text><line x1="100.9" x2="100.9" y1="511.2" y2="514.3" stroke="#1a1a1a" stroke-width="1.15"/><text transform="translate(100.9,522.4) scale(1.1,1)" text-anchor="middle" font-size="6" fill="#1a1a1a" stroke="#1a1a1a" stroke-width="0.25">6</text><line x1="109.9" x2="109.9" y1="511.2" y2="514.3" stroke="#1a1a1a" stroke-width="1.15"/><text transform="translate(109.9,522.4) scale(1.1,1)" text-anchor="middle" font-size="6" fill="#1a1a1a" stroke="#1a1a1a" stroke-width="0.25">7</text><line x1="118.9" x2="118.9" y1="511.2" y2="514.3" stroke="#1a1a1a" stroke-width="1.15"/><text transform="translate(118.9,522.4) scale(1.1,1)" text-anchor="middle" font-size="6" fill="#1a1a1a" stroke="#1a1a1a" stroke-width="0.25">8</text><line x1="38.5" x2="41.6" y1="472.46" y2="472.46" stroke="#1a1a1a" stroke-width="1.15"/><text transform="translate(36.2,474.51) scale(1.1,1)" text-anchor="end" font-size="5.8" fill="#1a1a1a" stroke="#1a1a1a" stroke-width="0.25">4000</text><line x1="38.5" x2="41.6" y1="490.58" y2="490.58" stroke="#1a1a1a" stroke-width="1.15"/><text transform="translate(36.2,492.63) scale(1.1,1)" text-anchor="end" font-size="5.8" fill="#1a1a1a" stroke="#1a1a1a" stroke-width="0.25">2000</text><line x1="38.5" x2="41.6" y1="508.71" y2="508.71" stroke="#1a1a1a" stroke-width="1.15"/><text transform="translate(36.2,510.76) scale(1.1,1)" text-anchor="end" font-size="5.8" fill="#1a1a1a" stroke="#1a1a1a" stroke-width="0.25">0</text><text transform="translate(16.11,508.3) rotate(-90)" text-anchor="middle" font-size="7.6" textLength="11.2" lengthAdjust="spacingAndGlyphs" fill="#111" stroke="#111" stroke-width="0.35">Area</text><text transform="translate(16.11,494) rotate(-90)" text-anchor="middle" font-size="7.6" textLength="14.6" lengthAdjust="spacingAndGlyphs" fill="#111" stroke="#111" stroke-width="0.35">under</text><text transform="translate(16.11,478.5) rotate(-90)" text-anchor="middle" font-size="7.6" textLength="13.6" lengthAdjust="spacingAndGlyphs" fill="#111" stroke="#111" stroke-width="0.35">curve</text><text transform="translate(16.11,462.4) rotate(-90)" text-anchor="middle" font-size="7.6" textLength="15.6" lengthAdjust="spacingAndGlyphs" fill="#111" stroke="#111" stroke-width="0.35">(AUC)</text><text x="82.9" y="449.2" text-anchor="middle" font-size="8.2" fill="#111" stroke="#111" stroke-width="0.2">CRP</text><circle cx="54.75" cy="455.75" r="0.72" fill="#333"/><circle cx="57.05" cy="455.75" r="0.72" fill="#333"/><circle cx="72.75" cy="455.75" r="0.72" fill="#333"/><circle cx="75.05" cy="455.75" r="0.72" fill="#333"/><circle cx="89.6" cy="455.75" r="0.72" fill="#333"/><circle cx="91.9" cy="455.75" r="0.72" fill="#333"/><circle cx="94.2" cy="455.75" r="0.72" fill="#333"/><circle cx="109.9" cy="455.75" r="0.72" fill="#333"/><text x="6.5" y="439.8" font-size="10.8" font-weight="bold" fill="#000" stroke="#000" stroke-width="0.3">F</text><text x="82.9" y="532.6" text-anchor="middle" font-size="7.5" textLength="29.5" lengthAdjust="spacingAndGlyphs" fill="#111" stroke="#111" stroke-width="0.3">Time (days)</text></g><g><line x1="175.8" x2="251.8" y1="508.44" y2="508.44" stroke="#d2c2d0" stroke-width="1" stroke-dasharray="2.6 2.2"/><path d="M176.8,506.9 L185.8,505.08 L194.8,480.61 L203.8,494.21 L212.8,494.66 L221.8,501.46 L230.8,501.91 L239.8,498.29 L248.8,495.57M176.8,507.8V505.99M185.8,507.8V502.36M194.8,483.33V477.9M203.8,496.93V491.49M212.8,497.38V491.94M221.8,502.82V500.1M230.8,503.72V500.1M239.8,505.45V490.95M248.8,499.65V491.49" fill="none" stroke="#d5f1d6" stroke-width="3.2" stroke-linejoin="round" stroke-linecap="round"/><path d="M176.8,507.35 L185.8,495.57 L194.8,477.9 L203.8,484.69 L212.8,483.33 L221.8,470.65 L230.8,487.86 L239.8,481.97 L248.8,476.08M176.8,508.26V505.99M185.8,499.65V491.49M194.8,482.43V473.36M203.8,489.68V479.71M212.8,493.3V473.36M221.8,482.88V458.86M230.8,494.93V480.07M239.8,488.77V475.18M248.8,478.8V473.36" fill="none" stroke="#f0e2f3" stroke-width="3.2" stroke-linejoin="round" stroke-linecap="round"/><line x1="176.8" x2="176.8" y1="507.8" y2="505.99" stroke="#3f8a4a" stroke-width="1.1"/><line x1="185.8" x2="185.8" y1="507.8" y2="502.36" stroke="#3f8a4a" stroke-width="1.1"/><line x1="194.8" x2="194.8" y1="483.33" y2="477.9" stroke="#3f8a4a" stroke-width="1.1"/><line x1="203.8" x2="203.8" y1="496.93" y2="491.49" stroke="#3f8a4a" stroke-width="1.1"/><line x1="212.8" x2="212.8" y1="497.38" y2="491.94" stroke="#3f8a4a" stroke-width="1.1"/><line x1="221.8" x2="221.8" y1="502.82" y2="500.1" stroke="#3f8a4a" stroke-width="1.1"/><line x1="230.8" x2="230.8" y1="503.72" y2="500.1" stroke="#3f8a4a" stroke-width="1.1"/><line x1="239.8" x2="239.8" y1="505.45" y2="490.95" stroke="#3f8a4a" stroke-width="1.1"/><line x1="248.8" x2="248.8" y1="499.65" y2="491.49" stroke="#3f8a4a" stroke-width="1.1"/><line x1="176.8" x2="176.8" y1="508.26" y2="505.99" stroke="#553a66" stroke-width="1.1"/><line x1="185.8" x2="185.8" y1="499.65" y2="491.49" stroke="#553a66" stroke-width="1.1"/><line x1="194.8" x2="194.8" y1="482.43" y2="473.36" stroke="#553a66" stroke-width="1.1"/><line x1="203.8" x2="203.8" y1="489.68" y2="479.71" stroke="#553a66" stroke-width="1.1"/><line x1="212.8" x2="212.8" y1="493.3" y2="473.36" stroke="#553a66" stroke-width="1.1"/><line x1="221.8" x2="221.8" y1="482.88" y2="458.86" stroke="#553a66" stroke-width="1.1"/><line x1="230.8" x2="230.8" y1="494.93" y2="480.07" stroke="#553a66" stroke-width="1.1"/><line x1="239.8" x2="239.8" y1="488.77" y2="475.18" stroke="#553a66" stroke-width="1.1"/><line x1="248.8" x2="248.8" y1="478.8" y2="473.36" stroke="#553a66" stroke-width="1.1"/><polyline points="176.8,506.9 185.8,505.08 194.8,480.61 203.8,494.21 212.8,494.66 221.8,501.46 230.8,501.91 239.8,498.29 248.8,495.57" fill="none" stroke="#45a055" stroke-width="0.9"/><polyline points="176.8,507.35 185.8,495.57 194.8,477.9 203.8,484.69 212.8,483.33 221.8,470.65 230.8,487.86 239.8,481.97 248.8,476.08" fill="none" stroke="#5a3a72" stroke-width="0.9"/><circle cx="176.8" cy="506.9" r="1.2" fill="#1f5a2c"/><circle cx="185.8" cy="505.08" r="1.2" fill="#1f5a2c"/><circle cx="194.8" cy="480.61" r="1.2" fill="#1f5a2c"/><circle cx="203.8" cy="494.21" r="1.2" fill="#1f5a2c"/><circle cx="212.8" cy="494.66" r="1.2" fill="#1f5a2c"/><circle cx="221.8" cy="501.46" r="1.2" fill="#1f5a2c"/><circle cx="230.8" cy="501.91" r="1.2" fill="#1f5a2c"/><circle cx="239.8" cy="498.29" r="1.2" fill="#1f5a2c"/><circle cx="248.8" cy="495.57" r="1.2" fill="#1f5a2c"/><circle cx="176.8" cy="507.35" r="1.2" fill="#1e0f26"/><circle cx="185.8" cy="495.57" r="1.2" fill="#1e0f26"/><circle cx="194.8" cy="477.9" r="1.2" fill="#1e0f26"/><circle cx="203.8" cy="484.69" r="1.2" fill="#1e0f26"/><circle cx="212.8" cy="483.33" r="1.2" fill="#1e0f26"/><circle cx="221.8" cy="470.65" r="1.2" fill="#1e0f26"/><circle cx="230.8" cy="487.86" r="1.2" fill="#1e0f26"/><circle cx="239.8" cy="481.97" r="1.2" fill="#1e0f26"/><circle cx="248.8" cy="476.08" r="1.2" fill="#1e0f26"/><path d="M171.5,456.4V511.2H253.9" fill="none" stroke="#151515" stroke-width="1.2"/><line x1="176.8" x2="176.8" y1="511.2" y2="514.3" stroke="#1a1a1a" stroke-width="1.15"/><text transform="translate(176.8,522.4) scale(1.1,1)" text-anchor="middle" font-size="6" fill="#1a1a1a" stroke="#1a1a1a" stroke-width="0.25">0</text><line x1="185.8" x2="185.8" y1="511.2" y2="514.3" stroke="#1a1a1a" stroke-width="1.15"/><text transform="translate(185.8,522.4) scale(1.1,1)" text-anchor="middle" font-size="6" fill="#1a1a1a" stroke="#1a1a1a" stroke-width="0.25">1</text><line x1="194.8" x2="194.8" y1="511.2" y2="514.3" stroke="#1a1a1a" stroke-width="1.15"/><text transform="translate(194.8,522.4) scale(1.1,1)" text-anchor="middle" font-size="6" fill="#1a1a1a" stroke="#1a1a1a" stroke-width="0.25">2</text><line x1="203.8" x2="203.8" y1="511.2" y2="514.3" stroke="#1a1a1a" stroke-width="1.15"/><text transform="translate(203.8,522.4) scale(1.1,1)" text-anchor="middle" font-size="6" fill="#1a1a1a" stroke="#1a1a1a" stroke-width="0.25">3</text><line x1="212.8" x2="212.8" y1="511.2" y2="514.3" stroke="#1a1a1a" stroke-width="1.15"/><text transform="translate(212.8,522.4) scale(1.1,1)" text-anchor="middle" font-size="6" fill="#1a1a1a" stroke="#1a1a1a" stroke-width="0.25">4</text><line x1="221.8" x2="221.8" y1="511.2" y2="514.3" stroke="#1a1a1a" stroke-width="1.15"/><text transform="translate(221.8,522.4) scale(1.1,1)" text-anchor="middle" font-size="6" fill="#1a1a1a" stroke="#1a1a1a" stroke-width="0.25">5</text><line x1="230.8" x2="230.8" y1="511.2" y2="514.3" stroke="#1a1a1a" stroke-width="1.15"/><text transform="translate(230.8,522.4) scale(1.1,1)" text-anchor="middle" font-size="6" fill="#1a1a1a" stroke="#1a1a1a" stroke-width="0.25">6</text><line x1="239.8" x2="239.8" y1="511.2" y2="514.3" stroke="#1a1a1a" stroke-width="1.15"/><text transform="translate(239.8,522.4) scale(1.1,1)" text-anchor="middle" font-size="6" fill="#1a1a1a" stroke="#1a1a1a" stroke-width="0.25">7</text><line x1="248.8" x2="248.8" y1="511.2" y2="514.3" stroke="#1a1a1a" stroke-width="1.15"/><text transform="translate(248.8,522.4) scale(1.1,1)" text-anchor="middle" font-size="6" fill="#1a1a1a" stroke="#1a1a1a" stroke-width="0.25">8</text><line x1="168.4" x2="171.5" y1="472.46" y2="472.46" stroke="#1a1a1a" stroke-width="1.15"/><text transform="translate(166.1,474.51) scale(1.1,1)" text-anchor="end" font-size="5.8" fill="#1a1a1a" stroke="#1a1a1a" stroke-width="0.25">4000</text><line x1="168.4" x2="171.5" y1="490.58" y2="490.58" stroke="#1a1a1a" stroke-width="1.15"/><text transform="translate(166.1,492.63) scale(1.1,1)" text-anchor="end" font-size="5.8" fill="#1a1a1a" stroke="#1a1a1a" stroke-width="0.25">2000</text><line x1="168.4" x2="171.5" y1="508.71" y2="508.71" stroke="#1a1a1a" stroke-width="1.15"/><text transform="translate(166.1,510.76) scale(1.1,1)" text-anchor="end" font-size="5.8" fill="#1a1a1a" stroke="#1a1a1a" stroke-width="0.25">0</text><text transform="translate(146.01,508.3) rotate(-90)" text-anchor="middle" font-size="7.6" textLength="11.2" lengthAdjust="spacingAndGlyphs" fill="#111" stroke="#111" stroke-width="0.35">Area</text><text transform="translate(146.01,494) rotate(-90)" text-anchor="middle" font-size="7.6" textLength="14.6" lengthAdjust="spacingAndGlyphs" fill="#111" stroke="#111" stroke-width="0.35">under</text><text transform="translate(146.01,478.5) rotate(-90)" text-anchor="middle" font-size="7.6" textLength="13.6" lengthAdjust="spacingAndGlyphs" fill="#111" stroke="#111" stroke-width="0.35">curve</text><text transform="translate(146.01,462.4) rotate(-90)" text-anchor="middle" font-size="7.6" textLength="15.6" lengthAdjust="spacingAndGlyphs" fill="#111" stroke="#111" stroke-width="0.35">(AUC)</text><text x="212.8" y="449.2" text-anchor="middle" font-size="8.2" fill="#111" stroke="#111" stroke-width="0.2">SAA1</text><circle cx="220.65" cy="455.75" r="0.72" fill="#333"/><circle cx="222.95" cy="455.75" r="0.72" fill="#333"/><circle cx="248.8" cy="455.75" r="0.72" fill="#333"/><text x="212.8" y="532.6" text-anchor="middle" font-size="7.5" textLength="29.5" lengthAdjust="spacingAndGlyphs" fill="#111" stroke="#111" stroke-width="0.3">Time (days)</text></g><g><line x1="305.5" x2="381.5" y1="490.76" y2="490.76" stroke="#d2c2d0" stroke-width="1" stroke-dasharray="2.6 2.2"/><path d="M306.5,504.52 L315.5,502.84 L324.5,500.82 L333.5,496.13 L342.5,498.14 L351.5,499.82 L360.5,495.12 L369.5,502.17 L378.5,495.12M306.5,506.87V502.17M315.5,505.52V500.15M324.5,502.84V498.81M333.5,500.15V492.1M342.5,500.82V495.45M351.5,502.84V496.8M360.5,498.14V492.1M369.5,508.88V496.8M378.5,498.14V492.1" fill="none" stroke="#d5f1d6" stroke-width="3.2" stroke-linejoin="round" stroke-linecap="round"/><path d="M306.5,504.85 L315.5,498.48 L324.5,498.14 L333.5,490.08 L342.5,482.7 L351.5,460.55 L360.5,471.29 L369.5,476.66 L378.5,470.62M306.5,507.54V501.83M315.5,501.5V495.45M324.5,500.15V496.13M333.5,495.45V484.04M342.5,488.74V476.66M351.5,461.89V459.21M360.5,479.34V463.23M369.5,480.69V471.96M378.5,473.97V467.26" fill="none" stroke="#f0e2f3" stroke-width="3.2" stroke-linejoin="round" stroke-linecap="round"/><line x1="306.5" x2="306.5" y1="506.87" y2="502.17" stroke="#3f8a4a" stroke-width="1.1"/><line x1="315.5" x2="315.5" y1="505.52" y2="500.15" stroke="#3f8a4a" stroke-width="1.1"/><line x1="324.5" x2="324.5" y1="502.84" y2="498.81" stroke="#3f8a4a" stroke-width="1.1"/><line x1="333.5" x2="333.5" y1="500.15" y2="492.1" stroke="#3f8a4a" stroke-width="1.1"/><line x1="342.5" x2="342.5" y1="500.82" y2="495.45" stroke="#3f8a4a" stroke-width="1.1"/><line x1="351.5" x2="351.5" y1="502.84" y2="496.8" stroke="#3f8a4a" stroke-width="1.1"/><line x1="360.5" x2="360.5" y1="498.14" y2="492.1" stroke="#3f8a4a" stroke-width="1.1"/><line x1="369.5" x2="369.5" y1="508.88" y2="496.8" stroke="#3f8a4a" stroke-width="1.1"/><line x1="378.5" x2="378.5" y1="498.14" y2="492.1" stroke="#3f8a4a" stroke-width="1.1"/><line x1="306.5" x2="306.5" y1="507.54" y2="501.83" stroke="#553a66" stroke-width="1.1"/><line x1="315.5" x2="315.5" y1="501.5" y2="495.45" stroke="#553a66" stroke-width="1.1"/><line x1="324.5" x2="324.5" y1="500.15" y2="496.13" stroke="#553a66" stroke-width="1.1"/><line x1="333.5" x2="333.5" y1="495.45" y2="484.04" stroke="#553a66" stroke-width="1.1"/><line x1="342.5" x2="342.5" y1="488.74" y2="476.66" stroke="#553a66" stroke-width="1.1"/><line x1="351.5" x2="351.5" y1="461.89" y2="459.21" stroke="#553a66" stroke-width="1.1"/><line x1="360.5" x2="360.5" y1="479.34" y2="463.23" stroke="#553a66" stroke-width="1.1"/><line x1="369.5" x2="369.5" y1="480.69" y2="471.96" stroke="#553a66" stroke-width="1.1"/><line x1="378.5" x2="378.5" y1="473.97" y2="467.26" stroke="#553a66" stroke-width="1.1"/><polyline points="306.5,504.52 315.5,502.84 324.5,500.82 333.5,496.13 342.5,498.14 351.5,499.82 360.5,495.12 369.5,502.17 378.5,495.12" fill="none" stroke="#45a055" stroke-width="0.9"/><polyline points="306.5,504.85 315.5,498.48 324.5,498.14 333.5,490.08 342.5,482.7 351.5,460.55 360.5,471.29 369.5,476.66 378.5,470.62" fill="none" stroke="#5a3a72" stroke-width="0.9"/><circle cx="306.5" cy="504.52" r="1.2" fill="#1f5a2c"/><circle cx="315.5" cy="502.84" r="1.2" fill="#1f5a2c"/><circle cx="324.5" cy="500.82" r="1.2" fill="#1f5a2c"/><circle cx="333.5" cy="496.13" r="1.2" fill="#1f5a2c"/><circle cx="342.5" cy="498.14" r="1.2" fill="#1f5a2c"/><circle cx="351.5" cy="499.82" r="1.2" fill="#1f5a2c"/><circle cx="360.5" cy="495.12" r="1.2" fill="#1f5a2c"/><circle cx="369.5" cy="502.17" r="1.2" fill="#1f5a2c"/><circle cx="378.5" cy="495.12" r="1.2" fill="#1f5a2c"/><circle cx="306.5" cy="504.85" r="1.2" fill="#1e0f26"/><circle cx="315.5" cy="498.48" r="1.2" fill="#1e0f26"/><circle cx="324.5" cy="498.14" r="1.2" fill="#1e0f26"/><circle cx="333.5" cy="490.08" r="1.2" fill="#1e0f26"/><circle cx="342.5" cy="482.7" r="1.2" fill="#1e0f26"/><circle cx="351.5" cy="460.55" r="1.2" fill="#1e0f26"/><circle cx="360.5" cy="471.29" r="1.2" fill="#1e0f26"/><circle cx="369.5" cy="476.66" r="1.2" fill="#1e0f26"/><circle cx="378.5" cy="470.62" r="1.2" fill="#1e0f26"/><path d="M301.2,456.4V511.2H383.6" fill="none" stroke="#151515" stroke-width="1.2"/><line x1="306.5" x2="306.5" y1="511.2" y2="514.3" stroke="#1a1a1a" stroke-width="1.15"/><text transform="translate(306.5,522.4) scale(1.1,1)" text-anchor="middle" font-size="6" fill="#1a1a1a" stroke="#1a1a1a" stroke-width="0.25">0</text><line x1="315.5" x2="315.5" y1="511.2" y2="514.3" stroke="#1a1a1a" stroke-width="1.15"/><text transform="translate(315.5,522.4) scale(1.1,1)" text-anchor="middle" font-size="6" fill="#1a1a1a" stroke="#1a1a1a" stroke-width="0.25">1</text><line x1="324.5" x2="324.5" y1="511.2" y2="514.3" stroke="#1a1a1a" stroke-width="1.15"/><text transform="translate(324.5,522.4) scale(1.1,1)" text-anchor="middle" font-size="6" fill="#1a1a1a" stroke="#1a1a1a" stroke-width="0.25">2</text><line x1="333.5" x2="333.5" y1="511.2" y2="514.3" stroke="#1a1a1a" stroke-width="1.15"/><text transform="translate(333.5,522.4) scale(1.1,1)" text-anchor="middle" font-size="6" fill="#1a1a1a" stroke="#1a1a1a" stroke-width="0.25">3</text><line x1="342.5" x2="342.5" y1="511.2" y2="514.3" stroke="#1a1a1a" stroke-width="1.15"/><text transform="translate(342.5,522.4) scale(1.1,1)" text-anchor="middle" font-size="6" fill="#1a1a1a" stroke="#1a1a1a" stroke-width="0.25">4</text><line x1="351.5" x2="351.5" y1="511.2" y2="514.3" stroke="#1a1a1a" stroke-width="1.15"/><text transform="translate(351.5,522.4) scale(1.1,1)" text-anchor="middle" font-size="6" fill="#1a1a1a" stroke="#1a1a1a" stroke-width="0.25">5</text><line x1="360.5" x2="360.5" y1="511.2" y2="514.3" stroke="#1a1a1a" stroke-width="1.15"/><text transform="translate(360.5,522.4) scale(1.1,1)" text-anchor="middle" font-size="6" fill="#1a1a1a" stroke="#1a1a1a" stroke-width="0.25">6</text><line x1="369.5" x2="369.5" y1="511.2" y2="514.3" stroke="#1a1a1a" stroke-width="1.15"/><text transform="translate(369.5,522.4) scale(1.1,1)" text-anchor="middle" font-size="6" fill="#1a1a1a" stroke="#1a1a1a" stroke-width="0.25">7</text><line x1="378.5" x2="378.5" y1="511.2" y2="514.3" stroke="#1a1a1a" stroke-width="1.15"/><text transform="translate(378.5,522.4) scale(1.1,1)" text-anchor="middle" font-size="6" fill="#1a1a1a" stroke="#1a1a1a" stroke-width="0.25">8</text><line x1="298.1" x2="301.2" y1="460.55" y2="460.55" stroke="#1a1a1a" stroke-width="1.15"/><text transform="translate(295.8,462.6) scale(1.1,1)" text-anchor="end" font-size="5.8" fill="#1a1a1a" stroke="#1a1a1a" stroke-width="0.25">1200</text><line x1="298.1" x2="301.2" y1="473.97" y2="473.97" stroke="#1a1a1a" stroke-width="1.15"/><text transform="translate(295.8,476.02) scale(1.1,1)" text-anchor="end" font-size="5.8" fill="#1a1a1a" stroke="#1a1a1a" stroke-width="0.25">1000</text><line x1="298.1" x2="301.2" y1="487.4" y2="487.4" stroke="#1a1a1a" stroke-width="1.15"/><text transform="translate(295.8,489.45) scale(1.1,1)" text-anchor="end" font-size="5.8" fill="#1a1a1a" stroke="#1a1a1a" stroke-width="0.25">800</text><line x1="298.1" x2="301.2" y1="500.82" y2="500.82" stroke="#1a1a1a" stroke-width="1.15"/><text transform="translate(295.8,502.87) scale(1.1,1)" text-anchor="end" font-size="5.8" fill="#1a1a1a" stroke="#1a1a1a" stroke-width="0.25">600</text><text transform="translate(275.71,508.3) rotate(-90)" text-anchor="middle" font-size="7.6" textLength="11.2" lengthAdjust="spacingAndGlyphs" fill="#111" stroke="#111" stroke-width="0.35">Area</text><text transform="translate(275.71,494) rotate(-90)" text-anchor="middle" font-size="7.6" textLength="14.6" lengthAdjust="spacingAndGlyphs" fill="#111" stroke="#111" stroke-width="0.35">under</text><text transform="translate(275.71,478.5) rotate(-90)" text-anchor="middle" font-size="7.6" textLength="13.6" lengthAdjust="spacingAndGlyphs" fill="#111" stroke="#111" stroke-width="0.35">curve</text><text transform="translate(275.71,462.4) rotate(-90)" text-anchor="middle" font-size="7.6" textLength="15.6" lengthAdjust="spacingAndGlyphs" fill="#111" stroke="#111" stroke-width="0.35">(AUC)</text><text x="342.5" y="449.2" text-anchor="middle" font-size="8.2" fill="#111" stroke="#111" stroke-width="0.2">GPX3</text><circle cx="342.5" cy="455.75" r="0.72" fill="#333"/><circle cx="349.2" cy="455.75" r="0.72" fill="#333"/><circle cx="351.5" cy="455.75" r="0.72" fill="#333"/><circle cx="353.8" cy="455.75" r="0.72" fill="#333"/><circle cx="360.5" cy="455.75" r="0.72" fill="#333"/><circle cx="369.5" cy="455.75" r="0.72" fill="#333"/><circle cx="377.35" cy="455.75" r="0.72" fill="#333"/><circle cx="379.65" cy="455.75" r="0.72" fill="#333"/><text x="342.5" y="532.6" text-anchor="middle" font-size="7.5" textLength="29.5" lengthAdjust="spacingAndGlyphs" fill="#111" stroke="#111" stroke-width="0.3">Time (days)</text></g><g><line x1="435.3" x2="511.3" y1="509.06" y2="509.06" stroke="#d2c2d0" stroke-width="1" stroke-dasharray="2.6 2.2"/><path d="M436.3,494.62 L445.3,493.59 L454.3,485 L463.3,493.94 L472.3,486.72 L481.3,488.78 L490.3,490.5 L499.3,492.91 L508.3,491.53M436.3,497.37V491.87M445.3,496.69V490.5M454.3,489.81V480.19M463.3,496V491.87M472.3,489.81V483.62M481.3,493.25V484.31M490.3,496V485M499.3,496V489.81M508.3,494.62V488.44" fill="none" stroke="#d5f1d6" stroke-width="3.2" stroke-linejoin="round" stroke-linecap="round"/><path d="M436.3,483.62 L445.3,482.94 L454.3,485.69 L463.3,476.06 L472.3,472.97 L481.3,469.87 L490.3,471.94 L499.3,487.06 L508.3,465.75M436.3,495.31V472.62M445.3,492.56V473.31M454.3,494.62V482.11M463.3,485.69V465.75M472.3,486.37V457.5M481.3,471.25V468.5M490.3,478.81V465.06M499.3,489.33V482.94M508.3,471.25V460.25" fill="none" stroke="#f0e2f3" stroke-width="3.2" stroke-linejoin="round" stroke-linecap="round"/><line x1="436.3" x2="436.3" y1="497.37" y2="491.87" stroke="#3f8a4a" stroke-width="1.1"/><line x1="445.3" x2="445.3" y1="496.69" y2="490.5" stroke="#3f8a4a" stroke-width="1.1"/><line x1="454.3" x2="454.3" y1="489.81" y2="480.19" stroke="#3f8a4a" stroke-width="1.1"/><line x1="463.3" x2="463.3" y1="496" y2="491.87" stroke="#3f8a4a" stroke-width="1.1"/><line x1="472.3" x2="472.3" y1="489.81" y2="483.62" stroke="#3f8a4a" stroke-width="1.1"/><line x1="481.3" x2="481.3" y1="493.25" y2="484.31" stroke="#3f8a4a" stroke-width="1.1"/><line x1="490.3" x2="490.3" y1="496" y2="485" stroke="#3f8a4a" stroke-width="1.1"/><line x1="499.3" x2="499.3" y1="496" y2="489.81" stroke="#3f8a4a" stroke-width="1.1"/><line x1="508.3" x2="508.3" y1="494.62" y2="488.44" stroke="#3f8a4a" stroke-width="1.1"/><line x1="436.3" x2="436.3" y1="495.31" y2="472.62" stroke="#553a66" stroke-width="1.1"/><line x1="445.3" x2="445.3" y1="492.56" y2="473.31" stroke="#553a66" stroke-width="1.1"/><line x1="454.3" x2="454.3" y1="494.62" y2="482.11" stroke="#553a66" stroke-width="1.1"/><line x1="463.3" x2="463.3" y1="485.69" y2="465.75" stroke="#553a66" stroke-width="1.1"/><line x1="472.3" x2="472.3" y1="486.37" y2="457.5" stroke="#553a66" stroke-width="1.1"/><line x1="481.3" x2="481.3" y1="471.25" y2="468.5" stroke="#553a66" stroke-width="1.1"/><line x1="490.3" x2="490.3" y1="478.81" y2="465.06" stroke="#553a66" stroke-width="1.1"/><line x1="499.3" x2="499.3" y1="489.33" y2="482.94" stroke="#553a66" stroke-width="1.1"/><line x1="508.3" x2="508.3" y1="471.25" y2="460.25" stroke="#553a66" stroke-width="1.1"/><polyline points="436.3,494.62 445.3,493.59 454.3,485 463.3,493.94 472.3,486.72 481.3,488.78 490.3,490.5 499.3,492.91 508.3,491.53" fill="none" stroke="#45a055" stroke-width="0.9"/><polyline points="436.3,483.62 445.3,482.94 454.3,485.69 463.3,476.06 472.3,472.97 481.3,469.87 490.3,471.94 499.3,487.06 508.3,465.75" fill="none" stroke="#5a3a72" stroke-width="0.9"/><circle cx="436.3" cy="494.62" r="1.2" fill="#1f5a2c"/><circle cx="445.3" cy="493.59" r="1.2" fill="#1f5a2c"/><circle cx="454.3" cy="485" r="1.2" fill="#1f5a2c"/><circle cx="463.3" cy="493.94" r="1.2" fill="#1f5a2c"/><circle cx="472.3" cy="486.72" r="1.2" fill="#1f5a2c"/><circle cx="481.3" cy="488.78" r="1.2" fill="#1f5a2c"/><circle cx="490.3" cy="490.5" r="1.2" fill="#1f5a2c"/><circle cx="499.3" cy="492.91" r="1.2" fill="#1f5a2c"/><circle cx="508.3" cy="491.53" r="1.2" fill="#1f5a2c"/><circle cx="436.3" cy="483.62" r="1.2" fill="#1e0f26"/><circle cx="445.3" cy="482.94" r="1.2" fill="#1e0f26"/><circle cx="454.3" cy="485.69" r="1.2" fill="#1e0f26"/><circle cx="463.3" cy="476.06" r="1.2" fill="#1e0f26"/><circle cx="472.3" cy="472.97" r="1.2" fill="#1e0f26"/><circle cx="481.3" cy="469.87" r="1.2" fill="#1e0f26"/><circle cx="490.3" cy="471.94" r="1.2" fill="#1e0f26"/><circle cx="499.3" cy="487.06" r="1.2" fill="#1e0f26"/><circle cx="508.3" cy="465.75" r="1.2" fill="#1e0f26"/><path d="M431,456.4V511.2H513.4" fill="none" stroke="#151515" stroke-width="1.2"/><line x1="436.3" x2="436.3" y1="511.2" y2="514.3" stroke="#1a1a1a" stroke-width="1.15"/><text transform="translate(436.3,522.4) scale(1.1,1)" text-anchor="middle" font-size="6" fill="#1a1a1a" stroke="#1a1a1a" stroke-width="0.25">0</text><line x1="445.3" x2="445.3" y1="511.2" y2="514.3" stroke="#1a1a1a" stroke-width="1.15"/><text transform="translate(445.3,522.4) scale(1.1,1)" text-anchor="middle" font-size="6" fill="#1a1a1a" stroke="#1a1a1a" stroke-width="0.25">1</text><line x1="454.3" x2="454.3" y1="511.2" y2="514.3" stroke="#1a1a1a" stroke-width="1.15"/><text transform="translate(454.3,522.4) scale(1.1,1)" text-anchor="middle" font-size="6" fill="#1a1a1a" stroke="#1a1a1a" stroke-width="0.25">2</text><line x1="463.3" x2="463.3" y1="511.2" y2="514.3" stroke="#1a1a1a" stroke-width="1.15"/><text transform="translate(463.3,522.4) scale(1.1,1)" text-anchor="middle" font-size="6" fill="#1a1a1a" stroke="#1a1a1a" stroke-width="0.25">3</text><line x1="472.3" x2="472.3" y1="511.2" y2="514.3" stroke="#1a1a1a" stroke-width="1.15"/><text transform="translate(472.3,522.4) scale(1.1,1)" text-anchor="middle" font-size="6" fill="#1a1a1a" stroke="#1a1a1a" stroke-width="0.25">4</text><line x1="481.3" x2="481.3" y1="511.2" y2="514.3" stroke="#1a1a1a" stroke-width="1.15"/><text transform="translate(481.3,522.4) scale(1.1,1)" text-anchor="middle" font-size="6" fill="#1a1a1a" stroke="#1a1a1a" stroke-width="0.25">5</text><line x1="490.3" x2="490.3" y1="511.2" y2="514.3" stroke="#1a1a1a" stroke-width="1.15"/><text transform="translate(490.3,522.4) scale(1.1,1)" text-anchor="middle" font-size="6" fill="#1a1a1a" stroke="#1a1a1a" stroke-width="0.25">6</text><line x1="499.3" x2="499.3" y1="511.2" y2="514.3" stroke="#1a1a1a" stroke-width="1.15"/><text transform="translate(499.3,522.4) scale(1.1,1)" text-anchor="middle" font-size="6" fill="#1a1a1a" stroke="#1a1a1a" stroke-width="0.25">7</text><line x1="508.3" x2="508.3" y1="511.2" y2="514.3" stroke="#1a1a1a" stroke-width="1.15"/><text transform="translate(508.3,522.4) scale(1.1,1)" text-anchor="middle" font-size="6" fill="#1a1a1a" stroke="#1a1a1a" stroke-width="0.25">8</text><line x1="427.9" x2="431" y1="457.5" y2="457.5" stroke="#1a1a1a" stroke-width="1.15"/><text transform="translate(425.6,459.55) scale(1.1,1)" text-anchor="end" font-size="5.8" fill="#1a1a1a" stroke="#1a1a1a" stroke-width="0.25">800</text><line x1="427.9" x2="431" y1="471.25" y2="471.25" stroke="#1a1a1a" stroke-width="1.15"/><text transform="translate(425.6,473.3) scale(1.1,1)" text-anchor="end" font-size="5.8" fill="#1a1a1a" stroke="#1a1a1a" stroke-width="0.25">600</text><line x1="427.9" x2="431" y1="485" y2="485" stroke="#1a1a1a" stroke-width="1.15"/><text transform="translate(425.6,487.05) scale(1.1,1)" text-anchor="end" font-size="5.8" fill="#1a1a1a" stroke="#1a1a1a" stroke-width="0.25">400</text><line x1="427.9" x2="431" y1="498.75" y2="498.75" stroke="#1a1a1a" stroke-width="1.15"/><text transform="translate(425.6,500.8) scale(1.1,1)" text-anchor="end" font-size="5.8" fill="#1a1a1a" stroke="#1a1a1a" stroke-width="0.25">200</text><text transform="translate(409.06,508.3) rotate(-90)" text-anchor="middle" font-size="7.6" textLength="11.2" lengthAdjust="spacingAndGlyphs" fill="#111" stroke="#111" stroke-width="0.35">Area</text><text transform="translate(409.06,494) rotate(-90)" text-anchor="middle" font-size="7.6" textLength="14.6" lengthAdjust="spacingAndGlyphs" fill="#111" stroke="#111" stroke-width="0.35">under</text><text transform="translate(409.06,478.5) rotate(-90)" text-anchor="middle" font-size="7.6" textLength="13.6" lengthAdjust="spacingAndGlyphs" fill="#111" stroke="#111" stroke-width="0.35">curve</text><text transform="translate(409.06,462.4) rotate(-90)" text-anchor="middle" font-size="7.6" textLength="15.6" lengthAdjust="spacingAndGlyphs" fill="#111" stroke="#111" stroke-width="0.35">(AUC)</text><text x="472.3" y="449.2" text-anchor="middle" font-size="8.2" fill="#111" stroke="#111" stroke-width="0.2">VWF</text><circle cx="463.3" cy="456.5" r="0.72" fill="#333"/><circle cx="508.3" cy="456.5" r="0.72" fill="#333"/><text x="402.7" y="439.8" font-size="10.8" font-weight="bold" fill="#000" stroke="#000" stroke-width="0.3">G</text><text x="472.3" y="532.6" text-anchor="middle" font-size="7.5" textLength="29.5" lengthAdjust="spacingAndGlyphs" fill="#111" stroke="#111" stroke-width="0.3">Time (days)</text></g></svg>
</body></html>
